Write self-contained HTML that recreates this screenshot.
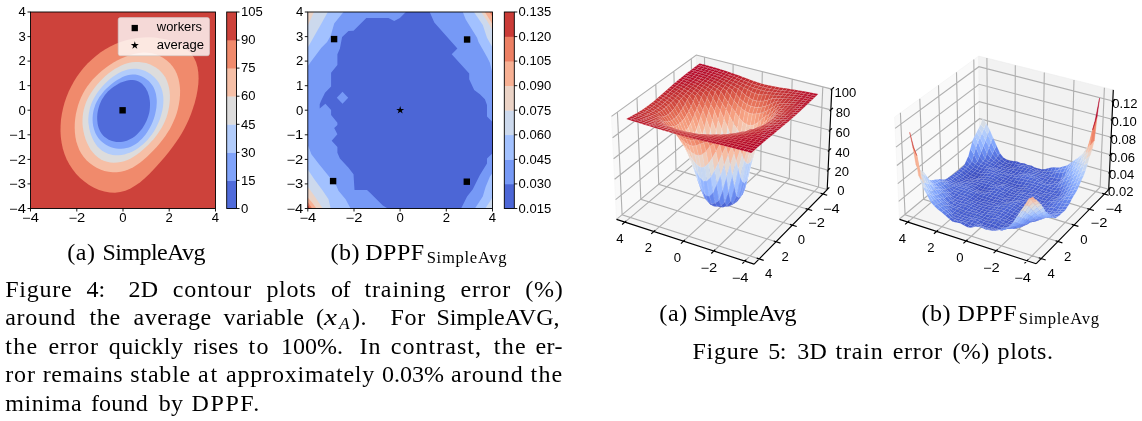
<!DOCTYPE html>
<html><head><meta charset="utf-8"><title>Figure 4 and Figure 5</title>
<style>
html,body{margin:0;padding:0;background:#fff;}
svg,.ln{will-change:transform;}
body{width:1142px;height:421px;position:relative;overflow:hidden;font-family:"Liberation Serif",serif;color:#000;}
.ln{position:absolute;left:0;white-space:nowrap;font-size:24px;line-height:1;}
.ln span{position:absolute;top:0;}
.ln i.mx{display:inline-block;transform:scaleX(1.22);transform-origin:0 50%;margin:0 4.4px 0 -0.6px;letter-spacing:0;}
.ln i.sb{font-size:17.5px;position:relative;top:4.2px;margin-right:2.2px;letter-spacing:0;}
.ln span.sub{font-size:16.6px;top:9.6px;line-height:1;}
</style></head><body>
<svg width="575" height="232" viewBox="0 0 575 232" style="position:absolute;left:0;top:0" font-family="Liberation Sans, sans-serif" font-size="12.0" fill="#000"><rect x="30.5" y="12" width="185.0" height="196.5" fill="#cd423b"/><path d="M148.9 37.3L154.9 37.6L160.8 38.4L166.7 39.6L172.3 41.4L177.6 43.6L182.6 46.2L186.9 49.4L190.7 53.1L193.7 57.3L196 62L197.5 67.2L198.3 72.6L198.6 78.4L198.3 84.3L197.5 90.3L196.4 96.3L194.9 102.2L193.1 108L191.2 113.6L189 118.9L186.7 124L184.2 128.9L181.5 133.7L178.7 138.3L175.6 142.8L172.4 147.3L169 151.7L165.4 156.2L161.7 160.6L157.7 165.1L153.6 169.6L149.3 174L144.8 178.3L140.2 182.2L135.4 185.6L130.5 188.5L125.4 190.7L120.2 192.1L115 192.7L109.7 192.5L104.4 191.6L99.1 190L94 187.8L89.1 185L84.4 181.6L80.1 177.9L76 173.7L72.4 169.1L69.3 164.3L66.6 159.2L64.5 153.9L62.8 148.4L61.6 142.8L60.8 137L60.5 131.2L60.6 125.4L61 119.6L61.9 113.8L63.1 108L64.6 102.4L66.5 96.9L68.7 91.6L71.2 86.4L73.9 81.4L77 76.5L80.3 71.9L83.9 67.5L87.8 63.3L91.9 59.4L96.2 55.7L100.7 52.3L105.4 49.2L110.3 46.5L115.4 44L120.6 41.9L126 40.2L131.5 38.9L137.2 37.9L143 37.4Z" fill="#f08a6c"/><path d="M151.8 53.2L155.9 54.3L159.8 55.9L163.4 57.9L166.8 60.4L169.9 63.2L172.7 66.4L175 69.9L176.8 73.7L178.2 77.7L179.2 81.9L179.8 86.2L180.1 90.7L180 95.2L179.6 99.7L178.9 104.2L178 108.6L176.8 112.9L175.4 117L173.7 121.1L171.9 125L169.9 128.9L167.6 132.6L165.2 136.3L162.6 139.8L159.8 143.3L156.9 146.7L153.8 150L150.6 153.3L147.3 156.5L143.9 159.6L140.3 162.4L136.6 165.1L132.8 167.4L128.9 169.3L125 170.8L120.9 171.8L116.8 172.3L112.6 172.3L108.5 171.8L104.4 170.9L100.4 169.5L96.6 167.7L93 165.6L89.6 163L86.5 160.2L83.7 157L81.3 153.4L79.2 149.7L77.6 145.6L76.3 141.4L75.4 137L74.9 132.4L74.7 127.9L74.8 123.2L75.2 118.7L75.9 114.1L76.9 109.7L78 105.4L79.5 101.3L81.1 97.3L83 93.5L85.1 89.8L87.4 86.3L89.9 82.9L92.7 79.6L95.7 76.4L98.8 73.4L102.2 70.5L105.8 67.7L109.6 65L113.5 62.5L117.6 60.2L121.8 58.2L126.1 56.4L130.4 54.9L134.8 53.7L139.1 52.9L143.4 52.6L147.7 52.7Z" fill="#f6bfa6"/><path d="M135.4 62L139 62L142.5 62.4L146.1 63.1L149.5 64.3L152.7 65.7L155.8 67.5L158.7 69.6L161.2 72L163.5 74.7L165.4 77.6L166.9 80.8L168.1 84.2L169 87.8L169.6 91.4L169.9 95.2L169.9 99L169.6 102.8L169.1 106.6L168.4 110.3L167.5 114L166.4 117.5L165 120.9L163.5 124.2L161.8 127.4L159.9 130.6L157.9 133.6L155.7 136.5L153.4 139.4L150.9 142.1L148.4 144.8L145.7 147.3L142.9 149.8L140 152.2L137 154.4L133.9 156.5L130.7 158.4L127.5 159.9L124.1 161.2L120.7 162.1L117.2 162.6L113.7 162.7L110.3 162.4L107 161.7L103.7 160.7L100.6 159.2L97.8 157.3L95.1 155L92.7 152.3L90.5 149.4L88.6 146.1L87 142.7L85.5 139.1L84.4 135.3L83.5 131.5L82.9 127.7L82.5 123.9L82.5 120.2L82.7 116.5L83.1 113L83.8 109.5L84.8 106.1L85.9 102.8L87.3 99.5L89 96.3L90.8 93.2L92.8 90.2L95 87.2L97.4 84.3L99.9 81.5L102.6 78.7L105.4 76.1L108.4 73.6L111.5 71.2L114.7 69.1L118 67.2L121.3 65.5L124.8 64.1L128.3 63.1L131.8 62.3Z" fill="#dddcdc"/><path d="M133.6 68.7L136.6 68.8L139.6 69.2L142.5 70L145.3 71.1L148 72.5L150.5 74.1L152.9 76L155.1 78L157 80.3L158.8 82.8L160.2 85.4L161.4 88.2L162.3 91.1L162.9 94L163.3 97.1L163.4 100.2L163.3 103.4L163 106.6L162.5 109.8L161.7 113L160.8 116.2L159.8 119.4L158.5 122.5L157.1 125.5L155.6 128.5L153.9 131.4L152 134.2L150 136.8L147.9 139.4L145.7 141.8L143.3 144L140.9 146.1L138.4 148L135.7 149.7L133 151.2L130.2 152.5L127.3 153.6L124.4 154.4L121.4 154.9L118.5 155.2L115.5 155.2L112.6 154.9L109.7 154.3L106.9 153.3L104.3 152.1L101.8 150.5L99.5 148.6L97.4 146.4L95.6 143.9L93.9 141.2L92.4 138.3L91.2 135.2L90.1 132.1L89.3 128.8L88.8 125.6L88.4 122.4L88.3 119.2L88.5 116.1L88.9 113L89.5 110L90.2 107L91.2 104.1L92.4 101.3L93.8 98.5L95.4 95.7L97.1 93.1L99 90.5L101 88L103.2 85.5L105.6 83.1L108 80.8L110.6 78.6L113.3 76.6L116 74.7L118.8 73L121.7 71.6L124.7 70.4L127.7 69.5L130.6 68.9Z" fill="#b2ccfb"/><path d="M132.7 74.5L135.2 74.6L137.7 75L140.1 75.7L142.5 76.7L144.7 77.9L146.8 79.4L148.8 81.1L150.5 82.9L152.1 84.9L153.4 87.1L154.5 89.4L155.3 91.8L156 94.3L156.4 96.9L156.7 99.5L156.8 102.3L156.6 105L156.4 107.8L155.9 110.6L155.3 113.5L154.6 116.3L153.7 119.1L152.7 121.8L151.5 124.5L150.2 127.1L148.8 129.6L147.3 132.1L145.6 134.4L143.9 136.6L142 138.7L140 140.6L138 142.4L135.8 143.9L133.6 145.3L131.3 146.5L128.9 147.4L126.4 148.1L123.9 148.6L121.3 148.8L118.7 148.7L116.2 148.4L113.6 147.9L111.1 147.2L108.7 146.2L106.3 145L104.1 143.6L102.1 142L100.2 140.2L98.5 138.3L97 136.1L95.7 133.8L94.7 131.3L93.9 128.7L93.2 126.1L92.8 123.3L92.6 120.6L92.6 117.8L92.8 115L93.2 112.2L93.8 109.5L94.6 106.9L95.5 104.3L96.7 101.8L98 99.4L99.4 97.1L101 94.9L102.7 92.7L104.5 90.6L106.5 88.6L108.5 86.7L110.7 84.8L112.9 83L115.2 81.3L117.6 79.8L120 78.4L122.5 77.1L125 76.1L127.5 75.3L130.1 74.8Z" fill="#80a3fa"/><path d="M132.8 79.9L134.8 80.2L136.7 80.7L138.5 81.4L140.2 82.4L141.7 83.5L143.1 84.9L144.4 86.4L145.6 88L146.6 89.9L147.6 91.8L148.3 93.9L149 96L149.4 98.2L149.8 100.5L150 102.9L150 105.2L149.9 107.6L149.7 110L149.3 112.4L148.7 114.7L148 117.1L147.2 119.3L146.2 121.6L145.1 123.7L143.9 125.8L142.6 127.9L141.2 129.8L139.7 131.6L138.1 133.3L136.4 134.9L134.6 136.4L132.8 137.7L130.9 138.8L128.9 139.8L126.9 140.7L124.8 141.3L122.8 141.8L120.6 142.1L118.5 142.1L116.3 141.9L114.1 141.6L112 141L110 140.2L108 139.3L106.2 138.1L104.4 136.8L102.9 135.3L101.5 133.6L100.4 131.8L99.4 129.8L98.6 127.8L98 125.6L97.6 123.4L97.3 121.1L97.2 118.8L97.2 116.4L97.4 114.1L97.7 111.7L98.2 109.4L98.8 107.2L99.5 105L100.3 102.9L101.3 100.8L102.4 98.8L103.6 96.9L104.9 95.1L106.4 93.3L107.9 91.6L109.6 90L111.4 88.5L113.3 87L115.3 85.7L117.3 84.4L119.5 83.3L121.7 82.3L124 81.4L126.3 80.7L128.5 80.2L130.7 80Z" fill="#506bda"/><rect x="119.4" y="107.1" width="6.4" height="6.4" fill="#000"/><rect x="118.2" y="17.6" width="91.3" height="38.1" rx="2.2" fill="#fff" fill-opacity="0.8" stroke="#ccc" stroke-opacity="0.8" stroke-width="0.8"/><rect x="131.6" y="24.9" width="6.3" height="6.3" fill="#000"/><path d="M134.8 41.2L135.7 44.1L138.8 44.1L136.3 45.9L137.3 48.8L134.8 47L132.3 48.8L133.3 45.9L130.8 44.1L133.9 44.1Z" fill="#000"/><text x="156.8" y="31.4" textLength="45.3" lengthAdjust="spacingAndGlyphs">workers</text><text x="156.8" y="48.6" textLength="47.2" lengthAdjust="spacingAndGlyphs">average</text><rect x="30.5" y="12" width="185.0" height="196.5" fill="none" stroke="#000" stroke-width="0.9"/><path d="M30.5 12h-3" stroke="#000" stroke-width="0.9"/><text x="25.9" y="16.2" text-anchor="end" textLength="7.3" lengthAdjust="spacingAndGlyphs">4</text><path d="M30.5 36.6h-3" stroke="#000" stroke-width="0.9"/><text x="25.9" y="40.8" text-anchor="end" textLength="7.3" lengthAdjust="spacingAndGlyphs">3</text><path d="M30.5 61.1h-3" stroke="#000" stroke-width="0.9"/><text x="25.9" y="65.3" text-anchor="end" textLength="7.3" lengthAdjust="spacingAndGlyphs">2</text><path d="M30.5 85.7h-3" stroke="#000" stroke-width="0.9"/><text x="25.9" y="89.9" text-anchor="end" textLength="7.3" lengthAdjust="spacingAndGlyphs">1</text><path d="M30.5 110.2h-3" stroke="#000" stroke-width="0.9"/><text x="25.9" y="114.5" text-anchor="end" textLength="7.3" lengthAdjust="spacingAndGlyphs">0</text><path d="M30.5 134.8h-3" stroke="#000" stroke-width="0.9"/><text x="25.9" y="139" text-anchor="end" textLength="16.8" lengthAdjust="spacingAndGlyphs">−1</text><path d="M30.5 159.4h-3" stroke="#000" stroke-width="0.9"/><text x="25.9" y="163.6" text-anchor="end" textLength="16.8" lengthAdjust="spacingAndGlyphs">−2</text><path d="M30.5 183.9h-3" stroke="#000" stroke-width="0.9"/><text x="25.9" y="188.1" text-anchor="end" textLength="16.8" lengthAdjust="spacingAndGlyphs">−3</text><path d="M30.5 208.5h-3" stroke="#000" stroke-width="0.9"/><text x="25.9" y="212.7" text-anchor="end" textLength="16.8" lengthAdjust="spacingAndGlyphs">−4</text><path d="M30.5 208.5v3" stroke="#000" stroke-width="0.9"/><text x="30.5" y="222.1" text-anchor="middle" textLength="16.8" lengthAdjust="spacingAndGlyphs">−4</text><path d="M76.8 208.5v3" stroke="#000" stroke-width="0.9"/><text x="76.8" y="222.1" text-anchor="middle" textLength="16.8" lengthAdjust="spacingAndGlyphs">−2</text><path d="M123 208.5v3" stroke="#000" stroke-width="0.9"/><text x="123" y="222.1" text-anchor="middle" textLength="7.3" lengthAdjust="spacingAndGlyphs">0</text><path d="M169.2 208.5v3" stroke="#000" stroke-width="0.9"/><text x="169.2" y="222.1" text-anchor="middle" textLength="7.3" lengthAdjust="spacingAndGlyphs">2</text><path d="M215.5 208.5v3" stroke="#000" stroke-width="0.9"/><text x="215.5" y="222.1" text-anchor="middle" textLength="7.3" lengthAdjust="spacingAndGlyphs">4</text><rect x="226.7" y="180.4" width="9.8" height="28.4" fill="#506bda"/><rect x="226.7" y="152.4" width="9.8" height="28.4" fill="#80a3fa"/><rect x="226.7" y="124.3" width="9.8" height="28.4" fill="#b2ccfb"/><rect x="226.7" y="96.2" width="9.8" height="28.4" fill="#dddcdc"/><rect x="226.7" y="68.1" width="9.8" height="28.4" fill="#f6bfa6"/><rect x="226.7" y="40.1" width="9.8" height="28.4" fill="#f08a6c"/><rect x="226.7" y="12" width="9.8" height="28.4" fill="#cd423b"/><rect x="226.7" y="12" width="9.8" height="196.5" fill="none" stroke="#000" stroke-width="0.9"/><path d="M236.5 208.5h3" stroke="#000" stroke-width="0.9"/><text x="241.1" y="212.7" textLength="7.3" lengthAdjust="spacingAndGlyphs">0</text><path d="M236.5 180.4h3" stroke="#000" stroke-width="0.9"/><text x="241.1" y="184.6" textLength="14.5" lengthAdjust="spacingAndGlyphs">15</text><path d="M236.5 152.4h3" stroke="#000" stroke-width="0.9"/><text x="241.1" y="156.6" textLength="14.5" lengthAdjust="spacingAndGlyphs">30</text><path d="M236.5 124.3h3" stroke="#000" stroke-width="0.9"/><text x="241.1" y="128.5" textLength="14.5" lengthAdjust="spacingAndGlyphs">45</text><path d="M236.5 96.2h3" stroke="#000" stroke-width="0.9"/><text x="241.1" y="100.4" textLength="14.5" lengthAdjust="spacingAndGlyphs">60</text><path d="M236.5 68.1h3" stroke="#000" stroke-width="0.9"/><text x="241.1" y="72.3" textLength="14.5" lengthAdjust="spacingAndGlyphs">75</text><path d="M236.5 40.1h3" stroke="#000" stroke-width="0.9"/><text x="241.1" y="44.3" textLength="14.5" lengthAdjust="spacingAndGlyphs">90</text><path d="M236.5 12h3" stroke="#000" stroke-width="0.9"/><text x="241.1" y="16.2" textLength="21.8" lengthAdjust="spacingAndGlyphs">105</text><rect x="307.8" y="12" width="184.7" height="196.5" fill="#7699f6"/><path d="M405.9 12L399.9 18.1L394.2 21L388.5 18.1L366.3 18.1L353.5 30.7L348.5 31L342.1 37.1L339.9 48.5L337.4 54.2L337.4 65L331.1 72.8L331.1 86.4L325 92.8L321.1 100.7L319.7 104.2L319.7 108.5L325.4 103.8L331.1 109.9L331.1 114.9L337.4 122.8L337.4 125L334.2 127.9L337.4 134.3L331.7 140.7L337.4 147.1L337.4 152.8L339.9 158.5L348.5 167.8L353.5 174.3L354.5 190L367 190L370 192.8L382.8 205.6L387.8 208.5L461.1 208.5L467.1 196.4L472.8 189.2L479.9 175L487 163.6L487 158.6L490.6 155L492.5 153.5L492.5 122.1L487 116.4L487 105L484.9 99.3L479.9 94.2L474.2 89.9L469.2 79.2L469.2 73.5L451.7 54.3L457.4 48.5L434.3 22.5L429.7 12Z" fill="#4c66d6"/><path d="M342.5 91.8L348.2 97.8L342.5 103.8L336.8 97.8Z" fill="#7699f6"/><path d="M343.5 12L334.2 23.5L330.7 35.7L327.1 42.1L321.4 47.8L310.7 62.1L307.8 66L307.8 12Z" fill="#a2c1ff"/><path d="M327.8 12L321.4 23.5L307.8 47.5L307.8 12Z" fill="#ccd9ed"/><path d="M314 12L307.8 25.5L307.8 12Z" fill="#ebd3c6"/><path d="M307.8 145L311.4 154.2L318.5 163.6L330.7 178.5L336.4 185.7L338.5 190.7L345.6 199.2L350.6 208.5L307.8 208.5Z" fill="#a2c1ff"/><path d="M307.8 169.5L314.3 179.3L322.8 190.7L328.5 199.2L330.7 208.5L307.8 208.5Z" fill="#ccd9ed"/><path d="M307.8 186.8L314.3 195.7L322.8 208.5L307.8 208.5Z" fill="#ebd3c6"/><path d="M307.8 197.5L312.8 203.5L316.4 208.5L307.8 208.5Z" fill="#f7b093"/><path d="M307.8 202L312.1 208.5L307.8 208.5Z" fill="#ec7f63"/><path d="M307.8 205.3L310 208.5L307.8 208.5Z" fill="#ca3b37"/><path d="M474.9 208.5L482.8 196.4L485.6 187.1L489.9 176.4L492.5 173L492.5 208.5Z" fill="#a2c1ff"/><path d="M485.3 208.5L492.5 197.5L492.5 208.5Z" fill="#ccd9ed"/><path d="M462.8 12L465.6 19.3L477.1 37.8L478.5 42.1L484.2 52.1L487 57.1L489.9 62.8L492.5 73.5L492.5 12Z" fill="#a2c1ff"/><path d="M473.9 12L482.8 25L487 37.8L492.5 47.6L492.5 12Z" fill="#ccd9ed"/><path d="M481.1 12L487 20.7L492.5 30L492.5 12Z" fill="#ebd3c6"/><path d="M484.9 12L492.5 24.3L492.5 12Z" fill="#f7b093"/><path d="M489.5 12L492.5 17L492.5 12Z" fill="#ec7f63"/><rect x="330.9" y="35.9" width="6.4" height="6.4" fill="#000"/><rect x="463.9" y="36.3" width="6.4" height="6.4" fill="#000"/><rect x="329.9" y="177.9" width="6.4" height="6.4" fill="#000"/><rect x="463.6" y="178.5" width="6.4" height="6.4" fill="#000"/><path d="M400.2 106L401.1 108.9L404.2 108.9L401.7 110.7L402.7 113.6L400.2 111.8L397.7 113.6L398.7 110.7L396.2 108.9L399.3 108.9Z" fill="#000"/><rect x="307.8" y="12" width="184.7" height="196.5" fill="none" stroke="#000" stroke-width="0.9"/><path d="M307.8 12h-3" stroke="#000" stroke-width="0.9"/><text x="303.2" y="16.2" text-anchor="end" textLength="7.3" lengthAdjust="spacingAndGlyphs">4</text><path d="M307.8 36.6h-3" stroke="#000" stroke-width="0.9"/><text x="303.2" y="40.8" text-anchor="end" textLength="7.3" lengthAdjust="spacingAndGlyphs">3</text><path d="M307.8 61.1h-3" stroke="#000" stroke-width="0.9"/><text x="303.2" y="65.3" text-anchor="end" textLength="7.3" lengthAdjust="spacingAndGlyphs">2</text><path d="M307.8 85.7h-3" stroke="#000" stroke-width="0.9"/><text x="303.2" y="89.9" text-anchor="end" textLength="7.3" lengthAdjust="spacingAndGlyphs">1</text><path d="M307.8 110.2h-3" stroke="#000" stroke-width="0.9"/><text x="303.2" y="114.5" text-anchor="end" textLength="7.3" lengthAdjust="spacingAndGlyphs">0</text><path d="M307.8 134.8h-3" stroke="#000" stroke-width="0.9"/><text x="303.2" y="139" text-anchor="end" textLength="16.8" lengthAdjust="spacingAndGlyphs">−1</text><path d="M307.8 159.4h-3" stroke="#000" stroke-width="0.9"/><text x="303.2" y="163.6" text-anchor="end" textLength="16.8" lengthAdjust="spacingAndGlyphs">−2</text><path d="M307.8 183.9h-3" stroke="#000" stroke-width="0.9"/><text x="303.2" y="188.1" text-anchor="end" textLength="16.8" lengthAdjust="spacingAndGlyphs">−3</text><path d="M307.8 208.5h-3" stroke="#000" stroke-width="0.9"/><text x="303.2" y="212.7" text-anchor="end" textLength="16.8" lengthAdjust="spacingAndGlyphs">−4</text><path d="M307.8 208.5v3" stroke="#000" stroke-width="0.9"/><text x="307.8" y="222.1" text-anchor="middle" textLength="16.8" lengthAdjust="spacingAndGlyphs">−4</text><path d="M354 208.5v3" stroke="#000" stroke-width="0.9"/><text x="354" y="222.1" text-anchor="middle" textLength="16.8" lengthAdjust="spacingAndGlyphs">−2</text><path d="M400.1 208.5v3" stroke="#000" stroke-width="0.9"/><text x="400.1" y="222.1" text-anchor="middle" textLength="7.3" lengthAdjust="spacingAndGlyphs">0</text><path d="M446.3 208.5v3" stroke="#000" stroke-width="0.9"/><text x="446.3" y="222.1" text-anchor="middle" textLength="7.3" lengthAdjust="spacingAndGlyphs">2</text><path d="M492.5 208.5v3" stroke="#000" stroke-width="0.9"/><text x="492.5" y="222.1" text-anchor="middle" textLength="7.3" lengthAdjust="spacingAndGlyphs">4</text><rect x="504.3" y="183.9" width="10" height="24.9" fill="#4c66d6"/><rect x="504.3" y="159.4" width="10" height="24.9" fill="#7699f6"/><rect x="504.3" y="134.8" width="10" height="24.9" fill="#a2c1ff"/><rect x="504.3" y="110.2" width="10" height="24.9" fill="#ccd9ed"/><rect x="504.3" y="85.7" width="10" height="24.9" fill="#ebd3c6"/><rect x="504.3" y="61.1" width="10" height="24.9" fill="#f7b093"/><rect x="504.3" y="36.6" width="10" height="24.9" fill="#ec7f63"/><rect x="504.3" y="12" width="10" height="24.9" fill="#ca3b37"/><rect x="504.3" y="12" width="10" height="196.5" fill="none" stroke="#000" stroke-width="0.9"/><path d="M514.3 208.5h3" stroke="#000" stroke-width="0.9"/><text x="518.6" y="212.7" textLength="32.6" lengthAdjust="spacingAndGlyphs">0.015</text><path d="M514.3 183.9h3" stroke="#000" stroke-width="0.9"/><text x="518.6" y="188.1" textLength="32.6" lengthAdjust="spacingAndGlyphs">0.030</text><path d="M514.3 159.4h3" stroke="#000" stroke-width="0.9"/><text x="518.6" y="163.6" textLength="32.6" lengthAdjust="spacingAndGlyphs">0.045</text><path d="M514.3 134.8h3" stroke="#000" stroke-width="0.9"/><text x="518.6" y="139" textLength="32.6" lengthAdjust="spacingAndGlyphs">0.060</text><path d="M514.3 110.2h3" stroke="#000" stroke-width="0.9"/><text x="518.6" y="114.5" textLength="32.6" lengthAdjust="spacingAndGlyphs">0.075</text><path d="M514.3 85.7h3" stroke="#000" stroke-width="0.9"/><text x="518.6" y="89.9" textLength="32.6" lengthAdjust="spacingAndGlyphs">0.090</text><path d="M514.3 61.1h3" stroke="#000" stroke-width="0.9"/><text x="518.6" y="65.3" textLength="32.6" lengthAdjust="spacingAndGlyphs">0.105</text><path d="M514.3 36.6h3" stroke="#000" stroke-width="0.9"/><text x="518.6" y="40.8" textLength="32.6" lengthAdjust="spacingAndGlyphs">0.120</text><path d="M514.3 12h3" stroke="#000" stroke-width="0.9"/><text x="518.6" y="16.2" textLength="32.6" lengthAdjust="spacingAndGlyphs">0.135</text></svg>
<svg width="572" height="320" viewBox="570 0 572 320" style="position:absolute;left:570px;top:0" font-family="Liberation Sans, sans-serif" font-size="12.0" fill="#000" shape-rendering="auto"><path d="M697.4 152.1L616.5 219.4L611.5 116.4L696.3 55Z" fill="#f9f9f9" stroke="#f4f4f4" stroke-width="0.6"/><path d="M827.2 189.6L697.4 152.1L696.3 55L831.8 89.1Z" fill="#f2f2f2" stroke="#ededed" stroke-width="0.6"/><path d="M827.2 189.6L697.4 152.1L616.5 219.4L754.1 264.1Z" fill="#f5f5f5" stroke="#f0f0f0" stroke-width="0.6"/><path d="M744.9 261.1L818.5 187.1L822.8 86.8M822.9 193.9L692.7 156L691.3 58.6M713.9 251L789.3 178.6L792.2 79.1M807.9 209.2L676 169.9L673.9 71.2M683.5 241.2L760.7 170.4L762.3 71.6M792.3 225.2L658.7 184.3L655.8 84.3M653.9 231.6L732.7 162.3L733.1 64.2M776.1 241.7L640.8 199.3L637 98M624.9 222.1L705.3 154.4L704.5 57M759.2 258.9L622.1 214.8L617.4 112.2M616.5 219.4L697.4 152.1L827.2 189.6M615.6 199.6L697.2 133.3L828.1 170.2M614.6 179.3L697 114.2L829 150.4M613.6 158.7L696.8 94.8L829.9 130.3M612.6 137.8L696.5 75L830.9 109.9M611.5 116.4L696.3 55L831.8 89.1" fill="none" stroke="#b0b0b0" stroke-width="1.12"/><g stroke="#fff" stroke-opacity="0.3" stroke-width="0.35" stroke-linejoin="round"><path d="M703.2 64.3L699.6 63.4L697.5 65L701 65.9Z" fill="#b40426"/><path d="M706.7 65.3L703.2 64.3L701 65.9L704.6 66.9Z" fill="#b40426"/><path d="M701 65.9L697.5 65L695.4 66.6L698.9 67.6Z" fill="#b40426"/><path d="M710.3 66.3L706.7 65.3L704.6 66.9L708.2 67.9Z" fill="#b40426"/><path d="M704.6 66.9L701 65.9L698.9 67.6L702.5 68.6Z" fill="#b40426"/><path d="M713.9 67.3L710.3 66.3L708.2 67.9L711.8 69Z" fill="#b40426"/><path d="M698.9 67.6L695.4 66.6L693.2 68.2L696.8 69.2Z" fill="#b40426"/><path d="M708.2 67.9L704.6 66.9L702.5 68.6L706.1 69.6Z" fill="#b40426"/><path d="M717.5 68.3L713.9 67.3L711.8 69L715.4 70Z" fill="#b40426"/><path d="M702.5 68.6L698.9 67.6L696.8 69.2L700.3 70.3Z" fill="#b40426"/><path d="M711.8 69L708.2 67.9L706.1 69.6L709.7 70.7Z" fill="#b40426"/><path d="M721.1 69.4L717.5 68.3L715.4 70L719 71.2Z" fill="#b50927"/><path d="M696.8 69.2L693.2 68.2L691 69.9L694.6 70.9Z" fill="#b40426"/><path d="M706.1 69.6L702.5 68.6L700.3 70.3L703.9 71.3Z" fill="#b40426"/><path d="M715.4 70L711.8 69L709.7 70.7L713.3 71.8Z" fill="#b50927"/><path d="M724.7 70.5L721.1 69.4L719 71.2L722.6 72.3Z" fill="#b50927"/><path d="M700.3 70.3L696.8 69.2L694.6 70.9L698.2 72Z" fill="#b40426"/><path d="M728.5 187.6L724.9 182.1L722.8 190.2L726.5 194.1Z" fill="#516ddb"/><path d="M709.7 70.7L706.1 69.6L703.9 71.3L707.5 72.4Z" fill="#b50927"/><path d="M732.2 190.6L728.5 187.6L726.5 194.1L730.1 196.2Z" fill="#4961d2"/><path d="M719 71.2L715.4 70L713.3 71.8L716.9 73Z" fill="#b50927"/><path d="M728.3 71.7L724.7 70.5L722.6 72.3L726.2 73.6Z" fill="#b70d28"/><path d="M726.5 194.1L722.8 190.2L720.8 195.3L724.4 198.1Z" fill="#445acc"/><path d="M734.3 181.4L730.6 177.1L728.5 187.6L732.2 190.6Z" fill="#5d7ce6"/><path d="M694.6 70.9L691 69.9L688.9 71.6L692.5 72.6Z" fill="#b40426"/><path d="M722.8 190.2L719.2 183.2L717.1 190.1L720.8 195.3Z" fill="#506bda"/><path d="M730.6 177.1L727 170.1L724.9 182.1L728.5 187.6Z" fill="#6b8df0"/><path d="M724.9 182.1L721.3 172.8L719.2 183.2L722.8 190.2Z" fill="#6384eb"/><path d="M703.9 71.3L700.3 70.3L698.2 72L701.8 73.1Z" fill="#b50927"/><path d="M730.1 196.2L726.5 194.1L724.4 198.1L728 199.7Z" fill="#3f53c6"/><path d="M735.8 191.7L732.2 190.6L730.1 196.2L733.7 197.2Z" fill="#465ecf"/><path d="M713.3 71.8L709.7 70.7L707.5 72.4L711.1 73.6Z" fill="#b50927"/><path d="M737.9 182.9L734.3 181.4L732.2 190.6L735.8 191.7Z" fill="#5875e1"/><path d="M722.6 72.3L719 71.2L716.9 73L720.5 74.2Z" fill="#b70d28"/><path d="M731.9 72.9L728.3 71.7L726.2 73.6L729.8 74.9Z" fill="#b8122a"/><path d="M720.8 195.3L717.1 190.1L715 194.7L718.7 198.7Z" fill="#455cce"/><path d="M698.2 72L694.6 70.9L692.5 72.6L696 73.7Z" fill="#b40426"/><path d="M724.4 198.1L720.8 195.3L718.7 198.7L722.3 200.7Z" fill="#3e51c5"/><path d="M707.5 72.4L703.9 71.3L701.8 73.1L705.4 74.2Z" fill="#b50927"/><path d="M733.7 197.2L730.1 196.2L728 199.7L731.6 200.6Z" fill="#3e51c5"/><path d="M727 170.1L723.4 160.7L721.3 172.8L724.9 182.1Z" fill="#84a7fc"/><path d="M716.9 73L713.3 71.8L711.1 73.6L714.8 74.8Z" fill="#b70d28"/><path d="M719.2 183.2L715.6 171.5L713.5 180.6L717.1 190.1Z" fill="#688aef"/><path d="M736.4 166.9L732.8 163.2L730.6 177.1L734.3 181.4Z" fill="#82a6fb"/><path d="M726.2 73.6L722.6 72.3L720.5 74.2L724.1 75.5Z" fill="#b8122a"/><path d="M717.1 190.1L713.5 180.6L711.4 187L715 194.7Z" fill="#5875e1"/><path d="M735.5 74.2L731.9 72.9L729.8 74.9L733.5 76.2Z" fill="#ba162b"/><path d="M739.4 191.2L735.8 191.7L733.7 197.2L737.4 197.1Z" fill="#4961d2"/><path d="M741.6 181.9L737.9 182.9L735.8 191.7L739.4 191.2Z" fill="#5b7ae5"/><path d="M692.5 72.6L688.9 71.6L686.7 73.3L690.3 74.3Z" fill="#b40426"/><path d="M728 199.7L724.4 198.1L722.3 200.7L725.9 202Z" fill="#3b4cc0"/><path d="M701.8 73.1L698.2 72L696 73.7L699.6 74.8Z" fill="#b50927"/><path d="M740 167.9L736.4 166.9L734.3 181.4L737.9 182.9Z" fill="#7da0f9"/><path d="M732.8 163.2L729.1 155.3L727 170.1L730.6 177.1Z" fill="#93b5fe"/><path d="M718.7 198.7L715 194.7L712.9 197.7L716.5 201.1Z" fill="#4055c8"/><path d="M721.3 172.8L717.7 161L715.6 171.5L719.2 183.2Z" fill="#84a7fc"/><path d="M711.1 73.6L707.5 72.4L705.4 74.2L709 75.4Z" fill="#b70d28"/><path d="M720.5 74.2L716.9 73L714.8 74.8L718.4 76.1Z" fill="#b8122a"/><path d="M729.8 74.9L726.2 73.6L724.1 75.5L727.7 76.9Z" fill="#ba162b"/><path d="M715 194.7L711.4 187L709.3 191L712.9 197.7Z" fill="#4f69d9"/><path d="M737.4 197.1L733.7 197.2L731.6 200.6L735.3 200.8Z" fill="#3f53c6"/><path d="M722.3 200.7L718.7 198.7L716.5 201.1L720.2 202.8Z" fill="#3c4ec2"/><path d="M739.2 75.6L735.5 74.2L733.5 76.2L737.1 77.7Z" fill="#bb1b2c"/><path d="M696 73.7L692.5 72.6L690.3 74.3L693.9 75.5Z" fill="#b50927"/><path d="M731.6 200.6L728 199.7L725.9 202L729.5 203Z" fill="#3b4cc0"/><path d="M705.4 74.2L701.8 73.1L699.6 74.8L703.3 76Z" fill="#b50927"/><path d="M714.8 74.8L711.1 73.6L709 75.4L712.6 76.7Z" fill="#b70d28"/><path d="M724.1 75.5L720.5 74.2L718.4 76.1L722 77.5Z" fill="#b8122a"/><path d="M733.5 76.2L729.8 74.9L727.7 76.9L731.4 78.4Z" fill="#bb1b2c"/><path d="M743.7 166.1L740 167.9L737.9 182.9L741.6 181.9Z" fill="#81a4fb"/><path d="M725.9 202L722.3 200.7L720.2 202.8L723.8 203.9Z" fill="#3b4cc0"/><path d="M742.8 76.9L739.2 75.6L737.1 77.7L740.8 79.2Z" fill="#bd1f2d"/><path d="M690.3 74.3L686.7 73.3L684.5 75L688.1 76.1Z" fill="#b50927"/><path d="M743.1 188.6L739.4 191.2L737.4 197.1L741 195.1Z" fill="#506bda"/><path d="M729.1 155.3L725.5 144L723.4 160.7L727 170.1Z" fill="#afcafc"/><path d="M723.4 160.7L719.7 147.1L717.7 161L721.3 172.8Z" fill="#a7c5fe"/><path d="M699.6 74.8L696 73.7L693.9 75.5L697.5 76.7Z" fill="#b50927"/><path d="M716.5 201.1L712.9 197.7L710.8 199.6L714.4 202.9Z" fill="#3f53c6"/><path d="M709 75.4L705.4 74.2L703.3 76L706.9 77.3Z" fill="#b70d28"/><path d="M745.3 176.5L741.6 181.9L739.4 191.2L743.1 188.6Z" fill="#6788ee"/><path d="M713.5 180.6L709.8 166.7L707.7 173.7L711.4 187Z" fill="#7b9ff9"/><path d="M735.3 200.8L731.6 200.6L729.5 203L733.2 203.3Z" fill="#3c4ec2"/><path d="M718.4 76.1L714.8 74.8L712.6 76.7L716.3 78.1Z" fill="#b8122a"/><path d="M712.9 197.7L709.3 191L707.1 193.3L710.8 199.6Z" fill="#4c66d6"/><path d="M727.7 76.9L724.1 75.5L722 77.5L725.7 79Z" fill="#bb1b2c"/><path d="M715.6 171.5L711.9 157.5L709.8 166.7L713.5 180.6Z" fill="#92b4fe"/><path d="M737.1 77.7L733.5 76.2L731.4 78.4L735 79.9Z" fill="#bd1f2d"/><path d="M741 195.1L737.4 197.1L735.3 200.8L739 199.2Z" fill="#465ecf"/><path d="M738.5 150.3L734.9 145.4L732.8 163.2L736.4 166.9Z" fill="#b5cdfa"/><path d="M720.2 202.8L716.5 201.1L714.4 202.9L718.1 204.6Z" fill="#3b4cc0"/><path d="M746.5 78.3L742.8 76.9L740.8 79.2L744.4 80.7Z" fill="#be242e"/><path d="M693.9 75.5L690.3 74.3L688.1 76.1L691.7 77.3Z" fill="#b50927"/><path d="M711.4 187L707.7 173.7L705.6 178.8L709.3 191Z" fill="#6e90f2"/><path d="M729.5 203L725.9 202L723.8 203.9L727.5 205Z" fill="#3b4cc0"/><path d="M703.3 76L699.6 74.8L697.5 76.7L701.1 77.9Z" fill="#b70d28"/><path d="M742.2 152.3L738.5 150.3L736.4 166.9L740 167.9Z" fill="#aec9fc"/><path d="M712.6 76.7L709 75.4L706.9 77.3L710.5 78.7Z" fill="#b8122a"/><path d="M722 77.5L718.4 76.1L716.3 78.1L719.9 79.6Z" fill="#ba162b"/><path d="M734.9 145.4L731.3 137.2L729.1 155.3L732.8 163.2Z" fill="#c5d6f2"/><path d="M731.4 78.4L727.7 76.9L725.7 79L729.3 80.6Z" fill="#bd1f2d"/><path d="M740.8 79.2L737.1 77.7L735 79.9L738.7 81.6Z" fill="#c0282f"/><path d="M717.7 161L714 146L711.9 157.5L715.6 171.5Z" fill="#afcafc"/><path d="M750.2 79.7L746.5 78.3L744.4 80.7L748.1 82.2Z" fill="#c12b30"/><path d="M723.8 203.9L720.2 202.8L718.1 204.6L721.7 205.8Z" fill="#3b4cc0"/><path d="M688.1 76.1L684.5 75L682.3 76.7L685.9 77.9Z" fill="#b50927"/><path d="M697.5 76.7L693.9 75.5L691.7 77.3L695.3 78.5Z" fill="#b70d28"/><path d="M706.9 77.3L703.3 76L701.1 77.9L704.7 79.3Z" fill="#b8122a"/><path d="M739 199.2L735.3 200.8L733.2 203.3L736.9 201.8Z" fill="#4257c9"/><path d="M733.2 203.3L729.5 203L727.5 205L731.1 205.2Z" fill="#3c4ec2"/><path d="M716.3 78.1L712.6 76.7L710.5 78.7L714.1 80.2Z" fill="#ba162b"/><path d="M709.3 191L705.6 178.8L703.4 181.9L707.1 193.3Z" fill="#6788ee"/><path d="M714.4 202.9L710.8 199.6L708.6 200.6L712.3 204.1Z" fill="#4055c8"/><path d="M725.7 79L722 77.5L719.9 79.6L723.5 81.2Z" fill="#bd1f2d"/><path d="M735 79.9L731.4 78.4L729.3 80.6L733 82.3Z" fill="#c0282f"/><path d="M747.5 162.2L743.7 166.1L741.6 181.9L745.3 176.5Z" fill="#90b2fe"/><path d="M744.4 80.7L740.8 79.2L738.7 81.6L742.4 83.2Z" fill="#c12b30"/><path d="M710.8 199.6L707.1 193.3L705 194L708.6 200.6Z" fill="#4e68d8"/><path d="M745.9 151.8L742.2 152.3L740 167.9L743.7 166.1Z" fill="#b1cbfc"/><path d="M753.8 81.1L750.2 79.7L748.1 82.2L751.8 83.7Z" fill="#c32e31"/><path d="M691.7 77.3L688.1 76.1L685.9 77.9L689.5 79.1Z" fill="#b70d28"/><path d="M718.1 204.6L714.4 202.9L712.3 204.1L715.9 206Z" fill="#3c4ec2"/><path d="M725.5 144L721.8 129.1L719.7 147.1L723.4 160.7Z" fill="#d4dbe6"/><path d="M727.5 205L723.8 203.9L721.7 205.8L725.4 206.6Z" fill="#3b4cc0"/><path d="M701.1 77.9L697.5 76.7L695.3 78.5L698.9 79.9Z" fill="#b8122a"/><path d="M746.9 180.5L743.1 188.6L741 195.1L744.8 189.7Z" fill="#6384eb"/><path d="M710.5 78.7L706.9 77.3L704.7 79.3L708.4 80.8Z" fill="#ba162b"/><path d="M719.9 79.6L716.3 78.1L714.1 80.2L717.8 81.8Z" fill="#bd1f2d"/><path d="M729.3 80.6L725.7 79L723.5 81.2L727.2 83Z" fill="#c0282f"/><path d="M738.7 81.6L735 79.9L733 82.3L736.6 84.1Z" fill="#c32e31"/><path d="M731.3 137.2L727.6 126.7L725.5 144L729.1 155.3Z" fill="#dedcdb"/><path d="M748.1 82.2L744.4 80.7L742.4 83.2L746 84.9Z" fill="#c43032"/><path d="M744.8 189.7L741 195.1L739 199.2L742.7 194.2Z" fill="#5572df"/><path d="M719.7 147.1L716.1 130.5L714 146L717.7 161Z" fill="#d4dbe6"/><path d="M757.5 82.3L753.8 81.1L751.8 83.7L755.5 85Z" fill="#c43032"/><path d="M685.9 77.9L682.3 76.7L680.1 78.5L683.7 79.7Z" fill="#b70d28"/><path d="M695.3 78.5L691.7 77.3L689.5 79.1L693.1 80.5Z" fill="#b70d28"/><path d="M721.7 205.8L718.1 204.6L715.9 206L719.6 207Z" fill="#3b4cc0"/><path d="M704.7 79.3L701.1 77.9L698.9 79.9L702.6 81.4Z" fill="#ba162b"/><path d="M709.8 166.7L706.1 151.5L704 158.8L707.7 173.7Z" fill="#abc8fd"/><path d="M714.1 80.2L710.5 78.7L708.4 80.8L712 82.4Z" fill="#bb1b2c"/><path d="M736.9 201.8L733.2 203.3L731.1 205.2L734.8 203.3Z" fill="#4257c9"/><path d="M733 82.3L729.3 80.6L727.2 83L730.9 84.9Z" fill="#c32e31"/><path d="M723.5 81.2L719.9 79.6L717.8 81.8L721.4 83.6Z" fill="#be242e"/><path d="M742.4 83.2L738.7 81.6L736.6 84.1L740.3 86Z" fill="#c53334"/><path d="M749.1 167.9L745.3 176.5L743.1 188.6L746.9 180.5Z" fill="#81a4fb"/><path d="M740.7 134.6L737.1 128.9L734.9 145.4L738.5 150.3Z" fill="#e1dad6"/><path d="M744.4 137.5L740.7 134.6L738.5 150.3L742.2 152.3Z" fill="#d9dce1"/><path d="M707.1 193.3L703.4 181.9L701.2 182.7L705 194Z" fill="#688aef"/><path d="M751.8 83.7L748.1 82.2L746 84.9L749.7 86.4Z" fill="#c73635"/><path d="M731.1 205.2L727.5 205L725.4 206.6L729 206.2Z" fill="#3d50c3"/><path d="M707.7 173.7L704 158.8L701.8 164.2L705.6 178.8Z" fill="#9dbdff"/><path d="M711.9 157.5L708.2 141.7L706.1 151.5L709.8 166.7Z" fill="#c3d5f4"/><path d="M689.5 79.1L685.9 77.9L683.7 79.7L687.3 81.1Z" fill="#b70d28"/><path d="M761.2 83.5L757.5 82.3L755.5 85L759.2 86.2Z" fill="#c53334"/><path d="M712.3 204.1L708.6 200.6L706.5 200.2L710.1 204.2Z" fill="#455cce"/><path d="M698.9 79.9L695.3 78.5L693.1 80.5L696.8 81.9Z" fill="#ba162b"/><path d="M737.1 128.9L733.4 123L731.3 137.2L734.9 145.4Z" fill="#edd1c2"/><path d="M736.6 84.1L733 82.3L730.9 84.9L734.5 86.9Z" fill="#c53334"/><path d="M708.4 80.8L704.7 79.3L702.6 81.4L706.2 83Z" fill="#bb1b2c"/><path d="M742.7 194.2L739 199.2L736.9 201.8L740.6 196.7Z" fill="#506bda"/><path d="M727.2 83L723.5 81.2L721.4 83.6L725.1 85.6Z" fill="#c32e31"/><path d="M717.8 81.8L714.1 80.2L712 82.4L715.7 84.2Z" fill="#be242e"/><path d="M746 84.9L742.4 83.2L740.3 86L744 87.8Z" fill="#c83836"/><path d="M749.6 149.1L745.9 151.8L743.7 166.1L747.5 162.2Z" fill="#bcd2f7"/><path d="M725.4 206.6L721.7 205.8L719.6 207L723.2 207.2Z" fill="#3c4ec2"/><path d="M708.6 200.6L705 194L702.8 193L706.5 200.2Z" fill="#5470de"/><path d="M755.5 85L751.8 83.7L749.7 86.4L753.4 87.9Z" fill="#c83836"/><path d="M715.9 206L712.3 204.1L710.1 204.2L713.8 206.2Z" fill="#4055c8"/><path d="M748.1 138.1L744.4 137.5L742.2 152.3L745.9 151.8Z" fill="#d9dce1"/><path d="M705.6 178.8L701.8 164.2L699.7 167.8L703.4 181.9Z" fill="#93b5fe"/><path d="M683.7 79.7L680.1 78.5L677.9 80.3L681.5 81.6Z" fill="#b70d28"/><path d="M714 146L710.3 129.8L708.2 141.7L711.9 157.5Z" fill="#dcdddd"/><path d="M740.3 86L736.6 84.1L734.5 86.9L738.2 89Z" fill="#ca3b37"/><path d="M693.1 80.5L689.5 79.1L687.3 81.1L691 82.5Z" fill="#b8122a"/><path d="M730.9 84.9L727.2 83L725.1 85.6L728.8 87.7Z" fill="#c53334"/><path d="M721.4 83.6L717.8 81.8L715.7 84.2L719.3 86.2Z" fill="#c12b30"/><path d="M702.6 81.4L698.9 79.9L696.8 81.9L700.4 83.5Z" fill="#bb1b2c"/><path d="M764.9 84.5L761.2 83.5L759.2 86.2L762.9 87.1Z" fill="#c53334"/><path d="M712 82.4L708.4 80.8L706.2 83L709.9 84.7Z" fill="#be242e"/><path d="M749.7 86.4L746 84.9L744 87.8L747.7 89.5Z" fill="#cb3e38"/><path d="M727.6 126.7L724 118.6L721.8 129.1L725.5 144Z" fill="#f2c9b4"/><path d="M751.2 155.8L747.5 162.2L745.3 176.5L749.1 167.9Z" fill="#aac7fd"/><path d="M733.4 123L729.7 116.1L727.6 126.7L731.3 137.2Z" fill="#f6bfa6"/><path d="M721.8 129.1L718.2 120.1L716.1 130.5L719.7 147.1Z" fill="#f1ccb8"/><path d="M759.2 86.2L755.5 85L753.4 87.9L757.1 89.1Z" fill="#ca3b37"/><path d="M734.8 203.3L731.1 205.2L729 206.2L732.7 203.4Z" fill="#445acc"/><path d="M719.6 207L715.9 206L713.8 206.2L717.4 206.6Z" fill="#3f53c6"/><path d="M744 87.8L740.3 86L738.2 89L741.9 92.1Z" fill="#cd423b"/><path d="M734.5 86.9L730.9 84.9L728.8 87.7L732.4 90Z" fill="#ca3b37"/><path d="M742.9 121.9L739.2 117.8L737.1 128.9L740.7 134.6Z" fill="#f6bfa6"/><path d="M725.1 85.6L721.4 83.6L719.3 86.2L723 88.4Z" fill="#c53334"/><path d="M687.3 81.1L683.7 79.7L681.5 81.6L685.1 83Z" fill="#b8122a"/><path d="M746.6 124.5L742.9 121.9L740.7 134.6L744.4 137.5Z" fill="#f3c7b1"/><path d="M715.7 84.2L712 82.4L709.9 84.7L713.5 86.7Z" fill="#c12b30"/><path d="M696.8 81.9L693.1 80.5L691 82.5L694.6 84Z" fill="#ba162b"/><path d="M706.2 83L702.6 81.4L700.4 83.5L704.1 85.3Z" fill="#be242e"/><path d="M753.4 87.9L749.7 86.4L747.7 89.5L751.4 91.7Z" fill="#cd423b"/><path d="M729 206.2L725.4 206.6L723.2 207.2L726.9 205.7Z" fill="#4055c8"/><path d="M740.6 196.7L736.9 201.8L734.8 203.3L738.5 197.4Z" fill="#506bda"/><path d="M739.2 117.8L735.5 112.2L733.4 123L737.1 128.9Z" fill="#f7b194"/><path d="M768.7 85.3L764.9 84.5L762.9 87.1L766.6 88Z" fill="#c53334"/><path d="M747.7 89.5L744 87.8L741.9 92.1L745.6 95.5Z" fill="#d24b40"/><path d="M738.2 89L734.5 86.9L732.4 90L736.1 94.4Z" fill="#cf453c"/><path d="M705 194L701.2 182.7L699 181.5L702.8 193Z" fill="#6f92f3"/><path d="M751.8 136.5L748.1 138.1L745.9 151.8L749.6 149.1Z" fill="#dedcdb"/><path d="M741.9 92.1L738.2 89L736.1 94.4L739.8 98.5Z" fill="#d75445"/><path d="M728.8 87.7L725.1 85.6L723 88.4L726.7 90.8Z" fill="#ca3b37"/><path d="M703.4 181.9L699.7 167.8L697.5 169.4L701.2 182.7Z" fill="#92b4fe"/><path d="M716.1 130.5L712.4 120.3L710.3 129.8L714 146Z" fill="#f2cab5"/><path d="M762.9 87.1L759.2 86.2L757.1 89.1L760.9 90.1Z" fill="#ca3b37"/><path d="M719.3 86.2L715.7 84.2L713.5 86.7L717.2 89Z" fill="#c53334"/><path d="M681.5 81.6L677.9 80.3L675.7 82.2L679.3 83.6Z" fill="#b8122a"/><path d="M745.6 95.5L741.9 92.1L739.8 98.5L743.4 101.9Z" fill="#de614d"/><path d="M735.5 112.2L731.9 107.4L729.7 116.1L733.4 123Z" fill="#f59f80"/><path d="M750.3 125.5L746.6 124.5L744.4 137.5L748.1 138.1Z" fill="#f2c9b4"/><path d="M729.7 116.1L726.1 109.2L724 118.6L727.6 126.7Z" fill="#f7a889"/><path d="M709.9 84.7L706.2 83L704.1 85.3L707.7 87.3Z" fill="#c12b30"/><path d="M691 82.5L687.3 81.1L685.1 83L688.8 84.5Z" fill="#ba162b"/><path d="M751.4 91.7L747.7 89.5L745.6 95.5L749.2 98.1Z" fill="#d75445"/><path d="M700.4 83.5L696.8 81.9L694.6 84L698.2 85.8Z" fill="#bd1f2d"/><path d="M757.1 89.1L753.4 87.9L751.4 91.7L755.1 93.5Z" fill="#cf453c"/><path d="M739.8 98.5L736.1 94.4L734 100.9L737.7 105Z" fill="#e36b54"/><path d="M732.4 90L728.8 87.7L726.7 90.8L730.3 96Z" fill="#d0473d"/><path d="M736.1 94.4L732.4 90L730.3 96L734 100.9Z" fill="#da5a49"/><path d="M741.3 108.4L737.7 105L735.5 112.2L739.2 117.8Z" fill="#f29274"/><path d="M743.4 101.9L739.8 98.5L737.7 105L741.3 108.4Z" fill="#e97a5f"/><path d="M723.2 207.2L719.6 207L717.4 206.6L721.1 205.6Z" fill="#4358cb"/><path d="M737.7 105L734 100.9L731.9 107.4L735.5 112.2Z" fill="#ed8366"/><path d="M745 110.9L741.3 108.4L739.2 117.8L742.9 121.9Z" fill="#f59f80"/><path d="M749.2 98.1L745.6 95.5L743.4 101.9L747.1 104.5Z" fill="#e36c55"/><path d="M710.1 204.2L706.5 200.2L704.3 197.6L708 202Z" fill="#506bda"/><path d="M724 118.6L720.3 110.4L718.2 120.1L721.8 129.1Z" fill="#f7ac8e"/><path d="M734 100.9L730.3 96L728.2 102.6L731.9 107.4Z" fill="#e67259"/><path d="M706.1 151.5L702.3 135.6L700.2 143.5L704 158.8Z" fill="#d9dce1"/><path d="M753.4 144.5L749.6 149.1L747.5 162.2L751.2 155.8Z" fill="#cdd9ec"/><path d="M731.9 107.4L728.2 102.6L726.1 109.2L729.7 116.1Z" fill="#f08b6e"/><path d="M723 88.4L719.3 86.2L717.2 89L720.9 91.5Z" fill="#ca3b37"/><path d="M772.4 86.1L768.7 85.3L766.6 88L770.4 88.7Z" fill="#c53334"/><path d="M747.1 104.5L743.4 101.9L741.3 108.4L745 110.9Z" fill="#ed8366"/><path d="M704 158.8L700.2 143.5L698 149.4L701.8 164.2Z" fill="#cbd8ee"/><path d="M730.3 96L726.7 90.8L724.5 97.1L728.2 102.6Z" fill="#dc5d4a"/><path d="M713.5 86.7L709.9 84.7L707.7 87.3L711.4 89.5Z" fill="#c43032"/><path d="M755.1 93.5L751.4 91.7L749.2 98.1L752.9 99.9Z" fill="#da5a49"/><path d="M748.7 113.1L745 110.9L742.9 121.9L746.6 124.5Z" fill="#f7a688"/><path d="M713.8 206.2L710.1 204.2L708 202L711.6 203.7Z" fill="#4a63d3"/><path d="M708.2 141.7L704.4 127.5L702.3 135.6L706.1 151.5Z" fill="#ead5c9"/><path d="M750.8 166.6L746.9 180.5L744.8 189.7L748.6 175.2Z" fill="#8db0fe"/><path d="M704.1 85.3L700.4 83.5L698.2 85.8L701.9 87.7Z" fill="#c0282f"/><path d="M685.1 83L681.5 81.6L679.3 83.6L682.9 85Z" fill="#ba162b"/><path d="M726.7 90.8L723 88.4L720.9 91.5L724.5 97.1Z" fill="#d1493f"/><path d="M694.6 84L691 82.5L688.8 84.5L692.4 86.3Z" fill="#bd1f2d"/><path d="M766.6 88L762.9 87.1L760.9 90.1L764.6 90.9Z" fill="#ca3b37"/><path d="M726.1 109.2L722.4 103.7L720.3 110.4L724 118.6Z" fill="#f18f71"/><path d="M748.6 175.2L744.8 189.7L742.7 194.2L746.5 180.6Z" fill="#7b9ff9"/><path d="M728.2 102.6L724.5 97.1L722.4 103.7L726.1 109.2Z" fill="#e8765c"/><path d="M706.5 200.2L702.8 193L700.6 188.9L704.3 197.6Z" fill="#6180e9"/><path d="M760.9 90.1L757.1 89.1L755.1 93.5L758.8 94.5Z" fill="#d0473d"/><path d="M752.9 99.9L749.2 98.1L747.1 104.5L750.8 106.2Z" fill="#e67259"/><path d="M718.2 120.1L714.5 111.1L712.4 120.3L716.1 130.5Z" fill="#f7ad90"/><path d="M750.8 106.2L747.1 104.5L745 110.9L748.7 113.1Z" fill="#ef886b"/><path d="M717.2 89L713.5 86.7L711.4 89.5L715 92Z" fill="#ca3b37"/><path d="M724.5 97.1L720.9 91.5L718.7 97.8L722.4 103.7Z" fill="#dd5f4b"/><path d="M754 124.8L750.3 125.5L748.1 138.1L751.8 136.5Z" fill="#f4c6af"/><path d="M732.7 203.4L729 206.2L726.9 205.7L730.6 201.1Z" fill="#4b64d5"/><path d="M710.3 129.8L706.5 119.1L704.4 127.5L708.2 141.7Z" fill="#f5c2aa"/><path d="M701.8 164.2L698 149.4L695.9 153.4L699.7 167.8Z" fill="#c3d5f4"/><path d="M707.7 87.3L704.1 85.3L701.9 87.7L705.6 90Z" fill="#c43032"/><path d="M752.4 114L748.7 113.1L746.6 124.5L750.3 125.5Z" fill="#f7a889"/><path d="M720.3 110.4L716.6 104.4L714.5 111.1L718.2 120.1Z" fill="#f29072"/><path d="M758.8 94.5L755.1 93.5L752.9 99.9L756.7 100.9Z" fill="#dc5d4a"/><path d="M679.3 83.6L675.7 82.2L673.4 84.1L677.1 85.5Z" fill="#b8122a"/><path d="M722.4 103.7L718.7 97.8L716.6 104.4L720.3 110.4Z" fill="#e8765c"/><path d="M720.9 91.5L717.2 89L715 92L718.7 97.8Z" fill="#d0473d"/><path d="M698.2 85.8L694.6 84L692.4 86.3L696.1 88.2Z" fill="#c0282f"/><path d="M776.2 86.8L772.4 86.1L770.4 88.7L774.1 89.3Z" fill="#c43032"/><path d="M688.8 84.5L685.1 83L682.9 85L686.6 86.7Z" fill="#bb1b2c"/><path d="M752.9 156.5L749.1 167.9L746.9 180.5L750.8 166.6Z" fill="#abc8fd"/><path d="M738.5 197.4L734.8 203.3L732.7 203.4L736.5 196Z" fill="#5673e0"/><path d="M717.4 206.6L713.8 206.2L711.6 203.7L715.3 203.1Z" fill="#4b64d5"/><path d="M756.7 100.9L752.9 99.9L750.8 106.2L754.6 107.2Z" fill="#e7745b"/><path d="M770.4 88.7L766.6 88L764.6 90.9L768.3 91.5Z" fill="#c83836"/><path d="M755.6 133.1L751.8 136.5L749.6 149.1L753.4 144.5Z" fill="#e9d5cb"/><path d="M764.6 90.9L760.9 90.1L758.8 94.5L762.5 94.9Z" fill="#d0473d"/><path d="M726.9 205.7L723.2 207.2L721.1 205.6L724.8 202.3Z" fill="#4a63d3"/><path d="M754.6 107.2L750.8 106.2L748.7 113.1L752.4 114Z" fill="#f08a6c"/><path d="M701.2 182.7L697.5 169.4L695.3 168.8L699 181.5Z" fill="#98b9ff"/><path d="M746.5 180.6L742.7 194.2L740.6 196.7L744.4 182.9Z" fill="#7597f6"/><path d="M711.4 89.5L707.7 87.3L705.6 90L709.2 92.5Z" fill="#c83836"/><path d="M712.4 120.3L708.7 111.1L706.5 119.1L710.3 129.8Z" fill="#f7a98b"/><path d="M718.7 97.8L715 92L712.9 98.1L716.6 104.4Z" fill="#dc5d4a"/><path d="M701.9 87.7L698.2 85.8L696.1 88.2L699.7 90.4Z" fill="#c32e31"/><path d="M715 92L711.4 89.5L709.2 92.5L712.9 98.1Z" fill="#d0473d"/><path d="M716.6 104.4L712.9 98.1L710.8 104.6L714.5 111.1Z" fill="#e8765c"/><path d="M692.4 86.3L688.8 84.5L686.6 86.7L690.2 88.6Z" fill="#be242e"/><path d="M682.9 85L679.3 83.6L677.1 85.5L680.7 87.1Z" fill="#bb1b2c"/><path d="M714.5 111.1L710.8 104.6L708.7 111.1L712.4 120.3Z" fill="#f18f71"/><path d="M762.5 94.9L758.8 94.5L756.7 100.9L760.4 101.2Z" fill="#da5a49"/><path d="M702.8 193L699 181.5L696.8 177.9L700.6 188.9Z" fill="#80a3fa"/><path d="M779.9 87.4L776.2 86.8L774.1 89.3L777.9 89.9Z" fill="#c32e31"/><path d="M756.2 113.8L752.4 114L750.3 125.5L754 124.8Z" fill="#f6a586"/><path d="M755.1 147.5L751.2 155.8L749.1 167.9L752.9 156.5Z" fill="#cad8ef"/><path d="M699.7 167.8L695.9 153.4L693.7 155.5L697.5 169.4Z" fill="#bfd3f6"/><path d="M705.6 90L701.9 87.7L699.7 90.4L703.4 92.9Z" fill="#c73635"/><path d="M760.4 101.2L756.7 100.9L754.6 107.2L758.3 107.5Z" fill="#e67259"/><path d="M712.9 98.1L709.2 92.5L707.1 98L710.8 104.6Z" fill="#da5a49"/><path d="M774.1 89.3L770.4 88.7L768.3 91.5L772.1 92Z" fill="#c73635"/><path d="M696.1 88.2L692.4 86.3L690.2 88.6L693.9 90.7Z" fill="#c12b30"/><path d="M768.3 91.5L764.6 90.9L762.5 94.9L766.3 94.7Z" fill="#cd423b"/><path d="M686.6 86.7L682.9 85L680.7 87.1L684.3 88.9Z" fill="#bd1f2d"/><path d="M677.1 85.5L673.4 84.1L671.2 86L674.8 87.5Z" fill="#ba162b"/><path d="M758.3 107.5L754.6 107.2L752.4 114L756.2 113.8Z" fill="#ef886b"/><path d="M709.2 92.5L705.6 90L703.4 92.9L707.1 98Z" fill="#cf453c"/><path d="M757.8 122.5L754 124.8L751.8 136.5L755.6 133.1Z" fill="#f6bda2"/><path d="M710.8 104.6L707.1 98L704.9 104.3L708.7 111.1Z" fill="#e67259"/><path d="M721.1 205.6L717.4 206.6L715.3 203.1L719 200.4Z" fill="#516ddb"/><path d="M708.7 111.1L704.9 104.3L702.8 110.4L706.5 119.1Z" fill="#ef886b"/><path d="M704.4 127.5L700.7 116.5L698.5 123.7L702.3 135.6Z" fill="#f7b497"/><path d="M702.3 135.6L698.5 123.7L696.4 129.8L700.2 143.5Z" fill="#f4c5ad"/><path d="M706.5 119.1L702.8 110.4L700.7 116.5L704.4 127.5Z" fill="#f59f80"/><path d="M699.7 90.4L696.1 88.2L693.9 90.7L697.5 93.2Z" fill="#c53334"/><path d="M783.7 88L779.9 87.4L777.9 89.9L781.7 90.4Z" fill="#c12b30"/><path d="M757.3 137.7L753.4 144.5L751.2 155.8L755.1 147.5Z" fill="#e2dad5"/><path d="M700.2 143.5L696.4 129.8L694.2 134.6L698 149.4Z" fill="#eed0c0"/><path d="M766.3 94.7L762.5 94.9L760.4 101.2L764.2 100.9Z" fill="#d75445"/><path d="M690.2 88.6L686.6 86.7L684.3 88.9L688 90.9Z" fill="#c0282f"/><path d="M707.1 98L703.4 92.9L701.2 97.4L704.9 104.3Z" fill="#d85646"/><path d="M680.7 87.1L677.1 85.5L674.8 87.5L678.5 89.2Z" fill="#bd1f2d"/><path d="M744.4 182.9L740.6 196.7L738.5 197.4L742.4 181.7Z" fill="#779af7"/><path d="M703.4 92.9L699.7 90.4L697.5 93.2L701.2 97.4Z" fill="#cc403a"/><path d="M777.9 89.9L774.1 89.3L772.1 92L775.9 92.5Z" fill="#c53334"/><path d="M764.2 100.9L760.4 101.2L758.3 107.5L762.1 107.1Z" fill="#e36c55"/><path d="M708 202L704.3 197.6L702 189.6L705.7 195.3Z" fill="#6788ee"/><path d="M759.9 113.4L756.2 113.8L754 124.8L757.8 122.5Z" fill="#f59d7e"/><path d="M772.1 92L768.3 91.5L766.3 94.7L770.1 95Z" fill="#cb3e38"/><path d="M704.9 104.3L701.2 97.4L699.1 103.3L702.8 110.4Z" fill="#e36b54"/><path d="M762.1 107.1L758.3 107.5L756.2 113.8L759.9 113.4Z" fill="#ed8366"/><path d="M711.6 203.7L708 202L705.7 195.3L709.4 196.2Z" fill="#6180e9"/><path d="M693.9 90.7L690.2 88.6L688 90.9L691.7 93.3Z" fill="#c43032"/><path d="M698 149.4L694.2 134.6L692 138.3L695.9 153.4Z" fill="#e9d5cb"/><path d="M684.3 88.9L680.7 87.1L678.5 89.2L682.1 91.2Z" fill="#c0282f"/><path d="M759.4 128.7L755.6 133.1L753.4 144.5L757.3 137.7Z" fill="#f2c9b4"/><path d="M674.8 87.5L671.2 86L668.9 88L672.6 89.6Z" fill="#bb1b2c"/><path d="M697.5 169.4L693.7 155.5L691.4 155.6L695.3 168.8Z" fill="#c3d5f4"/><path d="M702.8 110.4L699.1 103.3L696.9 108.8L700.7 116.5Z" fill="#ec7f63"/><path d="M787.5 88.6L783.7 88L781.7 90.4L785.5 90.8Z" fill="#c0282f"/><path d="M730.6 201.1L726.9 205.7L724.8 202.3L728.5 191.5Z" fill="#5f7fe8"/><path d="M699 181.5L695.3 168.8L693 165.8L696.8 177.9Z" fill="#a6c4fe"/><path d="M704.3 197.6L700.6 188.9L698.3 181L702 189.6Z" fill="#7da0f9"/><path d="M736.5 196L732.7 203.4L730.6 201.1L734.4 186.6Z" fill="#688aef"/><path d="M697.5 93.2L693.9 90.7L691.7 93.3L695.4 96.1Z" fill="#ca3b37"/><path d="M701.2 97.4L697.5 93.2L695.4 96.1L699.1 103.3Z" fill="#d44e41"/><path d="M770.1 95L766.3 94.7L764.2 100.9L768 100Z" fill="#d44e41"/><path d="M781.7 90.4L777.9 89.9L775.9 92.5L779.7 92.9Z" fill="#c43032"/><path d="M700.7 116.5L696.9 108.8L694.8 113.9L698.5 123.7Z" fill="#f29274"/><path d="M688 90.9L684.3 88.9L682.1 91.2L685.8 93.4Z" fill="#c32e31"/><path d="M775.9 92.5L772.1 92L770.1 95L773.8 95.3Z" fill="#ca3b37"/><path d="M678.5 89.2L674.8 87.5L672.6 89.6L676.2 91.4Z" fill="#be242e"/><path d="M761.6 118.9L757.8 122.5L755.6 133.1L759.4 128.7Z" fill="#f7af91"/><path d="M768 100L764.2 100.9L762.1 107.1L765.8 106.1Z" fill="#e0654f"/><path d="M698.5 123.7L694.8 113.9L692.6 118.8L696.4 129.8Z" fill="#f6a283"/><path d="M699.1 103.3L695.4 96.1L693.2 101.6L696.9 108.8Z" fill="#de614d"/><path d="M691.7 93.3L688 90.9L685.8 93.4L689.5 96Z" fill="#c83836"/><path d="M791.3 89.2L787.5 88.6L785.5 90.8L789.3 91.3Z" fill="#be242e"/><path d="M695.9 153.4L692 138.3L689.8 141L693.7 155.5Z" fill="#e5d8d1"/><path d="M715.3 203.1L711.6 203.7L709.4 196.2L713.1 192.4Z" fill="#6687ed"/><path d="M765.8 106.1L762.1 107.1L759.9 113.4L763.7 112.3Z" fill="#e97a5f"/><path d="M763.7 112.3L759.9 113.4L757.8 122.5L761.6 118.9Z" fill="#f29274"/><path d="M724.8 202.3L721.1 205.6L719 200.4L722.7 189.8Z" fill="#6485ec"/><path d="M695.4 96.1L691.7 93.3L689.5 96L693.2 101.6Z" fill="#d0473d"/><path d="M682.1 91.2L678.5 89.2L676.2 91.4L679.9 93.5Z" fill="#c12b30"/><path d="M672.6 89.6L668.9 88L666.7 89.9L670.3 91.7Z" fill="#bd1f2d"/><path d="M785.5 90.8L781.7 90.4L779.7 92.9L783.5 93.2Z" fill="#c32e31"/><path d="M696.4 129.8L692.6 118.8L690.4 123.8L694.2 134.6Z" fill="#f7af91"/><path d="M696.9 108.8L693.2 101.6L691 106.6L694.8 113.9Z" fill="#e67259"/><path d="M773.8 95.3L770.1 95L768 100L771.8 98.5Z" fill="#d0473d"/><path d="M779.7 92.9L775.9 92.5L773.8 95.3L777.6 95.5Z" fill="#c73635"/><path d="M700.6 188.9L696.8 177.9L694.5 171.1L698.3 181Z" fill="#9bbcff"/><path d="M754.7 152.6L750.8 166.6L748.6 175.2L752.6 158.1Z" fill="#c5d6f2"/><path d="M742.4 181.7L738.5 197.4L736.5 196L740.3 176.8Z" fill="#85a8fc"/><path d="M756.8 145.8L752.9 156.5L750.8 166.6L754.7 152.6Z" fill="#d7dce3"/><path d="M685.8 93.4L682.1 91.2L679.9 93.5L683.6 95.9Z" fill="#c53334"/><path d="M795.1 89.8L791.3 89.2L789.3 91.3L793.1 91.9Z" fill="#bd1f2d"/><path d="M676.2 91.4L672.6 89.6L670.3 91.7L674 93.6Z" fill="#c0282f"/><path d="M759 138.5L755.1 147.5L752.9 156.5L756.8 145.8Z" fill="#e8d6cc"/><path d="M694.8 113.9L691 106.6L688.8 111.2L692.6 118.8Z" fill="#ec8165"/><path d="M693.2 101.6L689.5 96L687.3 99.4L691 106.6Z" fill="#d75445"/><path d="M752.6 158.1L748.6 175.2L746.5 180.6L750.5 162Z" fill="#b9d0f9"/><path d="M771.8 98.5L768 100L765.8 106.1L769.7 104.5Z" fill="#d95847"/><path d="M694.2 134.6L690.4 123.8L688.2 127.7L692 138.3Z" fill="#f7b89c"/><path d="M689.5 96L685.8 93.4L683.6 95.9L687.3 99.4Z" fill="#cb3e38"/><path d="M761.1 131.6L757.3 137.7L755.1 147.5L759 138.5Z" fill="#f2c9b4"/><path d="M789.3 91.3L785.5 90.8L783.5 93.2L787.3 93.6Z" fill="#c0282f"/><path d="M695.3 168.8L691.4 155.6L689.2 153.9L693 165.8Z" fill="#ccd9ed"/><path d="M769.7 104.5L765.8 106.1L763.7 112.3L767.5 110.5Z" fill="#e46e56"/><path d="M763.3 123.5L759.4 128.7L757.3 137.7L761.1 131.6Z" fill="#f7b497"/><path d="M679.9 93.5L676.2 91.4L674 93.6L677.7 95.8Z" fill="#c32e31"/><path d="M693.7 155.5L689.8 141L687.6 142.1L691.4 155.6Z" fill="#e6d7cf"/><path d="M783.5 93.2L779.7 92.9L777.6 95.5L781.4 95.7Z" fill="#c53334"/><path d="M670.3 91.7L666.7 89.9L664.4 92L668.1 93.8Z" fill="#be242e"/><path d="M777.6 95.5L773.8 95.3L771.8 98.5L775.6 98.4Z" fill="#cb3e38"/><path d="M692.6 118.8L688.8 111.2L686.6 115.1L690.4 123.8Z" fill="#f18d6f"/><path d="M767.5 110.5L763.7 112.3L761.6 118.9L765.4 116.5Z" fill="#ee8468"/><path d="M765.4 116.5L761.6 118.9L759.4 128.7L763.3 123.5Z" fill="#f59c7d"/><path d="M691 106.6L687.3 99.4L685.1 104L688.8 111.2Z" fill="#df634e"/><path d="M798.9 90.4L795.1 89.8L793.1 91.9L796.9 92.4Z" fill="#bb1b2c"/><path d="M683.6 95.9L679.9 93.5L677.7 95.8L681.3 98.5Z" fill="#c83836"/><path d="M750.5 162L746.5 180.6L744.4 182.9L748.4 163.8Z" fill="#b3cdfb"/><path d="M719 200.4L715.3 203.1L713.1 192.4L716.8 184.1Z" fill="#779af7"/><path d="M692 138.3L688.2 127.7L686 130.6L689.8 141Z" fill="#f6bda2"/><path d="M687.3 99.4L683.6 95.9L681.3 98.5L685.1 104Z" fill="#d0473d"/><path d="M793.1 91.9L789.3 91.3L787.3 93.6L791.1 94Z" fill="#be242e"/><path d="M674 93.6L670.3 91.7L668.1 93.8L671.7 95.8Z" fill="#c12b30"/><path d="M696.8 177.9L693 165.8L690.7 160.7L694.5 171.1Z" fill="#bed2f6"/><path d="M775.6 98.4L771.8 98.5L769.7 104.5L773.5 102.4Z" fill="#d24b40"/><path d="M787.3 93.6L783.5 93.2L781.4 95.7L785.3 96Z" fill="#c32e31"/><path d="M690.4 123.8L686.6 115.1L684.4 118.4L688.2 127.7Z" fill="#f39778"/><path d="M688.8 111.2L685.1 104L682.9 108L686.6 115.1Z" fill="#e46e56"/><path d="M781.4 95.7L777.6 95.5L775.6 98.4L779.4 98.4Z" fill="#c83836"/><path d="M802.7 91.1L798.9 90.4L796.9 92.4L800.8 93Z" fill="#ba162b"/><path d="M677.7 95.8L674 93.6L671.7 95.8L675.4 98.2Z" fill="#c53334"/><path d="M668.1 93.8L664.4 92L662.1 94L665.8 95.9Z" fill="#be242e"/><path d="M773.5 102.4L769.7 104.5L767.5 110.5L771.4 108.2Z" fill="#de614d"/><path d="M705.7 195.3L702 189.6L699.7 177.2L703.4 180.9Z" fill="#94b6ff"/><path d="M685.1 104L681.3 98.5L679.1 101L682.9 108Z" fill="#d65244"/><path d="M796.9 92.4L793.1 91.9L791.1 94L794.9 94.5Z" fill="#bd1f2d"/><path d="M681.3 98.5L677.7 95.8L675.4 98.2L679.1 101Z" fill="#cb3e38"/><path d="M734.4 186.6L730.6 201.1L728.5 191.5L732.3 175.1Z" fill="#8db0fe"/><path d="M771.4 108.2L767.5 110.5L765.4 116.5L769.3 113.9Z" fill="#e7745b"/><path d="M691.4 155.6L687.6 142.1L685.3 142.2L689.2 153.9Z" fill="#ead4c8"/><path d="M686.6 115.1L682.9 108L680.7 111.6L684.4 118.4Z" fill="#e9785d"/><path d="M689.8 141L686 130.6L683.8 132.4L687.6 142.1Z" fill="#f6bda2"/><path d="M791.1 94L787.3 93.6L785.3 96L789.1 96.3Z" fill="#c0282f"/><path d="M671.7 95.8L668.1 93.8L665.8 95.9L669.5 98Z" fill="#c32e31"/><path d="M709.4 196.2L705.7 195.3L703.4 180.9L707.1 180.8Z" fill="#8fb1fe"/><path d="M688.2 127.7L684.4 118.4L682.2 121.1L686 130.6Z" fill="#f59d7e"/><path d="M702 189.6L698.3 181L695.9 170.6L699.7 177.2Z" fill="#a6c4fe"/><path d="M806.6 91.8L802.7 91.1L800.8 93L804.6 93.7Z" fill="#b8122a"/><path d="M728.5 191.5L724.8 202.3L722.7 189.8L726.4 176.8Z" fill="#8badfd"/><path d="M769.3 113.9L765.4 116.5L763.3 123.5L767.2 119.4Z" fill="#ef886b"/><path d="M785.3 96L781.4 95.7L779.4 98.4L783.2 98.5Z" fill="#c53334"/><path d="M779.4 98.4L775.6 98.4L773.5 102.4L777.4 101.2Z" fill="#cd423b"/><path d="M748.4 163.8L744.4 182.9L742.4 181.7L746.3 163.2Z" fill="#b9d0f9"/><path d="M767.2 119.4L763.3 123.5L761.1 131.6L765 125.3Z" fill="#f59d7e"/><path d="M693 165.8L689.2 153.9L686.8 150.8L690.7 160.7Z" fill="#dbdcde"/><path d="M675.4 98.2L671.7 95.8L669.5 98L673.1 100.5Z" fill="#c73635"/><path d="M765 125.3L761.1 131.6L759 138.5L762.9 131.6Z" fill="#f7b093"/><path d="M800.8 93L796.9 92.4L794.9 94.5L798.8 95.1Z" fill="#bb1b2c"/><path d="M682.9 108L679.1 101L676.9 104.7L680.7 111.6Z" fill="#da5a49"/><path d="M740.3 176.8L736.5 196L734.4 186.6L738.3 168.8Z" fill="#a2c1ff"/><path d="M762.9 131.6L759 138.5L756.8 145.8L760.8 137Z" fill="#f6bfa6"/><path d="M665.8 95.9L662.1 94L659.8 96L663.5 97.9Z" fill="#c0282f"/><path d="M679.1 101L675.4 98.2L673.1 100.5L676.9 104.7Z" fill="#cd423b"/><path d="M794.9 94.5L791.1 94L789.1 96.3L792.9 96.7Z" fill="#be242e"/><path d="M684.4 118.4L680.7 111.6L678.4 114.6L682.2 121.1Z" fill="#ec7f63"/><path d="M810.4 92.5L806.6 91.8L804.6 93.7L808.5 94.4Z" fill="#b70d28"/><path d="M777.4 101.2L773.5 102.4L771.4 108.2L775.3 105.4Z" fill="#d55042"/><path d="M698.3 181L694.5 171.1L692.1 162.9L695.9 170.6Z" fill="#bfd3f6"/><path d="M760.8 137L756.8 145.8L754.7 152.6L758.7 141.6Z" fill="#f2cab5"/><path d="M789.1 96.3L785.3 96L783.2 98.5L787.1 98.6Z" fill="#c32e31"/><path d="M686 130.6L682.2 121.1L679.9 123.2L683.8 132.4Z" fill="#f59f80"/><path d="M669.5 98L665.8 95.9L663.5 97.9L667.2 100.2Z" fill="#c43032"/><path d="M783.2 98.5L779.4 98.4L777.4 101.2L781.2 101.1Z" fill="#c83836"/><path d="M804.6 93.7L800.8 93L798.8 95.1L802.6 95.7Z" fill="#ba162b"/><path d="M687.6 142.1L683.8 132.4L681.5 133.3L685.3 142.2Z" fill="#f7ba9f"/><path d="M713.1 192.4L709.4 196.2L707.1 180.8L710.8 177Z" fill="#98b9ff"/><path d="M775.3 105.4L771.4 108.2L769.3 113.9L773.2 110.8Z" fill="#df634e"/><path d="M680.7 111.6L676.9 104.7L674.6 108L678.4 114.6Z" fill="#df634e"/><path d="M758.7 141.6L754.7 152.6L752.6 158.1L756.6 145.3Z" fill="#edd2c3"/><path d="M722.7 189.8L719 200.4L716.8 184.1L720.5 175.1Z" fill="#97b8ff"/><path d="M673.1 100.5L669.5 98L667.2 100.2L670.9 102.7Z" fill="#c83836"/><path d="M814.3 93.3L810.4 92.5L808.5 94.4L812.3 95.2Z" fill="#b70d28"/><path d="M798.8 95.1L794.9 94.5L792.9 96.7L796.8 97.1Z" fill="#bd1f2d"/><path d="M676.9 104.7L673.1 100.5L670.9 102.7L674.6 108Z" fill="#d1493f"/><path d="M773.2 110.8L769.3 113.9L767.2 119.4L771.1 115.9Z" fill="#e7745b"/><path d="M663.5 97.9L659.8 96L657.5 98L661.2 100Z" fill="#c12b30"/><path d="M689.2 153.9L685.3 142.2L683 141.5L686.8 150.8Z" fill="#f0cdbb"/><path d="M682.2 121.1L678.4 114.6L676.2 117.1L679.9 123.2Z" fill="#ed8366"/><path d="M792.9 96.7L789.1 96.3L787.1 98.6L790.9 98.9Z" fill="#c0282f"/><path d="M694.5 171.1L690.7 160.7L688.3 155.2L692.1 162.9Z" fill="#d6dce4"/><path d="M808.5 94.4L804.6 93.7L802.6 95.7L806.5 96.3Z" fill="#b8122a"/><path d="M787.1 98.6L783.2 98.5L781.2 101.1L785.1 101.1Z" fill="#c53334"/><path d="M781.2 101.1L777.4 101.2L775.3 105.4L779.2 103.8Z" fill="#cd423b"/><path d="M756.6 145.3L752.6 158.1L750.5 162L754.4 148.2Z" fill="#e8d6cc"/><path d="M771.1 115.9L767.2 119.4L765 125.3L768.9 120.7Z" fill="#ee8468"/><path d="M667.2 100.2L663.5 97.9L661.2 100L664.9 102.3Z" fill="#c53334"/><path d="M678.4 114.6L674.6 108L672.4 110.7L676.2 117.1Z" fill="#e26952"/><path d="M818.2 94.1L814.3 93.3L812.3 95.2L816.2 96Z" fill="#b50927"/><path d="M683.8 132.4L679.9 123.2L677.7 124.8L681.5 133.3Z" fill="#f59f80"/><path d="M746.3 163.2L742.4 181.7L740.3 176.8L744.2 160.2Z" fill="#c6d6f1"/><path d="M802.6 95.7L798.8 95.1L796.8 97.1L800.7 97.6Z" fill="#ba162b"/><path d="M670.9 102.7L667.2 100.2L664.9 102.3L668.6 104.9Z" fill="#cb3e38"/><path d="M768.9 120.7L765 125.3L762.9 131.6L766.8 125Z" fill="#f39475"/><path d="M674.6 108L670.9 102.7L668.6 104.9L672.4 110.7Z" fill="#d44e41"/><path d="M796.8 97.1L792.9 96.7L790.9 98.9L794.8 99.2Z" fill="#be242e"/><path d="M812.3 95.2L808.5 94.4L806.5 96.3L810.4 97Z" fill="#b70d28"/><path d="M779.2 103.8L775.3 105.4L773.2 110.8L777.1 107.2Z" fill="#d44e41"/><path d="M685.3 142.2L681.5 133.3L679.2 133.2L683 141.5Z" fill="#f7b599"/><path d="M661.2 100L657.5 98L655.2 100L658.9 102Z" fill="#c32e31"/><path d="M690.7 160.7L686.8 150.8L684.5 146.9L688.3 155.2Z" fill="#ead4c8"/><path d="M790.9 98.9L787.1 98.6L785.1 101.1L788.9 101.1Z" fill="#c32e31"/><path d="M679.9 123.2L676.2 117.1L673.9 119L677.7 124.8Z" fill="#ed8366"/><path d="M785.1 101.1L781.2 101.1L779.2 103.8L783 103.5Z" fill="#c83836"/><path d="M806.5 96.3L802.6 95.7L800.7 97.6L804.5 98.3Z" fill="#b8122a"/><path d="M766.8 125L762.9 131.6L760.8 137L764.7 128.9Z" fill="#f5a081"/><path d="M754.4 148.2L750.5 162L748.4 163.8L752.4 149.6Z" fill="#e7d7ce"/><path d="M664.9 102.3L661.2 100L658.9 102L662.6 104.3Z" fill="#c73635"/><path d="M676.2 117.1L672.4 110.7L670.1 113L673.9 119Z" fill="#e36c55"/><path d="M777.1 107.2L773.2 110.8L771.1 115.9L775 112Z" fill="#dd5f4b"/><path d="M716.8 184.1L713.1 192.4L710.8 177L714.5 170.7Z" fill="#b1cbfc"/><path d="M816.2 96L812.3 95.2L810.4 97L814.3 97.8Z" fill="#b70d28"/><path d="M800.7 97.6L796.8 97.1L794.8 99.2L798.7 99.7Z" fill="#bb1b2c"/><path d="M681.5 133.3L677.7 124.8L675.4 125.9L679.2 133.2Z" fill="#f49a7b"/><path d="M668.6 104.9L664.9 102.3L662.6 104.3L666.3 106.9Z" fill="#cb3e38"/><path d="M672.4 110.7L668.6 104.9L666.3 106.9L670.1 113Z" fill="#d65244"/><path d="M794.8 99.2L790.9 98.9L788.9 101.1L792.8 101.4Z" fill="#c0282f"/><path d="M764.7 128.9L760.8 137L758.7 141.6L762.6 132.8Z" fill="#f7aa8c"/><path d="M686.8 150.8L683 141.5L680.7 139.8L684.5 146.9Z" fill="#f5c2aa"/><path d="M810.4 97L806.5 96.3L804.5 98.3L808.4 98.9Z" fill="#b8122a"/><path d="M732.3 175.1L728.5 191.5L726.4 176.8L730.2 164.5Z" fill="#bcd2f7"/><path d="M775 112L771.1 115.9L768.9 120.7L772.9 116.4Z" fill="#e36c55"/><path d="M788.9 101.1L785.1 101.1L783 103.5L786.9 103.5Z" fill="#c43032"/><path d="M658.9 102L655.2 100L652.9 101.9L656.6 103.9Z" fill="#c32e31"/><path d="M783 103.5L779.2 103.8L777.1 107.2L781 106.1Z" fill="#cc403a"/><path d="M699.7 177.2L695.9 170.6L693.5 160.8L697.3 165.1Z" fill="#d1dae9"/><path d="M703.4 180.9L699.7 177.2L697.3 165.1L701 167.4Z" fill="#c7d7f0"/><path d="M738.3 168.8L734.4 186.6L732.3 175.1L736.2 161.2Z" fill="#c7d7f0"/><path d="M677.7 124.8L673.9 119L671.6 120.4L675.4 125.9Z" fill="#ed8366"/><path d="M804.5 98.3L800.7 97.6L798.7 99.7L802.6 100.2Z" fill="#ba162b"/><path d="M695.9 170.6L692.1 162.9L689.7 155.2L693.5 160.8Z" fill="#dedcdb"/><path d="M662.6 104.3L658.9 102L656.6 103.9L660.3 106.2Z" fill="#c73635"/><path d="M673.9 119L670.1 113L667.8 114.8L671.6 120.4Z" fill="#e36c55"/><path d="M762.6 132.8L758.7 141.6L756.6 145.3L760.5 135.6Z" fill="#f7b194"/><path d="M772.9 116.4L768.9 120.7L766.8 125L770.8 120.3Z" fill="#e97a5f"/><path d="M798.7 99.7L794.8 99.2L792.8 101.4L796.7 101.7Z" fill="#bd1f2d"/><path d="M814.3 97.8L810.4 97L808.4 98.9L812.3 99.7Z" fill="#b70d28"/><path d="M683 141.5L679.2 133.2L676.8 132.2L680.7 139.8Z" fill="#f7ac8e"/><path d="M726.4 176.8L722.7 189.8L720.5 175.1L724.2 165Z" fill="#c0d4f5"/><path d="M752.4 149.6L748.4 163.8L746.3 163.2L750.3 149.3Z" fill="#ead5c9"/><path d="M707.1 180.8L703.4 180.9L701 167.4L704.7 166.8Z" fill="#c7d7f0"/><path d="M792.8 101.4L788.9 101.1L786.9 103.5L790.8 103.5Z" fill="#c12b30"/><path d="M670.1 113L666.3 106.9L664 109L667.8 114.8Z" fill="#d65244"/><path d="M666.3 106.9L662.6 104.3L660.3 106.2L664 109Z" fill="#cc403a"/><path d="M781 106.1L777.1 107.2L775 112L778.9 108.7Z" fill="#d1493f"/><path d="M692.1 162.9L688.3 155.2L685.9 149.2L689.7 155.2Z" fill="#ecd3c5"/><path d="M786.9 103.5L783 103.5L781 106.1L784.9 105.8Z" fill="#c73635"/><path d="M808.4 98.9L804.5 98.3L802.6 100.2L806.5 100.8Z" fill="#b8122a"/><path d="M744.2 160.2L740.3 176.8L738.3 168.8L742.2 155Z" fill="#dadce0"/><path d="M656.6 103.9L652.9 101.9L650.5 103.8L654.2 105.8Z" fill="#c43032"/><path d="M679.2 133.2L675.4 125.9L673 126.5L676.8 132.2Z" fill="#f39475"/><path d="M770.8 120.3L766.8 125L764.7 128.9L768.7 123.7Z" fill="#ed8366"/><path d="M802.6 100.2L798.7 99.7L796.7 101.7L800.6 102.2Z" fill="#bb1b2c"/><path d="M688.3 155.2L684.5 146.9L682.1 143.5L685.9 149.2Z" fill="#f4c5ad"/><path d="M760.5 135.6L756.6 145.3L754.4 148.2L758.4 137.5Z" fill="#f7b599"/><path d="M675.4 125.9L671.6 120.4L669.3 121.4L673 126.5Z" fill="#ec7f63"/><path d="M660.3 106.2L656.6 103.9L654.2 105.8L657.9 108Z" fill="#c83836"/><path d="M778.9 108.7L775 112L772.9 116.4L776.8 111.8Z" fill="#d75445"/><path d="M796.7 101.7L792.8 101.4L790.8 103.5L794.7 103.8Z" fill="#be242e"/><path d="M812.3 99.7L808.4 98.9L806.5 100.8L810.4 101.5Z" fill="#b70d28"/><path d="M671.6 120.4L667.8 114.8L665.5 116.1L669.3 121.4Z" fill="#e36b54"/><path d="M790.8 103.5L786.9 103.5L784.9 105.8L788.7 105.7Z" fill="#c32e31"/><path d="M664 109L660.3 106.2L657.9 108L661.6 110.6Z" fill="#cc403a"/><path d="M684.5 146.9L680.7 139.8L678.3 137.1L682.1 143.5Z" fill="#f7b497"/><path d="M667.8 114.8L664 109L661.6 110.6L665.5 116.1Z" fill="#d65244"/><path d="M710.8 177L707.1 180.8L704.7 166.8L708.5 163.5Z" fill="#cfdaea"/><path d="M784.9 105.8L781 106.1L778.9 108.7L782.8 108.2Z" fill="#ca3b37"/><path d="M720.5 175.1L716.8 184.1L714.5 170.7L718.3 162.7Z" fill="#cdd9ec"/><path d="M806.5 100.8L802.6 100.2L800.6 102.2L804.5 102.8Z" fill="#ba162b"/><path d="M768.7 123.7L764.7 128.9L762.6 132.8L766.6 126.4Z" fill="#f08a6c"/><path d="M654.2 105.8L650.5 103.8L648.2 105.6L651.9 107.5Z" fill="#c43032"/><path d="M776.8 111.8L772.9 116.4L770.8 120.3L774.7 115.5Z" fill="#dd5f4b"/><path d="M800.6 102.2L796.7 101.7L794.7 103.8L798.6 104.2Z" fill="#bb1b2c"/><path d="M680.7 139.8L676.8 132.2L674.5 131L678.3 137.1Z" fill="#f59f80"/><path d="M750.3 149.3L746.3 163.2L744.2 160.2L748.2 147.2Z" fill="#f0cdbb"/><path d="M758.4 137.5L754.4 148.2L752.4 149.6L756.3 138.1Z" fill="#f7b497"/><path d="M794.7 103.8L790.8 103.5L788.7 105.7L792.7 105.9Z" fill="#c0282f"/><path d="M657.9 108L654.2 105.8L651.9 107.5L655.6 109.7Z" fill="#c83836"/><path d="M676.8 132.2L673 126.5L670.7 126.5L674.5 131Z" fill="#f08a6c"/><path d="M810.4 101.5L806.5 100.8L804.5 102.8L808.4 103.4Z" fill="#b8122a"/><path d="M788.7 105.7L784.9 105.8L782.8 108.2L786.7 107.9Z" fill="#c53334"/><path d="M673 126.5L669.3 121.4L666.9 121.8L670.7 126.5Z" fill="#e9785d"/><path d="M782.8 108.2L778.9 108.7L776.8 111.8L780.8 110.5Z" fill="#cc403a"/><path d="M766.6 126.4L762.6 132.8L760.5 135.6L764.5 128.6Z" fill="#f18f71"/><path d="M669.3 121.4L665.5 116.1L663.1 116.8L666.9 121.8Z" fill="#e0654f"/><path d="M661.6 110.6L657.9 108L655.6 109.7L659.3 112Z" fill="#cc403a"/><path d="M774.7 115.5L770.8 120.3L768.7 123.7L772.7 118.6Z" fill="#e16751"/><path d="M804.5 102.8L800.6 102.2L798.6 104.2L802.5 104.7Z" fill="#ba162b"/><path d="M665.5 116.1L661.6 110.6L659.3 112L663.1 116.8Z" fill="#d55042"/><path d="M651.9 107.5L648.2 105.6L645.8 107.3L649.5 109.2Z" fill="#c43032"/><path d="M798.6 104.2L794.7 103.8L792.7 105.9L796.6 106.2Z" fill="#bd1f2d"/><path d="M736.2 161.2L732.3 175.1L730.2 164.5L734.1 153.3Z" fill="#e6d7cf"/><path d="M693.5 160.8L689.7 155.2L687.3 148.6L691.1 152Z" fill="#f2c9b4"/><path d="M697.3 165.1L693.5 160.8L691.1 152L694.9 154.4Z" fill="#efcfbf"/><path d="M689.7 155.2L685.9 149.2L683.5 144.4L687.3 148.6Z" fill="#f6bfa6"/><path d="M792.7 105.9L788.7 105.7L786.7 107.9L790.6 107.9Z" fill="#c12b30"/><path d="M730.2 164.5L726.4 176.8L724.2 165L728.1 154.8Z" fill="#e3d9d3"/><path d="M714.5 170.7L710.8 177L708.5 163.5L712.2 157.8Z" fill="#e0dbd8"/><path d="M742.2 155L738.3 168.8L736.2 161.2L740.1 149.7Z" fill="#eed0c0"/><path d="M655.6 109.7L651.9 107.5L649.5 109.2L653.2 111.2Z" fill="#c73635"/><path d="M685.9 149.2L682.1 143.5L679.7 139.4L683.5 144.4Z" fill="#f7b194"/><path d="M780.8 110.5L776.8 111.8L774.7 115.5L778.7 112.7Z" fill="#d0473d"/><path d="M808.4 103.4L804.5 102.8L802.5 104.7L806.4 105.3Z" fill="#b8122a"/><path d="M786.7 107.9L782.8 108.2L780.8 110.5L784.7 110.1Z" fill="#c73635"/><path d="M772.7 118.6L768.7 123.7L766.6 126.4L770.6 121.2Z" fill="#e36c55"/><path d="M701 167.4L697.3 165.1L694.9 154.4L698.6 155.4Z" fill="#ecd3c5"/><path d="M764.5 128.6L760.5 135.6L758.4 137.5L762.4 130.3Z" fill="#f29072"/><path d="M756.3 138.1L752.4 149.6L750.3 149.3L754.3 137.3Z" fill="#f7af91"/><path d="M682.1 143.5L678.3 137.1L675.9 134.2L679.7 139.4Z" fill="#f5a081"/><path d="M802.5 104.7L798.6 104.2L796.6 106.2L800.5 106.6Z" fill="#bb1b2c"/><path d="M659.3 112L655.6 109.7L653.2 111.2L656.9 113.4Z" fill="#cb3e38"/><path d="M678.3 137.1L674.5 131L672.1 130.1L675.9 134.2Z" fill="#f18f71"/><path d="M674.5 131L670.7 126.5L668.3 126L672.1 130.1Z" fill="#ec7f63"/><path d="M670.7 126.5L666.9 121.8L664.5 121.6L668.3 126Z" fill="#e57058"/><path d="M666.9 121.8L663.1 116.8L660.7 117L664.5 121.6Z" fill="#dd5f4b"/><path d="M663.1 116.8L659.3 112L656.9 113.4L660.7 117Z" fill="#d24b40"/><path d="M649.5 109.2L645.8 107.3L643.4 108.9L647.1 110.7Z" fill="#c43032"/><path d="M796.6 106.2L792.7 105.9L790.6 107.9L794.5 108.2Z" fill="#be242e"/><path d="M748.2 147.2L744.2 160.2L742.2 155L746.1 143.6Z" fill="#f5c0a7"/><path d="M724.2 165L720.5 175.1L718.3 162.7L722 154.1Z" fill="#e8d6cc"/><path d="M778.7 112.7L774.7 115.5L772.7 118.6L776.6 114.8Z" fill="#d24b40"/><path d="M790.6 107.9L786.7 107.9L784.7 110.1L788.6 110Z" fill="#c32e31"/><path d="M704.7 166.8L701 167.4L698.6 155.4L702.4 154.4Z" fill="#edd1c2"/><path d="M784.7 110.1L780.8 110.5L778.7 112.7L782.6 112.2Z" fill="#c83836"/><path d="M806.4 105.3L802.5 104.7L800.5 106.6L804.4 107.2Z" fill="#b8122a"/><path d="M653.2 111.2L649.5 109.2L647.1 110.7L650.8 112.6Z" fill="#c73635"/><path d="M770.6 121.2L766.6 126.4L764.5 128.6L768.5 123.3Z" fill="#e57058"/><path d="M762.4 130.3L758.4 137.5L756.3 138.1L760.3 131.3Z" fill="#f18f71"/><path d="M800.5 106.6L796.6 106.2L794.5 108.2L798.5 108.5Z" fill="#bb1b2c"/><path d="M656.9 113.4L653.2 111.2L650.8 112.6L654.6 114.6Z" fill="#ca3b37"/><path d="M794.5 108.2L790.6 107.9L788.6 110L792.5 110.1Z" fill="#be242e"/><path d="M647.1 110.7L643.4 108.9L641 110.5L644.7 112.2Z" fill="#c32e31"/><path d="M754.3 137.3L750.3 149.3L748.2 147.2L752.2 137.2Z" fill="#f6a586"/><path d="M776.6 114.8L772.7 118.6L770.6 121.2L774.6 116.8Z" fill="#d55042"/><path d="M660.7 117L656.9 113.4L654.6 114.6L658.3 116.7Z" fill="#cf453c"/><path d="M788.6 110L784.7 110.1L782.6 112.2L786.5 112Z" fill="#c43032"/><path d="M664.5 121.6L660.7 117L658.3 116.7L662.1 120.8Z" fill="#d65244"/><path d="M718.3 162.7L714.5 170.7L712.2 157.8L716 151.2Z" fill="#f0cdbb"/><path d="M668.3 126L664.5 121.6L662.1 120.8L665.9 124.8Z" fill="#df634e"/><path d="M782.6 112.2L778.7 112.7L776.6 114.8L780.6 114.2Z" fill="#ca3b37"/><path d="M672.1 130.1L668.3 126L665.9 124.8L669.7 128.6Z" fill="#e67259"/><path d="M804.4 107.2L800.5 106.6L798.5 108.5L802.4 109.1Z" fill="#ba162b"/><path d="M708.5 163.5L704.7 166.8L702.4 154.4L706.1 151.2Z" fill="#f2cab5"/><path d="M768.5 123.3L764.5 128.6L762.4 130.3L766.4 124.9Z" fill="#e57058"/><path d="M675.9 134.2L672.1 130.1L669.7 128.6L673.5 132.3Z" fill="#ec7f63"/><path d="M679.7 139.4L675.9 134.2L673.5 132.3L677.3 135.7Z" fill="#f18d6f"/><path d="M650.8 112.6L647.1 110.7L644.7 112.2L648.4 113.9Z" fill="#c53334"/><path d="M683.5 144.4L679.7 139.4L677.3 135.7L681.1 138.9Z" fill="#f49a7b"/><path d="M687.3 148.6L683.5 144.4L681.1 138.9L684.9 142.4Z" fill="#f6a586"/><path d="M798.5 108.5L794.5 108.2L792.5 110.1L796.4 110.5Z" fill="#bd1f2d"/><path d="M691.1 152L687.3 148.6L684.9 142.4L688.7 144.8Z" fill="#f7ad90"/><path d="M740.1 149.7L736.2 161.2L734.1 153.3L738 143.5Z" fill="#f7b99e"/><path d="M654.6 114.6L650.8 112.6L648.4 113.9L652.2 115.8Z" fill="#c83836"/><path d="M760.3 131.3L756.3 138.1L754.3 137.3L758.2 131.9Z" fill="#ef886b"/><path d="M792.5 110.1L788.6 110L786.5 112L790.5 112.1Z" fill="#c0282f"/><path d="M734.1 153.3L730.2 164.5L728.1 154.8L731.9 145.8Z" fill="#f6bfa6"/><path d="M774.6 116.8L770.6 121.2L768.5 123.3L772.5 118.7Z" fill="#d65244"/><path d="M644.7 112.2L641 110.5L638.6 111.9L642.3 113.5Z" fill="#c12b30"/><path d="M694.9 154.4L691.1 152L688.7 144.8L692.4 146Z" fill="#f7b194"/><path d="M786.5 112L782.6 112.2L780.6 114.2L784.5 113.9Z" fill="#c43032"/><path d="M746.1 143.6L742.2 155L740.1 149.7L744 140.4Z" fill="#f7ac8e"/><path d="M780.6 114.2L776.6 114.8L774.6 116.8L778.5 116.1Z" fill="#ca3b37"/><path d="M658.3 116.7L654.6 114.6L652.2 115.8L655.9 117.6Z" fill="#cb3e38"/><path d="M802.4 109.1L798.5 108.5L796.4 110.5L800.4 111Z" fill="#ba162b"/><path d="M728.1 154.8L724.2 165L722 154.1L725.9 145.9Z" fill="#f6bda2"/><path d="M766.4 124.9L762.4 130.3L760.3 131.3L764.3 125.9Z" fill="#e36c55"/><path d="M648.4 113.9L644.7 112.2L642.3 113.5L646 115.2Z" fill="#c43032"/><path d="M796.4 110.5L792.5 110.1L790.5 112.1L794.4 112.4Z" fill="#bd1f2d"/><path d="M662.1 120.8L658.3 116.7L655.9 117.6L659.7 119.6Z" fill="#d0473d"/><path d="M752.2 137.2L748.2 147.2L746.1 143.6L750.1 136.6Z" fill="#f4987a"/><path d="M698.6 155.4L694.9 154.4L692.4 146L696.2 145.6Z" fill="#f7b194"/><path d="M665.9 124.8L662.1 120.8L659.7 119.6L663.5 123.1Z" fill="#d75445"/><path d="M790.5 112.1L786.5 112L784.5 113.9L788.4 114Z" fill="#c0282f"/><path d="M712.2 157.8L708.5 163.5L706.1 151.2L709.9 146.2Z" fill="#f7ba9f"/><path d="M669.7 128.6L665.9 124.8L663.5 123.1L667.3 126.5Z" fill="#de614d"/><path d="M652.2 115.8L648.4 113.9L646 115.2L649.8 116.8Z" fill="#c73635"/><path d="M772.5 118.7L768.5 123.3L766.4 124.9L770.4 120.4Z" fill="#d65244"/><path d="M673.5 132.3L669.7 128.6L667.3 126.5L671.1 129.7Z" fill="#e46e56"/><path d="M784.5 113.9L780.6 114.2L778.5 116.1L782.4 115.8Z" fill="#c43032"/><path d="M642.3 113.5L638.6 111.9L636.1 113.4L639.9 114.9Z" fill="#c0282f"/><path d="M778.5 116.1L774.6 116.8L772.5 118.7L776.4 118Z" fill="#cb3e38"/><path d="M758.2 131.9L754.3 137.3L752.2 137.2L756.1 131.9Z" fill="#ec7f63"/><path d="M677.3 135.7L673.5 132.3L671.1 129.7L674.9 132.7Z" fill="#e9785d"/><path d="M800.4 111L796.4 110.5L794.4 112.4L798.4 112.8Z" fill="#ba162b"/><path d="M722 154.1L718.3 162.7L716 151.2L719.8 144.5Z" fill="#f7b599"/><path d="M655.9 117.6L652.2 115.8L649.8 116.8L653.5 118.5Z" fill="#c83836"/><path d="M681.1 138.9L677.3 135.7L674.9 132.7L678.7 135.4Z" fill="#ec8165"/><path d="M702.4 154.4L698.6 155.4L696.2 145.6L700 143.9Z" fill="#f7ac8e"/><path d="M794.4 112.4L790.5 112.1L788.4 114L792.4 114.2Z" fill="#bd1f2d"/><path d="M646 115.2L642.3 113.5L639.9 114.9L643.6 116.4Z" fill="#c32e31"/><path d="M764.3 125.9L760.3 131.3L758.2 131.9L762.2 126.5Z" fill="#e26952"/><path d="M684.9 142.4L681.1 138.9L678.7 135.4L682.5 137.6Z" fill="#f08a6c"/><path d="M788.4 114L784.5 113.9L782.4 115.8L786.4 115.8Z" fill="#c12b30"/><path d="M659.7 119.6L655.9 117.6L653.5 118.5L657.3 120.2Z" fill="#cb3e38"/><path d="M782.4 115.8L778.5 116.1L776.4 118L780.4 117.6Z" fill="#c53334"/><path d="M770.4 120.4L766.4 124.9L764.3 125.9L768.3 122Z" fill="#d55042"/><path d="M688.7 144.8L684.9 142.4L682.5 137.6L686.2 139.1Z" fill="#f18f71"/><path d="M649.8 116.8L646 115.2L643.6 116.4L647.3 117.9Z" fill="#c43032"/><path d="M744 140.4L740.1 149.7L738 143.5L741.9 138.7Z" fill="#f39577"/><path d="M639.9 114.9L636.1 113.4L633.7 114.8L637.4 116.2Z" fill="#be242e"/><path d="M776.4 118L772.5 118.7L770.4 120.4L774.3 119.7Z" fill="#ca3b37"/><path d="M663.5 123.1L659.7 119.6L657.3 120.2L661 121.9Z" fill="#cf453c"/><path d="M738 143.5L734.1 153.3L731.9 145.8L735.8 140.7Z" fill="#f59d7e"/><path d="M798.4 112.8L794.4 112.4L792.4 114.2L796.3 114.7Z" fill="#ba162b"/><path d="M750.1 136.6L746.1 143.6L744 140.4L747.9 135.6Z" fill="#ef886b"/><path d="M716 151.2L712.2 157.8L709.9 146.2L713.7 143.4Z" fill="#f7a688"/><path d="M667.3 126.5L663.5 123.1L661 121.9L664.8 123.8Z" fill="#d44e41"/><path d="M706.1 151.2L702.4 154.4L700 143.9L703.8 142.9Z" fill="#f6a283"/><path d="M653.5 118.5L649.8 116.8L647.3 117.9L651.1 119.4Z" fill="#c53334"/><path d="M792.4 114.2L788.4 114L786.4 115.8L790.3 116.1Z" fill="#bd1f2d"/><path d="M756.1 131.9L752.2 137.2L750.1 136.6L754 131.5Z" fill="#e8765c"/><path d="M692.4 146L688.7 144.8L686.2 139.1L690 139.9Z" fill="#f29072"/><path d="M731.9 145.8L728.1 154.8L725.9 145.9L729.7 141.7Z" fill="#f59f80"/><path d="M643.6 116.4L639.9 114.9L637.4 116.2L641.1 117.6Z" fill="#c0282f"/><path d="M671.1 129.7L667.3 126.5L664.8 123.8L668.6 126.6Z" fill="#d85646"/><path d="M786.4 115.8L782.4 115.8L780.4 117.6L784.3 117.6Z" fill="#c12b30"/><path d="M762.2 126.5L758.2 131.9L756.1 131.9L760.1 126.6Z" fill="#de614d"/><path d="M657.3 120.2L653.5 118.5L651.1 119.4L654.8 120.9Z" fill="#c83836"/><path d="M780.4 117.6L776.4 118L774.3 119.7L778.3 119.4Z" fill="#c53334"/><path d="M674.9 132.7L671.1 129.7L668.6 126.6L672.4 129.2Z" fill="#de614d"/><path d="M768.3 122L764.3 125.9L762.2 126.5L766.2 123.5Z" fill="#d24b40"/><path d="M647.3 117.9L643.6 116.4L641.1 117.6L644.9 119Z" fill="#c12b30"/><path d="M774.3 119.7L770.4 120.4L768.3 122L772.2 121.3Z" fill="#ca3b37"/><path d="M725.9 145.9L722 154.1L719.8 144.5L723.6 141.9Z" fill="#f49a7b"/><path d="M637.4 116.2L633.7 114.8L631.2 116.2L635 117.5Z" fill="#bd1f2d"/><path d="M796.3 114.7L792.4 114.2L790.3 116.1L794.3 116.5Z" fill="#bb1b2c"/><path d="M696.2 145.6L692.4 146L690 139.9L693.8 140Z" fill="#f18f71"/><path d="M678.7 135.4L674.9 132.7L672.4 129.2L676.2 131.5Z" fill="#e26952"/><path d="M661 121.9L657.3 120.2L654.8 120.9L658.6 122.4Z" fill="#ca3b37"/><path d="M790.3 116.1L786.4 115.8L784.3 117.6L788.3 117.9Z" fill="#bd1f2d"/><path d="M651.1 119.4L647.3 117.9L644.9 119L648.6 120.4Z" fill="#c32e31"/><path d="M682.5 137.6L678.7 135.4L676.2 131.5L680 133.3Z" fill="#e46e56"/><path d="M641.1 117.6L637.4 116.2L635 117.5L638.7 118.8Z" fill="#be242e"/><path d="M709.9 146.2L706.1 151.2L703.8 142.9L707.6 141.5Z" fill="#f39475"/><path d="M784.3 117.6L780.4 117.6L778.3 119.4L782.2 119.4Z" fill="#c12b30"/><path d="M747.9 135.6L744 140.4L741.9 138.7L745.8 134.1Z" fill="#e8765c"/><path d="M664.8 123.8L661 121.9L658.6 122.4L662.4 123.9Z" fill="#cb3e38"/><path d="M754 131.5L750.1 136.6L747.9 135.6L751.9 130.5Z" fill="#e26952"/><path d="M741.9 138.7L738 143.5L735.8 140.7L739.7 136.7Z" fill="#ec7f63"/><path d="M719.8 144.5L716 151.2L713.7 143.4L717.6 141.2Z" fill="#f29072"/><path d="M778.3 119.4L774.3 119.7L772.2 121.3L776.2 121.1Z" fill="#c43032"/><path d="M700 143.9L696.2 145.6L693.8 140L697.6 139.6Z" fill="#ee8669"/><path d="M654.8 120.9L651.1 119.4L648.6 120.4L652.4 121.7Z" fill="#c43032"/><path d="M760.1 126.6L756.1 131.9L754 131.5L758 126.9Z" fill="#d85646"/><path d="M686.2 139.1L682.5 137.6L680 133.3L683.8 134.6Z" fill="#e57058"/><path d="M794.3 116.5L790.3 116.1L788.3 117.9L792.2 118.3Z" fill="#bb1b2c"/><path d="M772.2 121.3L768.3 122L766.2 123.5L770.1 122.9Z" fill="#c83836"/><path d="M735.8 140.7L731.9 145.8L729.7 141.7L733.6 138.3Z" fill="#ed8366"/><path d="M644.9 119L641.1 117.6L638.7 118.8L642.4 120.1Z" fill="#c0282f"/><path d="M766.2 123.5L762.2 126.5L760.1 126.6L764.1 124.8Z" fill="#d0473d"/><path d="M635 117.5L631.2 116.2L628.8 117.6L632.5 118.9Z" fill="#bb1b2c"/><path d="M668.6 126.6L664.8 123.8L662.4 123.9L666.2 125.4Z" fill="#cf453c"/><path d="M788.3 117.9L784.3 117.6L782.2 119.4L786.2 119.6Z" fill="#bd1f2d"/><path d="M658.6 122.4L654.8 120.9L652.4 121.7L656.2 123.1Z" fill="#c53334"/><path d="M729.7 141.7L725.9 145.9L723.6 141.9L727.5 138.9Z" fill="#ed8366"/><path d="M690 139.9L686.2 139.1L683.8 134.6L687.6 135.3Z" fill="#e57058"/><path d="M672.4 129.2L668.6 126.6L666.2 125.4L669.9 126.8Z" fill="#d1493f"/><path d="M648.6 120.4L644.9 119L642.4 120.1L646.2 121.4Z" fill="#c0282f"/><path d="M782.2 119.4L778.3 119.4L776.2 121.1L780.2 121.1Z" fill="#c0282f"/><path d="M638.7 118.8L635 117.5L632.5 118.9L636.2 120.1Z" fill="#bd1f2d"/><path d="M713.7 143.4L709.9 146.2L707.6 141.5L711.4 139.8Z" fill="#ed8366"/><path d="M703.8 142.9L700 143.9L697.6 139.6L701.4 138.9Z" fill="#eb7d62"/><path d="M776.2 121.1L772.2 121.3L770.1 122.9L774.1 122.7Z" fill="#c43032"/><path d="M662.4 123.9L658.6 122.4L656.2 123.1L659.9 124.5Z" fill="#c73635"/><path d="M792.2 118.3L788.3 117.9L786.2 119.6L790.2 120.1Z" fill="#bb1b2c"/><path d="M676.2 131.5L672.4 129.2L669.9 126.8L673.7 128.2Z" fill="#d44e41"/><path d="M770.1 122.9L766.2 123.5L764.1 124.8L768 124.4Z" fill="#c73635"/><path d="M652.4 121.7L648.6 120.4L646.2 121.4L650 122.7Z" fill="#c12b30"/><path d="M632.5 118.9L628.8 117.6L626.3 119.1L630 120.3Z" fill="#ba162b"/><path d="M642.4 120.1L638.7 118.8L636.2 120.1L640 121.3Z" fill="#bd1f2d"/><path d="M723.6 141.9L719.8 144.5L717.6 141.2L721.4 138.8Z" fill="#ea7b60"/><path d="M693.8 140L690 139.9L687.6 135.3L691.4 135.6Z" fill="#e46e56"/><path d="M764.1 124.8L760.1 126.6L758 126.9L761.9 126.1Z" fill="#cc403a"/><path d="M751.9 130.5L747.9 135.6L745.8 134.1L749.8 129.6Z" fill="#da5a49"/><path d="M758 126.9L754 131.5L751.9 130.5L755.9 127.9Z" fill="#d44e41"/><path d="M745.8 134.1L741.9 138.7L739.7 136.7L743.6 132.3Z" fill="#e0654f"/><path d="M786.2 119.6L782.2 119.4L780.2 121.1L784.1 121.4Z" fill="#bd1f2d"/><path d="M680 133.3L676.2 131.5L673.7 128.2L677.6 129.4Z" fill="#d65244"/><path d="M666.2 125.4L662.4 123.9L659.9 124.5L663.7 125.8Z" fill="#c83836"/><path d="M739.7 136.7L735.8 140.7L733.6 138.3L737.5 134.4Z" fill="#e36c55"/><path d="M780.2 121.1L776.2 121.1L774.1 122.7L778.1 122.8Z" fill="#c0282f"/><path d="M656.2 123.1L652.4 121.7L650 122.7L653.7 123.9Z" fill="#c32e31"/><path d="M636.2 120.1L632.5 118.9L630 120.3L633.7 121.5Z" fill="#ba162b"/><path d="M646.2 121.4L642.4 120.1L640 121.3L643.7 122.5Z" fill="#be242e"/><path d="M707.6 141.5L703.8 142.9L701.4 138.9L705.3 137.7Z" fill="#e7745b"/><path d="M733.6 138.3L729.7 141.7L727.5 138.9L731.4 135.6Z" fill="#e36c55"/><path d="M774.1 122.7L770.1 122.9L768 124.4L772 124.3Z" fill="#c32e31"/><path d="M717.6 141.2L713.7 143.4L711.4 139.8L715.3 137.9Z" fill="#e7745b"/><path d="M697.6 139.6L693.8 140L691.4 135.6L695.3 135.4Z" fill="#e26952"/><path d="M683.8 134.6L680 133.3L677.6 129.4L681.4 130.5Z" fill="#d65244"/><path d="M790.2 120.1L786.2 119.6L784.1 121.4L788.1 121.9Z" fill="#ba162b"/><path d="M669.9 126.8L666.2 125.4L663.7 125.8L667.5 127Z" fill="#ca3b37"/><path d="M768 124.4L764.1 124.8L761.9 126.1L765.9 125.8Z" fill="#c53334"/><path d="M659.9 124.5L656.2 123.1L653.7 123.9L657.5 125.2Z" fill="#c32e31"/><path d="M650 122.7L646.2 121.4L643.7 122.5L647.5 123.8Z" fill="#be242e"/><path d="M640 121.3L636.2 120.1L633.7 121.5L637.5 122.6Z" fill="#bb1b2c"/><path d="M784.1 121.4L780.2 121.1L778.1 122.8L782 123.1Z" fill="#bd1f2d"/><path d="M761.9 126.1L758 126.9L755.9 127.9L759.8 127.4Z" fill="#ca3b37"/><path d="M727.5 138.9L723.6 141.9L721.4 138.8L725.3 136Z" fill="#e36b54"/><path d="M673.7 128.2L669.9 126.8L667.5 127L671.3 128.3Z" fill="#ca3b37"/><path d="M755.9 127.9L751.9 130.5L749.8 129.6L753.7 129Z" fill="#cd423b"/><path d="M687.6 135.3L683.8 134.6L681.4 130.5L685.2 131.5Z" fill="#d65244"/><path d="M778.1 122.8L774.1 122.7L772 124.3L776 124.4Z" fill="#be242e"/><path d="M663.7 125.8L659.9 124.5L657.5 125.2L661.3 126.4Z" fill="#c43032"/><path d="M749.8 129.6L745.8 134.1L743.6 132.3L747.6 130.5Z" fill="#d24b40"/><path d="M711.4 139.8L707.6 141.5L705.3 137.7L709.1 136.2Z" fill="#e26952"/><path d="M653.7 123.9L650 122.7L647.5 123.8L651.3 125Z" fill="#be242e"/><path d="M643.7 122.5L640 121.3L637.5 122.6L641.3 123.8Z" fill="#bb1b2c"/><path d="M701.4 138.9L697.6 139.6L695.3 135.4L699.1 134.8Z" fill="#de614d"/><path d="M743.6 132.3L739.7 136.7L737.5 134.4L741.5 131.8Z" fill="#d75445"/><path d="M772 124.3L768 124.4L765.9 125.8L769.9 125.8Z" fill="#c12b30"/><path d="M788.1 121.9L784.1 121.4L782 123.1L786 123.6Z" fill="#ba162b"/><path d="M721.4 138.8L717.6 141.2L715.3 137.9L719.1 135.6Z" fill="#e0654f"/><path d="M677.6 129.4L673.7 128.2L671.3 128.3L675.2 129.5Z" fill="#cb3e38"/><path d="M737.5 134.4L733.6 138.3L731.4 135.6L735.3 132.9Z" fill="#d85646"/><path d="M765.9 125.8L761.9 126.1L759.8 127.4L763.8 127.2Z" fill="#c43032"/><path d="M691.4 135.6L687.6 135.3L685.2 131.5L689 132.3Z" fill="#d55042"/><path d="M667.5 127L663.7 125.8L661.3 126.4L665.1 127.6Z" fill="#c43032"/><path d="M657.5 125.2L653.7 123.9L651.3 125L655.1 126.1Z" fill="#c0282f"/><path d="M647.5 123.8L643.7 122.5L641.3 123.8L645 125Z" fill="#bb1b2c"/><path d="M782 123.1L778.1 122.8L776 124.4L780 124.8Z" fill="#bb1b2c"/><path d="M759.8 127.4L755.9 127.9L753.7 129L757.7 128.7Z" fill="#c73635"/><path d="M731.4 135.6L727.5 138.9L725.3 136L729.2 133.7Z" fill="#d85646"/><path d="M681.4 130.5L677.6 129.4L675.2 129.5L679 130.6Z" fill="#cb3e38"/><path d="M776 124.4L772 124.3L769.9 125.8L773.9 126.1Z" fill="#be242e"/><path d="M705.3 137.7L701.4 138.9L699.1 134.8L702.9 134.1Z" fill="#d95847"/><path d="M753.7 129L749.8 129.6L747.6 130.5L751.5 130.1Z" fill="#ca3b37"/><path d="M671.3 128.3L667.5 127L665.1 127.6L668.9 128.8Z" fill="#c53334"/><path d="M715.3 137.9L711.4 139.8L709.1 136.2L713 134.5Z" fill="#da5a49"/><path d="M661.3 126.4L657.5 125.2L655.1 126.1L658.9 127.3Z" fill="#c0282f"/><path d="M651.3 125L647.5 123.8L645 125L648.8 126.1Z" fill="#bd1f2d"/><path d="M695.3 135.4L691.4 135.6L689 132.3L692.9 133.1Z" fill="#d44e41"/><path d="M769.9 125.8L765.9 125.8L763.8 127.2L767.7 127.4Z" fill="#c0282f"/><path d="M786 123.6L782 123.1L780 124.8L783.9 125.4Z" fill="#ba162b"/><path d="M747.6 130.5L743.6 132.3L741.5 131.8L745.4 131.4Z" fill="#cc403a"/><path d="M725.3 136L721.4 138.8L719.1 135.6L723 134.3Z" fill="#d75445"/><path d="M685.2 131.5L681.4 130.5L679 130.6L682.8 131.6Z" fill="#cb3e38"/><path d="M763.8 127.2L759.8 127.4L757.7 128.7L761.6 128.7Z" fill="#c32e31"/><path d="M675.2 129.5L671.3 128.3L668.9 128.8L672.7 129.9Z" fill="#c53334"/><path d="M780 124.8L776 124.4L773.9 126.1L777.8 126.5Z" fill="#bb1b2c"/><path d="M741.5 131.8L737.5 134.4L735.3 132.9L739.3 132.5Z" fill="#cf453c"/><path d="M665.1 127.6L661.3 126.4L658.9 127.3L662.7 128.5Z" fill="#c0282f"/><path d="M655.1 126.1L651.3 125L648.8 126.1L652.6 127.3Z" fill="#bd1f2d"/><path d="M757.7 128.7L753.7 129L751.5 130.1L755.5 130Z" fill="#c53334"/><path d="M709.1 136.2L705.3 137.7L702.9 134.1L706.8 134.5Z" fill="#d44e41"/><path d="M699.1 134.8L695.3 135.4L692.9 133.1L696.7 133.7Z" fill="#d0473d"/><path d="M773.9 126.1L769.9 125.8L767.7 127.4L771.7 127.7Z" fill="#bd1f2d"/><path d="M735.3 132.9L731.4 135.6L729.2 133.7L733.1 133.5Z" fill="#cf453c"/><path d="M719.1 135.6L715.3 137.9L713 134.5L716.9 134.6Z" fill="#d24b40"/><path d="M689 132.3L685.2 131.5L682.8 131.6L686.7 132.5Z" fill="#ca3b37"/><path d="M679 130.6L675.2 129.5L672.7 129.9L676.6 131Z" fill="#c53334"/><path d="M751.5 130.1L747.6 130.5L745.4 131.4L749.4 131.2Z" fill="#c73635"/><path d="M668.9 128.8L665.1 127.6L662.7 128.5L666.5 129.6Z" fill="#c12b30"/><path d="M658.9 127.3L655.1 126.1L652.6 127.3L656.4 128.4Z" fill="#bd1f2d"/><path d="M767.7 127.4L763.8 127.2L761.6 128.7L765.6 128.9Z" fill="#be242e"/><path d="M783.9 125.4L780 124.8L777.8 126.5L781.8 127.1Z" fill="#ba162b"/><path d="M729.2 133.7L725.3 136L723 134.3L727 134.2Z" fill="#cf453c"/><path d="M745.4 131.4L741.5 131.8L739.3 132.5L743.2 132.4Z" fill="#c83836"/><path d="M761.6 128.7L757.7 128.7L755.5 130L759.5 130.1Z" fill="#c12b30"/><path d="M777.8 126.5L773.9 126.1L771.7 127.7L775.7 128.2Z" fill="#ba162b"/><path d="M702.9 134.1L699.1 134.8L696.7 133.7L700.6 134.3Z" fill="#cd423b"/><path d="M692.9 133.1L689 132.3L686.7 132.5L690.5 133.4Z" fill="#ca3b37"/><path d="M713 134.5L709.1 136.2L706.8 134.5L710.7 134.8Z" fill="#cf453c"/><path d="M682.8 131.6L679 130.6L676.6 131L680.4 132.1Z" fill="#c53334"/><path d="M672.7 129.9L668.9 128.8L666.5 129.6L670.3 130.8Z" fill="#c12b30"/><path d="M662.7 128.5L658.9 127.3L656.4 128.4L660.2 129.6Z" fill="#bd1f2d"/><path d="M739.3 132.5L735.3 132.9L733.1 133.5L737.1 133.4Z" fill="#ca3b37"/><path d="M755.5 130L751.5 130.1L749.4 131.2L753.3 131.3Z" fill="#c32e31"/><path d="M723 134.3L719.1 135.6L716.9 134.6L720.8 134.7Z" fill="#cd423b"/><path d="M771.7 127.7L767.7 127.4L765.6 128.9L769.6 129.4Z" fill="#bb1b2c"/><path d="M749.4 131.2L745.4 131.4L743.2 132.4L747.2 132.4Z" fill="#c43032"/><path d="M781.8 127.1L777.8 126.5L775.7 128.2L779.7 128.9Z" fill="#b8122a"/><path d="M696.7 133.7L692.9 133.1L690.5 133.4L694.4 134.1Z" fill="#c83836"/><path d="M733.1 133.5L729.2 133.7L727 134.2L730.9 134.2Z" fill="#ca3b37"/><path d="M686.7 132.5L682.8 131.6L680.4 132.1L684.3 133.1Z" fill="#c53334"/><path d="M765.6 128.9L761.6 128.7L759.5 130.1L763.5 130.5Z" fill="#be242e"/><path d="M676.6 131L672.7 129.9L670.3 130.8L674.2 131.9Z" fill="#c12b30"/><path d="M706.8 134.5L702.9 134.1L700.6 134.3L704.5 134.9Z" fill="#ca3b37"/><path d="M666.5 129.6L662.7 128.5L660.2 129.6L664.1 130.7Z" fill="#bd1f2d"/><path d="M716.9 134.6L713 134.5L710.7 134.8L714.6 135.1Z" fill="#cb3e38"/><path d="M775.7 128.2L771.7 127.7L769.6 129.4L773.6 129.9Z" fill="#ba162b"/><path d="M743.2 132.4L739.3 132.5L737.1 133.4L741 133.5Z" fill="#c53334"/><path d="M759.5 130.1L755.5 130L753.3 131.3L757.3 131.6Z" fill="#c0282f"/><path d="M727 134.2L723 134.3L720.8 134.7L724.7 134.9Z" fill="#c83836"/><path d="M690.5 133.4L686.7 132.5L684.3 133.1L688.1 134Z" fill="#c43032"/><path d="M680.4 132.1L676.6 131L674.2 131.9L678 132.9Z" fill="#c12b30"/><path d="M670.3 130.8L666.5 129.6L664.1 130.7L667.9 131.8Z" fill="#be242e"/><path d="M700.6 134.3L696.7 133.7L694.4 134.1L698.3 134.9Z" fill="#c73635"/><path d="M769.6 129.4L765.6 128.9L763.5 130.5L767.5 131Z" fill="#bb1b2c"/><path d="M753.3 131.3L749.4 131.2L747.2 132.4L751.1 132.7Z" fill="#c0282f"/><path d="M710.7 134.8L706.8 134.5L704.5 134.9L708.4 135.4Z" fill="#c83836"/><path d="M737.1 133.4L733.1 133.5L730.9 134.2L734.8 134.4Z" fill="#c53334"/><path d="M720.8 134.7L716.9 134.6L714.6 135.1L718.5 135.5Z" fill="#c73635"/><path d="M779.7 128.9L775.7 128.2L773.6 129.9L777.6 130.6Z" fill="#b8122a"/><path d="M763.5 130.5L759.5 130.1L757.3 131.6L761.3 132.1Z" fill="#bd1f2d"/><path d="M747.2 132.4L743.2 132.4L741 133.5L745 133.8Z" fill="#c12b30"/><path d="M730.9 134.2L727 134.2L724.7 134.9L728.6 135.2Z" fill="#c53334"/><path d="M674.2 131.9L670.3 130.8L667.9 131.8L671.8 132.9Z" fill="#be242e"/><path d="M684.3 133.1L680.4 132.1L678 132.9L681.9 133.9Z" fill="#c12b30"/><path d="M694.4 134.1L690.5 133.4L688.1 134L692 134.9Z" fill="#c43032"/><path d="M704.5 134.9L700.6 134.3L698.3 134.9L702.2 135.6Z" fill="#c53334"/><path d="M773.6 129.9L769.6 129.4L767.5 131L771.5 131.6Z" fill="#b8122a"/><path d="M714.6 135.1L710.7 134.8L708.4 135.4L712.3 135.9Z" fill="#c53334"/><path d="M757.3 131.6L753.3 131.3L751.1 132.7L755.1 133.1Z" fill="#bd1f2d"/><path d="M741 133.5L737.1 133.4L734.8 134.4L738.8 134.7Z" fill="#c32e31"/><path d="M724.7 134.9L720.8 134.7L718.5 135.5L722.4 135.9Z" fill="#c43032"/><path d="M767.5 131L763.5 130.5L761.3 132.1L765.3 132.7Z" fill="#ba162b"/><path d="M678 132.9L674.2 131.9L671.8 132.9L675.6 134Z" fill="#be242e"/><path d="M688.1 134L684.3 133.1L681.9 133.9L685.8 134.9Z" fill="#c0282f"/><path d="M751.1 132.7L747.2 132.4L745 133.8L748.9 134.2Z" fill="#be242e"/><path d="M698.3 134.9L694.4 134.1L692 134.9L695.9 135.7Z" fill="#c32e31"/><path d="M734.8 134.4L730.9 134.2L728.6 135.2L732.6 135.6Z" fill="#c32e31"/><path d="M708.4 135.4L704.5 134.9L702.2 135.6L706.1 136.2Z" fill="#c43032"/><path d="M777.6 130.6L773.6 129.9L771.5 131.6L775.5 132.4Z" fill="#b70d28"/><path d="M718.5 135.5L714.6 135.1L712.3 135.9L716.2 136.4Z" fill="#c43032"/><path d="M761.3 132.1L757.3 131.6L755.1 133.1L759.1 133.7Z" fill="#bb1b2c"/><path d="M745 133.8L741 133.5L738.8 134.7L742.8 135.1Z" fill="#c0282f"/><path d="M728.6 135.2L724.7 134.9L722.4 135.9L726.4 136.3Z" fill="#c32e31"/><path d="M681.9 133.9L678 132.9L675.6 134L679.5 135.1Z" fill="#be242e"/><path d="M692 134.9L688.1 134L685.8 134.9L689.6 135.9Z" fill="#c0282f"/><path d="M771.5 131.6L767.5 131L765.3 132.7L769.3 133.4Z" fill="#b8122a"/><path d="M702.2 135.6L698.3 134.9L695.9 135.7L699.8 136.5Z" fill="#c12b30"/><path d="M755.1 133.1L751.1 132.7L748.9 134.2L752.9 134.7Z" fill="#bb1b2c"/><path d="M712.3 135.9L708.4 135.4L706.1 136.2L710 136.9Z" fill="#c32e31"/><path d="M738.8 134.7L734.8 134.4L732.6 135.6L736.5 136Z" fill="#c0282f"/><path d="M722.4 135.9L718.5 135.5L716.2 136.4L720.1 137Z" fill="#c12b30"/><path d="M765.3 132.7L761.3 132.1L759.1 133.7L763.1 134.4Z" fill="#ba162b"/><path d="M748.9 134.2L745 133.8L742.8 135.1L746.7 135.7Z" fill="#bd1f2d"/><path d="M685.8 134.9L681.9 133.9L679.5 135.1L683.4 136.1Z" fill="#bd1f2d"/><path d="M695.9 135.7L692 134.9L689.6 135.9L693.5 136.8Z" fill="#c0282f"/><path d="M732.6 135.6L728.6 135.2L726.4 136.3L730.3 136.9Z" fill="#c0282f"/><path d="M775.5 132.4L771.5 131.6L769.3 133.4L773.3 134.2Z" fill="#b70d28"/><path d="M706.1 136.2L702.2 135.6L699.8 136.5L703.7 137.3Z" fill="#c0282f"/><path d="M759.1 133.7L755.1 133.1L752.9 134.7L756.9 135.3Z" fill="#ba162b"/><path d="M716.2 136.4L712.3 135.9L710 136.9L713.9 137.6Z" fill="#c0282f"/><path d="M742.8 135.1L738.8 134.7L736.5 136L740.5 136.6Z" fill="#bd1f2d"/><path d="M769.3 133.4L765.3 132.7L763.1 134.4L767.1 135.1Z" fill="#b8122a"/><path d="M726.4 136.3L722.4 135.9L720.1 137L724.1 137.6Z" fill="#c0282f"/><path d="M689.6 135.9L685.8 134.9L683.4 136.1L687.3 137.1Z" fill="#bd1f2d"/><path d="M752.9 134.7L748.9 134.2L746.7 135.7L750.7 136.3Z" fill="#ba162b"/><path d="M699.8 136.5L695.9 135.7L693.5 136.8L697.5 137.7Z" fill="#be242e"/><path d="M736.5 136L732.6 135.6L730.3 136.9L734.3 137.4Z" fill="#bd1f2d"/><path d="M710 136.9L706.1 136.2L703.7 137.3L707.6 138.1Z" fill="#be242e"/><path d="M763.1 134.4L759.1 133.7L756.9 135.3L760.9 136.1Z" fill="#b8122a"/><path d="M720.1 137L716.2 136.4L713.9 137.6L717.8 138.3Z" fill="#be242e"/><path d="M746.7 135.7L742.8 135.1L740.5 136.6L744.5 137.2Z" fill="#bb1b2c"/><path d="M773.3 134.2L769.3 133.4L767.1 135.1L771.2 136Z" fill="#b70d28"/><path d="M693.5 136.8L689.6 135.9L687.3 137.1L691.2 138.1Z" fill="#bd1f2d"/><path d="M730.3 136.9L726.4 136.3L724.1 137.6L728.1 138.2Z" fill="#bd1f2d"/><path d="M756.9 135.3L752.9 134.7L750.7 136.3L754.7 137Z" fill="#b8122a"/><path d="M703.7 137.3L699.8 136.5L697.5 137.7L701.4 138.6Z" fill="#bd1f2d"/><path d="M740.5 136.6L736.5 136L734.3 137.4L738.3 138.1Z" fill="#bb1b2c"/><path d="M713.9 137.6L710 136.9L707.6 138.1L711.6 138.9Z" fill="#bd1f2d"/><path d="M767.1 135.1L763.1 134.4L760.9 136.1L765 136.9Z" fill="#b70d28"/><path d="M724.1 137.6L720.1 137L717.8 138.3L721.8 139Z" fill="#bd1f2d"/><path d="M750.7 136.3L746.7 135.7L744.5 137.2L748.5 137.9Z" fill="#ba162b"/><path d="M697.5 137.7L693.5 136.8L691.2 138.1L695.1 139Z" fill="#bb1b2c"/><path d="M734.3 137.4L730.3 136.9L728.1 138.2L732 138.9Z" fill="#bb1b2c"/><path d="M760.9 136.1L756.9 135.3L754.7 137L758.8 137.8Z" fill="#b70d28"/><path d="M707.6 138.1L703.7 137.3L701.4 138.6L705.3 139.4Z" fill="#bd1f2d"/><path d="M717.8 138.3L713.9 137.6L711.6 138.9L715.5 139.6Z" fill="#bd1f2d"/><path d="M744.5 137.2L740.5 136.6L738.3 138.1L742.3 138.8Z" fill="#ba162b"/><path d="M771.2 136L767.1 135.1L765 136.9L769 137.8Z" fill="#b50927"/><path d="M728.1 138.2L724.1 137.6L721.8 139L725.8 139.7Z" fill="#bb1b2c"/><path d="M754.7 137L750.7 136.3L748.5 137.9L752.5 138.7Z" fill="#b8122a"/><path d="M701.4 138.6L697.5 137.7L695.1 139L699 139.9Z" fill="#bb1b2c"/><path d="M738.3 138.1L734.3 137.4L732 138.9L736 139.7Z" fill="#ba162b"/><path d="M711.6 138.9L707.6 138.1L705.3 139.4L709.3 140.3Z" fill="#bb1b2c"/><path d="M765 136.9L760.9 136.1L758.8 137.8L762.8 138.7Z" fill="#b70d28"/><path d="M721.8 139L717.8 138.3L715.5 139.6L719.5 140.5Z" fill="#bb1b2c"/><path d="M748.5 137.9L744.5 137.2L742.3 138.8L746.3 139.6Z" fill="#b8122a"/><path d="M732 138.9L728.1 138.2L725.8 139.7L729.8 140.5Z" fill="#ba162b"/><path d="M758.8 137.8L754.7 137L752.5 138.7L756.6 139.6Z" fill="#b70d28"/><path d="M705.3 139.4L701.4 138.6L699 139.9L703 140.9Z" fill="#ba162b"/><path d="M742.3 138.8L738.3 138.1L736 139.7L740 140.5Z" fill="#b8122a"/><path d="M769 137.8L765 136.9L762.8 138.7L766.8 139.6Z" fill="#b50927"/><path d="M715.5 139.6L711.6 138.9L709.3 140.3L713.2 141.1Z" fill="#ba162b"/><path d="M725.8 139.7L721.8 139L719.5 140.5L723.5 141.3Z" fill="#ba162b"/><path d="M752.5 138.7L748.5 137.9L746.3 139.6L750.3 140.5Z" fill="#b70d28"/><path d="M736 139.7L732 138.9L729.8 140.5L733.8 141.3Z" fill="#b8122a"/><path d="M762.8 138.7L758.8 137.8L756.6 139.6L760.6 140.5Z" fill="#b50927"/><path d="M709.3 140.3L705.3 139.4L703 140.9L706.9 141.8Z" fill="#ba162b"/><path d="M746.3 139.6L742.3 138.8L740 140.5L744 141.4Z" fill="#b70d28"/><path d="M719.5 140.5L715.5 139.6L713.2 141.1L717.2 142Z" fill="#ba162b"/><path d="M756.6 139.6L752.5 138.7L750.3 140.5L754.3 141.4Z" fill="#b50927"/><path d="M729.8 140.5L725.8 139.7L723.5 141.3L727.5 142.2Z" fill="#b8122a"/><path d="M766.8 139.6L762.8 138.7L760.6 140.5L764.6 141.5Z" fill="#b50927"/><path d="M740 140.5L736 139.7L733.8 141.3L737.8 142.2Z" fill="#b70d28"/><path d="M713.2 141.1L709.3 140.3L706.9 141.8L710.9 142.7Z" fill="#b8122a"/><path d="M750.3 140.5L746.3 139.6L744 141.4L748.1 142.3Z" fill="#b70d28"/><path d="M723.5 141.3L719.5 140.5L717.2 142L721.2 142.9Z" fill="#b8122a"/><path d="M760.6 140.5L756.6 139.6L754.3 141.4L758.4 142.3Z" fill="#b50927"/><path d="M733.8 141.3L729.8 140.5L727.5 142.2L731.5 143.1Z" fill="#b70d28"/><path d="M744 141.4L740 140.5L737.8 142.2L741.8 143.1Z" fill="#b70d28"/><path d="M717.2 142L713.2 141.1L710.9 142.7L714.9 143.7Z" fill="#b8122a"/><path d="M754.3 141.4L750.3 140.5L748.1 142.3L752.1 143.2Z" fill="#b50927"/><path d="M727.5 142.2L723.5 141.3L721.2 142.9L725.2 143.9Z" fill="#b70d28"/><path d="M764.6 141.5L760.6 140.5L758.4 142.3L762.4 143.3Z" fill="#b50927"/><path d="M737.8 142.2L733.8 141.3L731.5 143.1L735.5 144Z" fill="#b70d28"/><path d="M748.1 142.3L744 141.4L741.8 143.1L745.8 144.1Z" fill="#b50927"/><path d="M721.2 142.9L717.2 142L714.9 143.7L718.9 144.6Z" fill="#b70d28"/><path d="M758.4 142.3L754.3 141.4L752.1 143.2L756.2 144.2Z" fill="#b50927"/><path d="M731.5 143.1L727.5 142.2L725.2 143.9L729.2 144.8Z" fill="#b70d28"/><path d="M741.8 143.1L737.8 142.2L735.5 144L739.5 144.9Z" fill="#b50927"/><path d="M752.1 143.2L748.1 142.3L745.8 144.1L749.9 145.1Z" fill="#b50927"/><path d="M725.2 143.9L721.2 142.9L718.9 144.6L722.9 145.6Z" fill="#b70d28"/><path d="M762.4 143.3L758.4 142.3L756.2 144.2L760.2 145.2Z" fill="#b40426"/><path d="M735.5 144L731.5 143.1L729.2 144.8L733.2 145.8Z" fill="#b50927"/><path d="M745.8 144.1L741.8 143.1L739.5 144.9L743.6 145.9Z" fill="#b50927"/><path d="M756.2 144.2L752.1 143.2L749.9 145.1L753.9 146.1Z" fill="#b40426"/><path d="M729.2 144.8L725.2 143.9L722.9 145.6L726.9 146.6Z" fill="#b50927"/><path d="M739.5 144.9L735.5 144L733.2 145.8L737.2 146.8Z" fill="#b50927"/><path d="M749.9 145.1L745.8 144.1L743.6 145.9L747.6 146.9Z" fill="#b50927"/><path d="M760.2 145.2L756.2 144.2L753.9 146.1L758 147.1Z" fill="#b40426"/><path d="M733.2 145.8L729.2 144.8L726.9 146.6L730.9 147.6Z" fill="#b50927"/><path d="M743.6 145.9L739.5 144.9L737.2 146.8L741.3 147.8Z" fill="#b50927"/><path d="M753.9 146.1L749.9 145.1L747.6 146.9L751.7 148Z" fill="#b40426"/><path d="M737.2 146.8L733.2 145.8L730.9 147.6L734.9 148.6Z" fill="#b50927"/><path d="M747.6 146.9L743.6 145.9L741.3 147.8L745.3 148.8Z" fill="#b40426"/><path d="M758 147.1L753.9 146.1L751.7 148L755.8 149Z" fill="#b40426"/><path d="M741.3 147.8L737.2 146.8L734.9 148.6L739 149.7Z" fill="#b40426"/><path d="M751.7 148L747.6 146.9L745.3 148.8L749.4 149.9Z" fill="#b40426"/><path d="M745.3 148.8L741.3 147.8L739 149.7L743.1 150.8Z" fill="#b40426"/><path d="M755.8 149L751.7 148L749.4 149.9L753.5 151Z" fill="#b40426"/><path d="M749.4 149.9L745.3 148.8L743.1 150.8L747.2 151.8Z" fill="#b40426"/><path d="M753.5 151L749.4 149.9L747.2 151.8L751.2 153Z" fill="#b40426"/></g><path d="M616.5 219.4L754.1 264.1M754.1 264.1L827.2 189.6M827.2 189.6L831.8 89.1M746.3 259.7L742.4 263.6M820.6 193.3L827.2 195.2M715.2 249.7L711.3 253.5M805.6 208.6L812.2 210.5M684.9 239.9L680.9 243.6M789.9 224.4L796.7 226.5M655.3 230.3L651.2 233.9M773.7 241L780.5 243.1M626.3 220.9L622.1 224.5M756.7 258.1L763.7 260.4M826.1 190.7L829.3 187.4M827 171.3L830.2 168.1M827.9 151.5L831.1 148.4M828.8 131.4L832 128.3M829.7 111L833 107.9M830.7 90.1L834 87.2" fill="none" stroke="#000" stroke-width="1.15"/><text x="620" y="242.6" text-anchor="middle" textLength="7.3" lengthAdjust="spacingAndGlyphs">4</text><text x="648.5" y="251.8" text-anchor="middle" textLength="7.3" lengthAdjust="spacingAndGlyphs">2</text><text x="677.5" y="261.6" text-anchor="middle" textLength="7.3" lengthAdjust="spacingAndGlyphs">0</text><text x="708.9" y="272.2" text-anchor="middle" textLength="16.8" lengthAdjust="spacingAndGlyphs">−2</text><text x="740.1" y="282.4" text-anchor="middle" textLength="16.8" lengthAdjust="spacingAndGlyphs">−4</text><text x="768.6" y="277.9" text-anchor="middle" textLength="7.3" lengthAdjust="spacingAndGlyphs">4</text><text x="785.2" y="260.5" text-anchor="middle" textLength="7.3" lengthAdjust="spacingAndGlyphs">2</text><text x="801.5" y="244.1" text-anchor="middle" textLength="7.3" lengthAdjust="spacingAndGlyphs">0</text><text x="816.5" y="226.8" text-anchor="middle" textLength="16.8" lengthAdjust="spacingAndGlyphs">−2</text><text x="831.3" y="212.6" text-anchor="middle" textLength="16.8" lengthAdjust="spacingAndGlyphs">−4</text><text x="840.8" y="194.5" text-anchor="middle" textLength="7.3" lengthAdjust="spacingAndGlyphs">0</text><text x="841.8" y="175.6" text-anchor="middle" textLength="14.5" lengthAdjust="spacingAndGlyphs">20</text><text x="842.4" y="156.6" text-anchor="middle" textLength="14.5" lengthAdjust="spacingAndGlyphs">40</text><text x="842.8" y="137.3" text-anchor="middle" textLength="14.5" lengthAdjust="spacingAndGlyphs">60</text><text x="843.1" y="117.4" text-anchor="middle" textLength="14.5" lengthAdjust="spacingAndGlyphs">80</text><text x="845.4" y="97.4" text-anchor="middle" textLength="21.8" lengthAdjust="spacingAndGlyphs">100</text><path d="M979.9 152.5L899.5 219.4L894.6 117.1L978.7 56.1Z" fill="#f9f9f9" stroke="#f4f4f4" stroke-width="0.6"/><path d="M1108.7 189.7L979.9 152.5L978.7 56.1L1113.3 89.9Z" fill="#f2f2f2" stroke="#ededed" stroke-width="0.6"/><path d="M1108.7 189.7L979.9 152.5L899.5 219.4L1036.2 263.7Z" fill="#f5f5f5" stroke="#f0f0f0" stroke-width="0.6"/><path d="M1027 260.8L1100.1 187.2L1104.4 87.7M1104.5 194.1L975.1 156.4L973.8 59.6M996.2 250.8L1071.1 178.9L1074 80M1089.6 209.3L958.6 170.2L956.5 72.2M966.1 241L1042.7 170.7L1044.3 72.6M1074.1 225.1L941.4 184.5L938.5 85.2M936.6 231.4L1014.9 162.6L1015.3 65.3M1058 241.5L923.6 199.4L919.8 98.8M907.8 222.1L987.7 154.8L986.9 58.1M1041.2 258.6L905.1 214.8L900.4 112.8M899.5 219L979.9 152.1L1108.7 189.3M898.7 201.4L979.7 135.5L1109.5 172.2M897.8 183.6L979.5 118.7L1110.3 154.8M896.9 165.5L979.3 101.6L1111.2 137.2M896 147.1L979.1 84.3L1112 119.2M895.1 128.4L978.9 66.7L1112.8 101" fill="none" stroke="#b0b0b0" stroke-width="1.12"/><g stroke="#fff" stroke-opacity="0.22" stroke-width="0.3" stroke-linejoin="round"><path d="M1003.4 157.4L1000 153.2L998 155.6L1001.4 159.1Z" fill="#4c66d6"/><path d="M1006.9 159.8L1003.4 157.4L1001.4 159.1L1004.9 161.7Z" fill="#4358cb"/><path d="M1000 153.2L996.5 145.6L994.5 149.4L998 155.6Z" fill="#6282ea"/><path d="M1010.3 160.8L1006.9 159.8L1004.9 161.7L1008.4 163.5Z" fill="#3e51c5"/><path d="M1001.4 159.1L998 155.6L996 158.4L999.4 161.1Z" fill="#4a63d3"/><path d="M996.5 145.6L993 137.6L991 141.8L994.5 149.4Z" fill="#82a6fb"/><path d="M998 155.6L994.5 149.4L992.5 153.7L996 158.4Z" fill="#5977e3"/><path d="M1004.9 161.7L1001.4 159.1L999.4 161.1L1002.9 163.4Z" fill="#4257c9"/><path d="M1013.8 160.9L1010.3 160.8L1008.4 163.5L1011.8 163.9Z" fill="#3f53c6"/><path d="M994.5 149.4L991 141.8L989 147.2L992.5 153.7Z" fill="#7396f5"/><path d="M1008.4 163.5L1004.9 161.7L1002.9 163.4L1006.4 164.7Z" fill="#3d50c3"/><path d="M996 158.4L992.5 153.7L990.5 158.1L993.9 160.7Z" fill="#516ddb"/><path d="M993 137.6L989.6 129.4L987.5 134.5L991 141.8Z" fill="#a5c3fe"/><path d="M992.5 153.7L989 147.2L987 153.5L990.5 158.1Z" fill="#6384eb"/><path d="M999.4 161.1L996 158.4L993.9 160.7L997.4 162.8Z" fill="#485fd1"/><path d="M1017.3 161.6L1013.8 160.9L1011.8 163.9L1015.3 164.1Z" fill="#4257c9"/><path d="M991 141.8L987.5 134.5L985.5 140.4L989 147.2Z" fill="#93b5fe"/><path d="M1011.8 163.9L1008.4 163.5L1006.4 164.7L1009.8 166.4Z" fill="#3c4ec2"/><path d="M1002.9 163.4L999.4 161.1L997.4 162.8L1000.9 165.3Z" fill="#4257c9"/><path d="M990.5 158.1L987 153.5L985 158.7L988.5 161.3Z" fill="#5470de"/><path d="M989 147.2L985.5 140.4L983.5 145.7L987 153.5Z" fill="#7ea1fa"/><path d="M989.6 129.4L986.1 123.1L984.1 128.2L987.5 134.5Z" fill="#c3d5f4"/><path d="M993.9 160.7L990.5 158.1L988.5 161.3L991.9 162.4Z" fill="#4b64d5"/><path d="M987 153.5L983.5 145.7L981.5 151.3L985 158.7Z" fill="#6b8df0"/><path d="M1020.8 162.9L1017.3 161.6L1015.3 164.1L1018.8 164.7Z" fill="#4358cb"/><path d="M986.1 123.1L982.6 117.9L980.6 124.7L984.1 128.2Z" fill="#d6dce4"/><path d="M1006.4 164.7L1002.9 163.4L1000.9 165.3L1004.3 166.4Z" fill="#3e51c5"/><path d="M987.5 134.5L984.1 128.2L982 133L985.5 140.4Z" fill="#b2ccfb"/><path d="M1015.3 164.1L1011.8 163.9L1009.8 166.4L1013.3 167.2Z" fill="#3d50c3"/><path d="M997.4 162.8L993.9 160.7L991.9 162.4L995.4 164.6Z" fill="#485fd1"/><path d="M984.1 128.2L980.6 124.7L978.5 128.4L982 133Z" fill="#c7d7f0"/><path d="M988.5 161.3L985 158.7L983 161.3L986.4 163.1Z" fill="#4e68d8"/><path d="M985.5 140.4L982 133L980 137.6L983.5 145.7Z" fill="#a1c0ff"/><path d="M985 158.7L981.5 151.3L979.5 156.6L983 161.3Z" fill="#5b7ae5"/><path d="M1009.8 166.4L1006.4 164.7L1004.3 166.4L1007.8 167.6Z" fill="#3d50c3"/><path d="M1024.3 163.3L1020.8 162.9L1018.8 164.7L1022.3 165.4Z" fill="#445acc"/><path d="M1000.9 165.3L997.4 162.8L995.4 164.6L998.9 166Z" fill="#4358cb"/><path d="M983.5 145.7L980 137.6L977.9 141.8L981.5 151.3Z" fill="#90b2fe"/><path d="M991.9 162.4L988.5 161.3L986.4 163.1L989.9 164.8Z" fill="#4961d2"/><path d="M982 133L978.5 128.4L976.5 132.5L980 137.6Z" fill="#bbd1f8"/><path d="M1018.8 164.7L1015.3 164.1L1013.3 167.2L1016.8 167Z" fill="#4055c8"/><path d="M983 161.3L979.5 156.6L977.4 161.6L980.9 164Z" fill="#516ddb"/><path d="M1004.3 166.4L1000.9 165.3L998.9 166L1002.3 167.9Z" fill="#3f53c6"/><path d="M981.5 151.3L977.9 141.8L975.9 147.6L979.5 156.6Z" fill="#7da0f9"/><path d="M1013.3 167.2L1009.8 166.4L1007.8 167.6L1011.3 168.3Z" fill="#3c4ec2"/><path d="M995.4 164.6L991.9 162.4L989.9 164.8L993.3 166.6Z" fill="#465ecf"/><path d="M1027.8 164.9L1024.3 163.3L1022.3 165.4L1025.8 165.8Z" fill="#455cce"/><path d="M986.4 163.1L983 161.3L980.9 164L984.4 165.5Z" fill="#4a63d3"/><path d="M979.5 156.6L975.9 147.6L973.9 154.2L977.4 161.6Z" fill="#688aef"/><path d="M980 137.6L976.5 132.5L974.4 136.2L977.9 141.8Z" fill="#afcafc"/><path d="M1022.3 165.4L1018.8 164.7L1016.8 167L1020.3 166.6Z" fill="#445acc"/><path d="M1007.8 167.6L1004.3 166.4L1002.3 167.9L1005.8 169.1Z" fill="#3e51c5"/><path d="M977.4 161.6L973.9 154.2L971.9 161.5L975.4 164.2Z" fill="#5875e1"/><path d="M998.9 166L995.4 164.6L993.3 166.6L996.8 168.3Z" fill="#4358cb"/><path d="M980.9 164L977.4 161.6L975.4 164.2L978.8 166.4Z" fill="#4b64d5"/><path d="M989.9 164.8L986.4 163.1L984.4 165.5L987.8 166.8Z" fill="#485fd1"/><path d="M1016.8 167L1013.3 167.2L1011.3 168.3L1014.8 168.6Z" fill="#3f53c6"/><path d="M1031.3 165.6L1027.8 164.9L1025.8 165.8L1029.3 167.1Z" fill="#455cce"/><path d="M977.9 141.8L974.4 136.2L972.4 140.7L975.9 147.6Z" fill="#a1c0ff"/><path d="M973.9 154.2L970.4 148.6L968.4 155.9L971.9 161.5Z" fill="#6c8ff1"/><path d="M975.9 147.6L972.4 140.7L970.4 148.6L973.9 154.2Z" fill="#89acfd"/><path d="M984.4 165.5L980.9 164L978.8 166.4L982.3 168Z" fill="#465ecf"/><path d="M1002.3 167.9L998.9 166L996.8 168.3L1000.3 169.6Z" fill="#4055c8"/><path d="M971.9 161.5L968.4 155.9L966.3 160.5L969.8 164.2Z" fill="#5a78e4"/><path d="M993.3 166.6L989.9 164.8L987.8 166.8L991.3 168Z" fill="#455cce"/><path d="M975.4 164.2L971.9 161.5L969.8 164.2L973.3 167.6Z" fill="#4c66d6"/><path d="M1011.3 168.3L1007.8 167.6L1005.8 169.1L1009.3 169.5Z" fill="#3e51c5"/><path d="M1025.8 165.8L1022.3 165.4L1020.3 166.6L1023.8 167.3Z" fill="#465ecf"/><path d="M1034.8 167.4L1031.3 165.6L1029.3 167.1L1032.9 168.4Z" fill="#445acc"/><path d="M978.8 166.4L975.4 164.2L973.3 167.6L976.8 169.3Z" fill="#465ecf"/><path d="M1020.3 166.6L1016.8 167L1014.8 168.6L1018.3 169.2Z" fill="#4358cb"/><path d="M987.8 166.8L984.4 165.5L982.3 168L985.8 168.3Z" fill="#465ecf"/><path d="M1005.8 169.1L1002.3 167.9L1000.3 169.6L1003.8 170.6Z" fill="#3f53c6"/><path d="M996.8 168.3L993.3 166.6L991.3 168L994.8 168.9Z" fill="#445acc"/><path d="M969.8 164.2L966.3 160.5L964.3 165.1L967.7 167Z" fill="#516ddb"/><path d="M1038.3 168.6L1034.8 167.4L1032.9 168.4L1036.4 170.2Z" fill="#4257c9"/><path d="M1014.8 168.6L1011.3 168.3L1009.3 169.5L1012.8 170.2Z" fill="#4055c8"/><path d="M1029.3 167.1L1025.8 165.8L1023.8 167.3L1027.4 168.5Z" fill="#485fd1"/><path d="M982.3 168L978.8 166.4L976.8 169.3L980.2 170.7Z" fill="#4358cb"/><path d="M973.3 167.6L969.8 164.2L967.7 167L971.2 169.7Z" fill="#4961d2"/><path d="M1000.3 169.6L996.8 168.3L994.8 168.9L998.3 170.2Z" fill="#4358cb"/><path d="M1009.3 169.5L1005.8 169.1L1003.8 170.6L1007.3 171.3Z" fill="#3f53c6"/><path d="M991.3 168L987.8 166.8L985.8 168.3L989.2 168.7Z" fill="#465ecf"/><path d="M1023.8 167.3L1020.3 166.6L1018.3 169.2L1021.9 169.6Z" fill="#465ecf"/><path d="M976.8 169.3L973.3 167.6L971.2 169.7L974.7 171.5Z" fill="#4257c9"/><path d="M1041.9 169.2L1038.3 168.6L1036.4 170.2L1039.9 171.1Z" fill="#4257c9"/><path d="M1032.9 168.4L1029.3 167.1L1027.4 168.5L1030.9 169.6Z" fill="#465ecf"/><path d="M1018.3 169.2L1014.8 168.6L1012.8 170.2L1016.3 171.5Z" fill="#4257c9"/><path d="M985.8 168.3L982.3 168L980.2 170.7L983.7 171.3Z" fill="#4358cb"/><path d="M967.7 167L964.3 165.1L962.2 167.1L965.6 169Z" fill="#4c66d6"/><path d="M1003.8 170.6L1000.3 169.6L998.3 170.2L1001.8 171.3Z" fill="#4257c9"/><path d="M980.2 170.7L976.8 169.3L974.7 171.5L978.2 173.1Z" fill="#3f53c6"/><path d="M994.8 168.9L991.3 168L989.2 168.7L992.7 170.1Z" fill="#485fd1"/><path d="M1027.4 168.5L1023.8 167.3L1021.9 169.6L1025.4 170.6Z" fill="#485fd1"/><path d="M1012.8 170.2L1009.3 169.5L1007.3 171.3L1010.8 172.3Z" fill="#4055c8"/><path d="M1036.4 170.2L1032.9 168.4L1030.9 169.6L1034.4 171.3Z" fill="#445acc"/><path d="M971.2 169.7L967.7 167L965.6 169L969.1 171.4Z" fill="#465ecf"/><path d="M1045.4 169.1L1041.9 169.2L1039.9 171.1L1043.5 171.6Z" fill="#445acc"/><path d="M1021.9 169.6L1018.3 169.2L1016.3 171.5L1019.9 172.3Z" fill="#4358cb"/><path d="M989.2 168.7L985.8 168.3L983.7 171.3L987.2 171Z" fill="#465ecf"/><path d="M974.7 171.5L971.2 169.7L969.1 171.4L972.6 173.8Z" fill="#4055c8"/><path d="M1007.3 171.3L1003.8 170.6L1001.8 171.3L1005.3 173Z" fill="#4257c9"/><path d="M983.7 171.3L980.2 170.7L978.2 173.1L981.6 173.7Z" fill="#3f53c6"/><path d="M998.3 170.2L994.8 168.9L992.7 170.1L996.2 171.3Z" fill="#465ecf"/><path d="M1016.3 171.5L1012.8 170.2L1010.8 172.3L1014.3 174.1Z" fill="#4055c8"/><path d="M1039.9 171.1L1036.4 170.2L1034.4 171.3L1038 172.2Z" fill="#4358cb"/><path d="M1030.9 169.6L1027.4 168.5L1025.4 170.6L1028.9 171.5Z" fill="#465ecf"/><path d="M965.6 169L962.2 167.1L960 168.7L963.5 170.9Z" fill="#4b64d5"/><path d="M978.2 173.1L974.7 171.5L972.6 173.8L976.1 175.4Z" fill="#3d50c3"/><path d="M1025.4 170.6L1021.9 169.6L1019.9 172.3L1023.4 173.2Z" fill="#445acc"/><path d="M1049 168L1045.4 169.1L1043.5 171.6L1047.1 171.7Z" fill="#4961d2"/><path d="M1010.8 172.3L1007.3 171.3L1005.3 173L1008.8 174.2Z" fill="#4055c8"/><path d="M992.7 170.1L989.2 168.7L987.2 171L990.7 172Z" fill="#4961d2"/><path d="M969.1 171.4L965.6 169L963.5 170.9L967 173.8Z" fill="#455cce"/><path d="M1001.8 171.3L998.3 170.2L996.2 171.3L999.7 173.2Z" fill="#455cce"/><path d="M1034.4 171.3L1030.9 169.6L1028.9 171.5L1032.5 172.3Z" fill="#465ecf"/><path d="M1019.9 172.3L1016.3 171.5L1014.3 174.1L1017.9 174.1Z" fill="#4055c8"/><path d="M1043.5 171.6L1039.9 171.1L1038 172.2L1041.6 173.5Z" fill="#445acc"/><path d="M987.2 171L983.7 171.3L981.6 173.7L985.1 173.8Z" fill="#4358cb"/><path d="M972.6 173.8L969.1 171.4L967 173.8L970.5 176Z" fill="#3f53c6"/><path d="M981.6 173.7L978.2 173.1L976.1 175.4L979.5 176.4Z" fill="#3c4ec2"/><path d="M1028.9 171.5L1025.4 170.6L1023.4 173.2L1027 173.1Z" fill="#455cce"/><path d="M1005.3 173L1001.8 171.3L999.7 173.2L1003.2 173.8Z" fill="#445acc"/><path d="M1014.3 174.1L1010.8 172.3L1008.8 174.2L1012.3 174.8Z" fill="#4055c8"/><path d="M996.2 171.3L992.7 170.1L990.7 172L994.2 172.9Z" fill="#485fd1"/><path d="M963.5 170.9L960 168.7L957.9 170.7L961.4 172.9Z" fill="#4b64d5"/><path d="M1038 172.2L1034.4 171.3L1032.5 172.3L1036 173.4Z" fill="#465ecf"/><path d="M976.1 175.4L972.6 173.8L970.5 176L974 177.2Z" fill="#3c4ec2"/><path d="M1023.4 173.2L1019.9 172.3L1017.9 174.1L1021.4 174.8Z" fill="#4358cb"/><path d="M1047.1 171.7L1043.5 171.6L1041.6 173.5L1045.1 174Z" fill="#455cce"/><path d="M1052.7 167.2L1049 168L1047.1 171.7L1050.7 171.3Z" fill="#506bda"/><path d="M990.7 172L987.2 171L985.1 173.8L988.6 173.6Z" fill="#465ecf"/><path d="M967 173.8L963.5 170.9L961.4 172.9L964.9 175.6Z" fill="#445acc"/><path d="M985.1 173.8L981.6 173.7L979.5 176.4L983 176.3Z" fill="#3f53c6"/><path d="M1008.8 174.2L1005.3 173L1003.2 173.8L1006.8 175.1Z" fill="#4358cb"/><path d="M999.7 173.2L996.2 171.3L994.2 172.9L997.7 174.2Z" fill="#465ecf"/><path d="M1017.9 174.1L1014.3 174.1L1012.3 174.8L1015.9 175.8Z" fill="#4055c8"/><path d="M1032.5 172.3L1028.9 171.5L1027 173.1L1030.5 174.1Z" fill="#485fd1"/><path d="M979.5 176.4L976.1 175.4L974 177.2L977.5 178.8Z" fill="#3b4cc0"/><path d="M1041.6 173.5L1038 172.2L1036 173.4L1039.6 174.4Z" fill="#465ecf"/><path d="M970.5 176L967 173.8L964.9 175.6L968.4 177.6Z" fill="#3e51c5"/><path d="M1027 173.1L1023.4 173.2L1021.4 174.8L1025 174.6Z" fill="#455cce"/><path d="M1050.7 171.3L1047.1 171.7L1045.1 174L1048.7 175.2Z" fill="#4961d2"/><path d="M1003.2 173.8L999.7 173.2L997.7 174.2L1001.2 176.2Z" fill="#455cce"/><path d="M994.2 172.9L990.7 172L988.6 173.6L992.1 174.4Z" fill="#4961d2"/><path d="M1012.3 174.8L1008.8 174.2L1006.8 175.1L1010.3 176.4Z" fill="#4358cb"/><path d="M961.4 172.9L957.9 170.7L955.7 172.2L959.2 174.4Z" fill="#4b64d5"/><path d="M1056.3 167.5L1052.7 167.2L1050.7 171.3L1054.3 171Z" fill="#5673e0"/><path d="M974 177.2L970.5 176L968.4 177.6L971.8 178.9Z" fill="#3c4ec2"/><path d="M1036 173.4L1032.5 172.3L1030.5 174.1L1034.1 174.4Z" fill="#4961d2"/><path d="M988.6 173.6L985.1 173.8L983 176.3L986.5 176.2Z" fill="#445acc"/><path d="M1021.4 174.8L1017.9 174.1L1015.9 175.8L1019.4 175.9Z" fill="#445acc"/><path d="M1045.1 174L1041.6 173.5L1039.6 174.4L1043.2 175.5Z" fill="#465ecf"/><path d="M983 176.3L979.5 176.4L977.5 178.8L980.9 178.2Z" fill="#3d50c3"/><path d="M964.9 175.6L961.4 172.9L959.2 174.4L962.7 177Z" fill="#455cce"/><path d="M1006.8 175.1L1003.2 173.8L1001.2 176.2L1004.7 177Z" fill="#445acc"/><path d="M997.7 174.2L994.2 172.9L992.1 174.4L995.6 175.7Z" fill="#4961d2"/><path d="M1030.5 174.1L1027 173.1L1025 174.6L1028.5 175Z" fill="#4961d2"/><path d="M1015.9 175.8L1012.3 174.8L1010.3 176.4L1013.8 177.2Z" fill="#4358cb"/><path d="M977.5 178.8L974 177.2L971.8 178.9L975.3 179.6Z" fill="#3b4cc0"/><path d="M968.4 177.6L964.9 175.6L962.7 177L966.2 179.3Z" fill="#3f53c6"/><path d="M1054.3 171L1050.7 171.3L1048.7 175.2L1052.3 174.2Z" fill="#4e68d8"/><path d="M1039.6 174.4L1036 173.4L1034.1 174.4L1037.7 175.4Z" fill="#4961d2"/><path d="M1048.7 175.2L1045.1 174L1043.2 175.5L1046.8 176.8Z" fill="#465ecf"/><path d="M1059.9 167.5L1056.3 167.5L1054.3 171L1057.9 170.3Z" fill="#5d7ce6"/><path d="M992.1 174.4L988.6 173.6L986.5 176.2L990 176.8Z" fill="#485fd1"/><path d="M1025 174.6L1021.4 174.8L1019.4 175.9L1023 176.2Z" fill="#485fd1"/><path d="M1001.2 176.2L997.7 174.2L995.6 175.7L999.1 177.3Z" fill="#465ecf"/><path d="M1010.3 176.4L1006.8 175.1L1004.7 177L1008.3 178.5Z" fill="#4358cb"/><path d="M959.2 174.4L955.7 172.2L953.6 173.9L957.1 176.1Z" fill="#4c66d6"/><path d="M986.5 176.2L983 176.3L980.9 178.2L984.4 178.4Z" fill="#4257c9"/><path d="M971.8 178.9L968.4 177.6L966.2 179.3L969.7 180Z" fill="#3d50c3"/><path d="M1034.1 174.4L1030.5 174.1L1028.5 175L1032.1 175.7Z" fill="#4b64d5"/><path d="M1019.4 175.9L1015.9 175.8L1013.8 177.2L1017.4 177.8Z" fill="#455cce"/><path d="M1043.2 175.5L1039.6 174.4L1037.7 175.4L1041.2 177.2Z" fill="#4961d2"/><path d="M980.9 178.2L977.5 178.8L975.3 179.6L978.8 179.7Z" fill="#3d50c3"/><path d="M962.7 177L959.2 174.4L957.1 176.1L960.6 178.7Z" fill="#465ecf"/><path d="M1052.3 174.2L1048.7 175.2L1046.8 176.8L1050.4 177.4Z" fill="#4961d2"/><path d="M1004.7 177L1001.2 176.2L999.1 177.3L1002.7 179.2Z" fill="#445acc"/><path d="M995.6 175.7L992.1 174.4L990 176.8L993.5 177.8Z" fill="#485fd1"/><path d="M1013.8 177.2L1010.3 176.4L1008.3 178.5L1011.8 180.1Z" fill="#4257c9"/><path d="M1057.9 170.3L1054.3 171L1052.3 174.2L1056 172.5Z" fill="#5875e1"/><path d="M1028.5 175L1025 174.6L1023 176.2L1026.5 175.9Z" fill="#4b64d5"/><path d="M966.2 179.3L962.7 177L960.6 178.7L964.1 180.5Z" fill="#4055c8"/><path d="M975.3 179.6L971.8 178.9L969.7 180L973.2 180.8Z" fill="#3d50c3"/><path d="M1063.6 166.3L1059.9 167.5L1057.9 170.3L1061.6 168.9Z" fill="#6687ed"/><path d="M990 176.8L986.5 176.2L984.4 178.4L987.9 178.9Z" fill="#455cce"/><path d="M1046.8 176.8L1043.2 175.5L1041.2 177.2L1044.8 178.1Z" fill="#485fd1"/><path d="M1037.7 175.4L1034.1 174.4L1032.1 175.7L1035.7 177Z" fill="#4c66d6"/><path d="M1023 176.2L1019.4 175.9L1017.4 177.8L1021 177.9Z" fill="#485fd1"/><path d="M1008.3 178.5L1004.7 177L1002.7 179.2L1006.2 180.5Z" fill="#4257c9"/><path d="M999.1 177.3L995.6 175.7L993.5 177.8L997.1 180Z" fill="#465ecf"/><path d="M984.4 178.4L980.9 178.2L978.8 179.7L982.3 180.5Z" fill="#4257c9"/><path d="M957.1 176.1L953.6 173.9L951.4 175.5L954.9 177.3Z" fill="#4e68d8"/><path d="M1017.4 177.8L1013.8 177.2L1011.8 180.1L1015.4 180Z" fill="#445acc"/><path d="M969.7 180L966.2 179.3L964.1 180.5L967.6 181.6Z" fill="#3e51c5"/><path d="M1056 172.5L1052.3 174.2L1050.4 177.4L1054 177.7Z" fill="#4f69d9"/><path d="M1032.1 175.7L1028.5 175L1026.5 175.9L1030.1 177.2Z" fill="#4e68d8"/><path d="M1041.2 177.2L1037.7 175.4L1035.7 177L1039.3 178.4Z" fill="#4b64d5"/><path d="M1050.4 177.4L1046.8 176.8L1044.8 178.1L1048.4 179.8Z" fill="#485fd1"/><path d="M978.8 179.7L975.3 179.6L973.2 180.8L976.7 181.2Z" fill="#3f53c6"/><path d="M1002.7 179.2L999.1 177.3L997.1 180L1000.6 181.4Z" fill="#4358cb"/><path d="M993.5 177.8L990 176.8L987.9 178.9L991.5 179.9Z" fill="#465ecf"/><path d="M960.6 178.7L957.1 176.1L954.9 177.3L958.4 179.9Z" fill="#485fd1"/><path d="M1011.8 180.1L1008.3 178.5L1006.2 180.5L1009.8 181.7Z" fill="#4055c8"/><path d="M1061.6 168.9L1057.9 170.3L1056 172.5L1059.6 172.9Z" fill="#6180e9"/><path d="M1026.5 175.9L1023 176.2L1021 177.9L1024.5 179Z" fill="#4b64d5"/><path d="M1067.2 165.6L1063.6 166.3L1061.6 168.9L1065.3 168.7Z" fill="#6f92f3"/><path d="M987.9 178.9L984.4 178.4L982.3 180.5L985.8 180.8Z" fill="#445acc"/><path d="M964.1 180.5L960.6 178.7L958.4 179.9L961.9 182Z" fill="#4257c9"/><path d="M973.2 180.8L969.7 180L967.6 181.6L971.1 182.2Z" fill="#3f53c6"/><path d="M1044.8 178.1L1041.2 177.2L1039.3 178.4L1042.9 180.9Z" fill="#485fd1"/><path d="M1021 177.9L1017.4 177.8L1015.4 180L1018.9 181.1Z" fill="#465ecf"/><path d="M1006.2 180.5L1002.7 179.2L1000.6 181.4L1004.2 182.3Z" fill="#4257c9"/><path d="M997.1 180L993.5 177.8L991.5 179.9L995 181.3Z" fill="#455cce"/><path d="M1035.7 177L1032.1 175.7L1030.1 177.2L1033.7 178Z" fill="#4e68d8"/><path d="M1054 177.7L1050.4 177.4L1048.4 179.8L1052 180.5Z" fill="#485fd1"/><path d="M1015.4 180L1011.8 180.1L1009.8 181.7L1013.3 183.2Z" fill="#4055c8"/><path d="M982.3 180.5L978.8 179.7L976.7 181.2L980.2 182.2Z" fill="#4257c9"/><path d="M1059.6 172.9L1056 172.5L1054 177.7L1057.6 178.7Z" fill="#5470de"/><path d="M954.9 177.3L951.4 175.5L949.2 177L952.7 179.5Z" fill="#4e68d8"/><path d="M967.6 181.6L964.1 180.5L961.9 182L965.4 182.3Z" fill="#4055c8"/><path d="M1030.1 177.2L1026.5 175.9L1024.5 179L1028.1 179.8Z" fill="#4e68d8"/><path d="M1048.4 179.8L1044.8 178.1L1042.9 180.9L1046.5 181.2Z" fill="#465ecf"/><path d="M991.5 179.9L987.9 178.9L985.8 180.8L989.4 181.7Z" fill="#455cce"/><path d="M1000.6 181.4L997.1 180L995 181.3L998.5 182.9Z" fill="#4358cb"/><path d="M1065.3 168.7L1061.6 168.9L1059.6 172.9L1063.3 172.4Z" fill="#6788ee"/><path d="M958.4 179.9L954.9 177.3L952.7 179.5L956.2 181.8Z" fill="#4961d2"/><path d="M1009.8 181.7L1006.2 180.5L1004.2 182.3L1007.7 183.8Z" fill="#4055c8"/><path d="M1039.3 178.4L1035.7 177L1033.7 178L1037.3 179.7Z" fill="#4e68d8"/><path d="M976.7 181.2L973.2 180.8L971.1 182.2L974.6 182.7Z" fill="#4257c9"/><path d="M1024.5 179L1021 177.9L1018.9 181.1L1022.5 181.5Z" fill="#485fd1"/><path d="M1057.6 178.7L1054 177.7L1052 180.5L1055.7 181.7Z" fill="#4961d2"/><path d="M1018.9 181.1L1015.4 180L1013.3 183.2L1016.9 184.3Z" fill="#4257c9"/><path d="M985.8 180.8L982.3 180.5L980.2 182.2L983.7 183Z" fill="#4358cb"/><path d="M1063.3 172.4L1059.6 172.9L1057.6 178.7L1061.3 179.1Z" fill="#5875e1"/><path d="M1071 162.5L1067.2 165.6L1065.3 168.7L1069 165.9Z" fill="#7da0f9"/><path d="M961.9 182L958.4 179.9L956.2 181.8L959.7 182.9Z" fill="#445acc"/><path d="M1042.9 180.9L1039.3 178.4L1037.3 179.7L1040.9 181.9Z" fill="#4961d2"/><path d="M1004.2 182.3L1000.6 181.4L998.5 182.9L1002.1 184.4Z" fill="#4055c8"/><path d="M1033.7 178L1030.1 177.2L1028.1 179.8L1031.7 180.8Z" fill="#4e68d8"/><path d="M1052 180.5L1048.4 179.8L1046.5 181.2L1050.1 182.7Z" fill="#465ecf"/><path d="M995 181.3L991.5 179.9L989.4 181.7L992.9 183.2Z" fill="#455cce"/><path d="M971.1 182.2L967.6 181.6L965.4 182.3L968.9 183Z" fill="#4358cb"/><path d="M1013.3 183.2L1009.8 181.7L1007.7 183.8L1011.3 185.3Z" fill="#3f53c6"/><path d="M980.2 182.2L976.7 181.2L974.6 182.7L978.1 183.9Z" fill="#4358cb"/><path d="M1028.1 179.8L1024.5 179L1022.5 181.5L1026.1 182.4Z" fill="#4961d2"/><path d="M952.7 179.5L949.2 177L947 178.5L950.5 180.7Z" fill="#4f69d9"/><path d="M1061.3 179.1L1057.6 178.7L1055.7 181.7L1059.3 182.1Z" fill="#4b64d5"/><path d="M1022.5 181.5L1018.9 181.1L1016.9 184.3L1020.5 184.8Z" fill="#4358cb"/><path d="M1046.5 181.2L1042.9 180.9L1040.9 181.9L1044.5 183.5Z" fill="#465ecf"/><path d="M989.4 181.7L985.8 180.8L983.7 183L987.3 183.7Z" fill="#455cce"/><path d="M998.5 182.9L995 181.3L992.9 183.2L996.5 185.1Z" fill="#4358cb"/><path d="M965.4 182.3L961.9 182L959.7 182.9L963.2 183.5Z" fill="#445acc"/><path d="M1069 165.9L1065.3 168.7L1063.3 172.4L1067 170.3Z" fill="#7396f5"/><path d="M1037.3 179.7L1033.7 178L1031.7 180.8L1035.3 181.7Z" fill="#4e68d8"/><path d="M1007.7 183.8L1004.2 182.3L1002.1 184.4L1005.7 184.4Z" fill="#4257c9"/><path d="M956.2 181.8L952.7 179.5L950.5 180.7L954.1 182.9Z" fill="#4a63d3"/><path d="M1016.9 184.3L1013.3 183.2L1011.3 185.3L1014.9 186.2Z" fill="#3e51c5"/><path d="M1055.7 181.7L1052 180.5L1050.1 182.7L1053.7 183.2Z" fill="#465ecf"/><path d="M974.6 182.7L971.1 182.2L968.9 183L972.4 184.9Z" fill="#4358cb"/><path d="M983.7 183L980.2 182.2L978.1 183.9L981.6 185.2Z" fill="#4358cb"/><path d="M1031.7 180.8L1028.1 179.8L1026.1 182.4L1029.7 182.9Z" fill="#4a63d3"/><path d="M1067 170.3L1063.3 172.4L1061.3 179.1L1065 175.7Z" fill="#6384eb"/><path d="M1050.1 182.7L1046.5 181.2L1044.5 183.5L1048.1 184.6Z" fill="#465ecf"/><path d="M992.9 183.2L989.4 181.7L987.3 183.7L990.8 184.9Z" fill="#455cce"/><path d="M1002.1 184.4L998.5 182.9L996.5 185.1L1000 185.4Z" fill="#4257c9"/><path d="M959.7 182.9L956.2 181.8L954.1 182.9L957.6 184.1Z" fill="#465ecf"/><path d="M1026.1 182.4L1022.5 181.5L1020.5 184.8L1024.1 185.3Z" fill="#455cce"/><path d="M1040.9 181.9L1037.3 179.7L1035.3 181.7L1038.9 182.8Z" fill="#4b64d5"/><path d="M1011.3 185.3L1007.7 183.8L1005.7 184.4L1009.2 186.7Z" fill="#4055c8"/><path d="M968.9 183L965.4 182.3L963.2 183.5L966.8 184.9Z" fill="#455cce"/><path d="M1020.5 184.8L1016.9 184.3L1014.9 186.2L1018.4 187.5Z" fill="#3e51c5"/><path d="M978.1 183.9L974.6 182.7L972.4 184.9L976 185.8Z" fill="#4358cb"/><path d="M1074.7 159.9L1071 162.5L1069 165.9L1072.8 162Z" fill="#92b4fe"/><path d="M1059.3 182.1L1055.7 181.7L1053.7 183.2L1057.4 183.5Z" fill="#4961d2"/><path d="M987.3 183.7L983.7 183L981.6 185.2L985.2 186.6Z" fill="#4358cb"/><path d="M950.5 180.7L947 178.5L944.8 179.4L948.3 181.5Z" fill="#536edd"/><path d="M1065 175.7L1061.3 179.1L1059.3 182.1L1063.1 179Z" fill="#5673e0"/><path d="M1035.3 181.7L1031.7 180.8L1029.7 182.9L1033.3 184Z" fill="#4b64d5"/><path d="M996.5 185.1L992.9 183.2L990.8 184.9L994.4 185.9Z" fill="#445acc"/><path d="M1044.5 183.5L1040.9 181.9L1038.9 182.8L1042.5 184.2Z" fill="#4961d2"/><path d="M1053.7 183.2L1050.1 182.7L1048.1 184.6L1051.8 184.4Z" fill="#485fd1"/><path d="M1014.9 186.2L1011.3 185.3L1009.2 186.7L1012.8 187.5Z" fill="#3f53c6"/><path d="M963.2 183.5L959.7 182.9L957.6 184.1L961.1 184.9Z" fill="#485fd1"/><path d="M1005.7 184.4L1002.1 184.4L1000 185.4L1003.6 185.7Z" fill="#445acc"/><path d="M1029.7 182.9L1026.1 182.4L1024.1 185.3L1027.7 185.7Z" fill="#465ecf"/><path d="M972.4 184.9L968.9 183L966.8 184.9L970.3 185.3Z" fill="#455cce"/><path d="M981.6 185.2L978.1 183.9L976 185.8L979.5 187.7Z" fill="#4257c9"/><path d="M954.1 182.9L950.5 180.7L948.3 181.5L951.8 183.6Z" fill="#4e68d8"/><path d="M1024.1 185.3L1020.5 184.8L1018.4 187.5L1022 187.8Z" fill="#4055c8"/><path d="M1072.8 162L1069 165.9L1067 170.3L1070.8 166.5Z" fill="#89acfd"/><path d="M990.8 184.9L987.3 183.7L985.2 186.6L988.7 187.6Z" fill="#4358cb"/><path d="M1038.9 182.8L1035.3 181.7L1033.3 184L1036.9 185.2Z" fill="#4b64d5"/><path d="M1048.1 184.6L1044.5 183.5L1042.5 184.2L1046.2 185.1Z" fill="#4961d2"/><path d="M1000 185.4L996.5 185.1L994.4 185.9L997.9 187Z" fill="#4358cb"/><path d="M985.2 186.6L981.6 185.2L979.5 187.7L983.1 189.6Z" fill="#3f53c6"/><path d="M1018.4 187.5L1014.9 186.2L1012.8 187.5L1016.4 188.9Z" fill="#3e51c5"/><path d="M957.6 184.1L954.1 182.9L951.8 183.6L955.4 185Z" fill="#4a63d3"/><path d="M966.8 184.9L963.2 183.5L961.1 184.9L964.6 186.2Z" fill="#485fd1"/><path d="M976 185.8L972.4 184.9L970.3 185.3L973.8 187.7Z" fill="#445acc"/><path d="M1009.2 186.7L1005.7 184.4L1003.6 185.7L1007.2 187.7Z" fill="#445acc"/><path d="M1063.1 179L1059.3 182.1L1057.4 183.5L1061.1 181.5Z" fill="#536edd"/><path d="M1057.4 183.5L1053.7 183.2L1051.8 184.4L1055.4 185.6Z" fill="#4a63d3"/><path d="M1070.8 166.5L1067 170.3L1065 175.7L1068.8 171.5Z" fill="#7a9df8"/><path d="M1033.3 184L1029.7 182.9L1027.7 185.7L1031.3 186.2Z" fill="#4961d2"/><path d="M994.4 185.9L990.8 184.9L988.7 187.6L992.3 187.8Z" fill="#445acc"/><path d="M1078.5 157.6L1074.7 159.9L1072.8 162L1076.6 159.4Z" fill="#a6c4fe"/><path d="M1027.7 185.7L1024.1 185.3L1022 187.8L1025.7 187.2Z" fill="#445acc"/><path d="M1042.5 184.2L1038.9 182.8L1036.9 185.2L1040.6 186.2Z" fill="#4b64d5"/><path d="M948.3 181.5L944.8 179.4L942.5 179.6L946.1 181.4Z" fill="#5977e3"/><path d="M979.5 187.7L976 185.8L973.8 187.7L977.4 189.9Z" fill="#4055c8"/><path d="M1051.8 184.4L1048.1 184.6L1046.2 185.1L1049.8 186.4Z" fill="#4a63d3"/><path d="M1012.8 187.5L1009.2 186.7L1007.2 187.7L1010.8 188.6Z" fill="#4257c9"/><path d="M988.7 187.6L985.2 186.6L983.1 189.6L986.6 190Z" fill="#3f53c6"/><path d="M961.1 184.9L957.6 184.1L955.4 185L958.9 186.2Z" fill="#4a63d3"/><path d="M1003.6 185.7L1000 185.4L997.9 187L1001.5 187.1Z" fill="#465ecf"/><path d="M1022 187.8L1018.4 187.5L1016.4 188.9L1020 189.7Z" fill="#3f53c6"/><path d="M970.3 185.3L966.8 184.9L964.6 186.2L968.1 187.1Z" fill="#485fd1"/><path d="M1068.8 171.5L1065 175.7L1063.1 179L1066.9 175.2Z" fill="#6c8ff1"/><path d="M1036.9 185.2L1033.3 184L1031.3 186.2L1034.9 187.3Z" fill="#4961d2"/><path d="M951.8 183.6L948.3 181.5L946.1 181.4L949.6 184.3Z" fill="#5470de"/><path d="M983.1 189.6L979.5 187.7L977.4 189.9L980.9 191.4Z" fill="#3d50c3"/><path d="M1046.2 185.1L1042.5 184.2L1040.6 186.2L1044.2 187.4Z" fill="#4a63d3"/><path d="M1061.1 181.5L1057.4 183.5L1055.4 185.6L1059.1 184.5Z" fill="#516ddb"/><path d="M997.9 187L994.4 185.9L992.3 187.8L995.8 187.9Z" fill="#455cce"/><path d="M1031.3 186.2L1027.7 185.7L1025.7 187.2L1029.3 188.6Z" fill="#485fd1"/><path d="M1016.4 188.9L1012.8 187.5L1010.8 188.6L1014.4 189.9Z" fill="#4257c9"/><path d="M1076.6 159.4L1072.8 162L1070.8 166.5L1074.6 163Z" fill="#9fbfff"/><path d="M1055.4 185.6L1051.8 184.4L1049.8 186.4L1053.5 187.4Z" fill="#4b64d5"/><path d="M964.6 186.2L961.1 184.9L958.9 186.2L962.4 187.2Z" fill="#4a63d3"/><path d="M973.8 187.7L970.3 185.3L968.1 187.1L971.7 188.7Z" fill="#465ecf"/><path d="M1007.2 187.7L1003.6 185.7L1001.5 187.1L1005.1 188.5Z" fill="#465ecf"/><path d="M955.4 185L951.8 183.6L949.6 184.3L953.1 186Z" fill="#4f69d9"/><path d="M992.3 187.8L988.7 187.6L986.6 190L990.2 190.6Z" fill="#4257c9"/><path d="M1040.6 186.2L1036.9 185.2L1034.9 187.3L1038.6 188.5Z" fill="#4961d2"/><path d="M1025.7 187.2L1022 187.8L1020 189.7L1023.6 189.6Z" fill="#4358cb"/><path d="M1066.9 175.2L1063.1 179L1061.1 181.5L1064.9 177.7Z" fill="#6788ee"/><path d="M986.6 190L983.1 189.6L980.9 191.4L984.5 192Z" fill="#3d50c3"/><path d="M977.4 189.9L973.8 187.7L971.7 188.7L975.2 190.8Z" fill="#4257c9"/><path d="M1049.8 186.4L1046.2 185.1L1044.2 187.4L1047.8 188.5Z" fill="#4a63d3"/><path d="M1074.6 163L1070.8 166.5L1068.8 171.5L1072.6 168Z" fill="#92b4fe"/><path d="M1082.3 154.3L1078.5 157.6L1076.6 159.4L1080.4 156.9Z" fill="#b7cff9"/><path d="M1020 189.7L1016.4 188.9L1014.4 189.9L1018 191.7Z" fill="#4055c8"/><path d="M1001.5 187.1L997.9 187L995.8 187.9L999.4 188.9Z" fill="#485fd1"/><path d="M1010.8 188.6L1007.2 187.7L1005.1 188.5L1008.7 190.4Z" fill="#455cce"/><path d="M1034.9 187.3L1031.3 186.2L1029.3 188.6L1032.9 189.5Z" fill="#485fd1"/><path d="M958.9 186.2L955.4 185L953.1 186L956.7 187.4Z" fill="#4e68d8"/><path d="M968.1 187.1L964.6 186.2L962.4 187.2L965.9 188.2Z" fill="#4a63d3"/><path d="M946.1 181.4L942.5 179.6L940.2 179L943.8 181.6Z" fill="#6282ea"/><path d="M1059.1 184.5L1055.4 185.6L1053.5 187.4L1057.1 188.3Z" fill="#4e68d8"/><path d="M1044.2 187.4L1040.6 186.2L1038.6 188.5L1042.2 189.9Z" fill="#4961d2"/><path d="M995.8 187.9L992.3 187.8L990.2 190.6L993.7 190.3Z" fill="#455cce"/><path d="M980.9 191.4L977.4 189.9L975.2 190.8L978.8 192Z" fill="#3f53c6"/><path d="M1029.3 188.6L1025.7 187.2L1023.6 189.6L1027.3 190Z" fill="#465ecf"/><path d="M1053.5 187.4L1049.8 186.4L1047.8 188.5L1051.5 189.9Z" fill="#4a63d3"/><path d="M1072.6 168L1068.8 171.5L1066.9 175.2L1070.6 172.3Z" fill="#85a8fc"/><path d="M990.2 190.6L986.6 190L984.5 192L988.1 192.6Z" fill="#3f53c6"/><path d="M949.6 184.3L946.1 181.4L943.8 181.6L947.3 183.8Z" fill="#5b7ae5"/><path d="M1014.4 189.9L1010.8 188.6L1008.7 190.4L1012.3 191.8Z" fill="#4358cb"/><path d="M1064.9 177.7L1061.1 181.5L1059.1 184.5L1062.9 181.8Z" fill="#6282ea"/><path d="M1005.1 188.5L1001.5 187.1L999.4 188.9L1003 191.3Z" fill="#485fd1"/><path d="M962.4 187.2L958.9 186.2L956.7 187.4L960.2 189.3Z" fill="#4c66d6"/><path d="M971.7 188.7L968.1 187.1L965.9 188.2L969.5 189.8Z" fill="#4961d2"/><path d="M1038.6 188.5L1034.9 187.3L1032.9 189.5L1036.6 190.7Z" fill="#485fd1"/><path d="M1023.6 189.6L1020 189.7L1018 191.7L1021.6 192Z" fill="#4257c9"/><path d="M953.1 186L949.6 184.3L947.3 183.8L950.9 187.5Z" fill="#5572df"/><path d="M1047.8 188.5L1044.2 187.4L1042.2 189.9L1045.8 191.2Z" fill="#485fd1"/><path d="M1080.4 156.9L1076.6 159.4L1074.6 163L1078.5 159.8Z" fill="#b3cdfb"/><path d="M984.5 192L980.9 191.4L978.8 192L982.4 193.2Z" fill="#3f53c6"/><path d="M999.4 188.9L995.8 187.9L993.7 190.3L997.3 191.8Z" fill="#485fd1"/><path d="M1032.9 189.5L1029.3 188.6L1027.3 190L1030.9 191.4Z" fill="#485fd1"/><path d="M1057.1 188.3L1053.5 187.4L1051.5 189.9L1055.2 190.6Z" fill="#4a63d3"/><path d="M1008.7 190.4L1005.1 188.5L1003 191.3L1006.6 192.2Z" fill="#455cce"/><path d="M1018 191.7L1014.4 189.9L1012.3 191.8L1015.9 193.2Z" fill="#4257c9"/><path d="M975.2 190.8L971.7 188.7L969.5 189.8L973.1 191.6Z" fill="#465ecf"/><path d="M956.7 187.4L953.1 186L950.9 187.5L954.5 189.9Z" fill="#4f69d9"/><path d="M1070.6 172.3L1066.9 175.2L1064.9 177.7L1068.7 176.2Z" fill="#7b9ff9"/><path d="M965.9 188.2L962.4 187.2L960.2 189.3L963.8 190Z" fill="#4c66d6"/><path d="M1042.2 189.9L1038.6 188.5L1036.6 190.7L1040.2 192.1Z" fill="#465ecf"/><path d="M1062.9 181.8L1059.1 184.5L1057.1 188.3L1060.9 186.7Z" fill="#5875e1"/><path d="M993.7 190.3L990.2 190.6L988.1 192.6L991.6 192.7Z" fill="#4358cb"/><path d="M1051.5 189.9L1047.8 188.5L1045.8 191.2L1049.5 192.6Z" fill="#465ecf"/><path d="M1027.3 190L1023.6 189.6L1021.6 192L1025.2 192.7Z" fill="#455cce"/><path d="M1078.5 159.8L1074.6 163L1072.6 168L1076.5 164.5Z" fill="#a9c6fd"/><path d="M1086.2 149.7L1082.3 154.3L1080.4 156.9L1084.3 152.1Z" fill="#cdd9ec"/><path d="M943.8 181.6L940.2 179L938 179.6L941.5 181.5Z" fill="#6b8df0"/><path d="M1003 191.3L999.4 188.9L997.3 191.8L1000.9 192.5Z" fill="#465ecf"/><path d="M1012.3 191.8L1008.7 190.4L1006.6 192.2L1010.2 194Z" fill="#4358cb"/><path d="M978.8 192L975.2 190.8L973.1 191.6L976.6 192.8Z" fill="#445acc"/><path d="M988.1 192.6L984.5 192L982.4 193.2L985.9 193.8Z" fill="#4055c8"/><path d="M960.2 189.3L956.7 187.4L954.5 189.9L958 191Z" fill="#4c66d6"/><path d="M1036.6 190.7L1032.9 189.5L1030.9 191.4L1034.5 192.6Z" fill="#465ecf"/><path d="M1021.6 192L1018 191.7L1015.9 193.2L1019.5 193.2Z" fill="#4358cb"/><path d="M1045.8 191.2L1042.2 189.9L1040.2 192.1L1043.8 193.6Z" fill="#455cce"/><path d="M969.5 189.8L965.9 188.2L963.8 190L967.3 191.4Z" fill="#4b64d5"/><path d="M1068.7 176.2L1064.9 177.7L1062.9 181.8L1066.7 180.4Z" fill="#7295f4"/><path d="M1060.9 186.7L1057.1 188.3L1055.2 190.6L1058.9 191.3Z" fill="#4e68d8"/><path d="M947.3 183.8L943.8 181.6L941.5 181.5L945.1 184.1Z" fill="#6485ec"/><path d="M1076.5 164.5L1072.6 168L1070.6 172.3L1074.5 168.9Z" fill="#9bbcff"/><path d="M997.3 191.8L993.7 190.3L991.6 192.7L995.2 193.4Z" fill="#455cce"/><path d="M1055.2 190.6L1051.5 189.9L1049.5 192.6L1053.2 193Z" fill="#485fd1"/><path d="M1030.9 191.4L1027.3 190L1025.2 192.7L1028.9 193.3Z" fill="#465ecf"/><path d="M1006.6 192.2L1003 191.3L1000.9 192.5L1004.5 194.2Z" fill="#445acc"/><path d="M950.9 187.5L947.3 183.8L945.1 184.1L948.7 188Z" fill="#5b7ae5"/><path d="M1015.9 193.2L1012.3 191.8L1010.2 194L1013.9 194.9Z" fill="#4257c9"/><path d="M982.4 193.2L978.8 192L976.6 192.8L980.2 194.5Z" fill="#4358cb"/><path d="M963.8 190L960.2 189.3L958 191L961.6 192.7Z" fill="#4b64d5"/><path d="M1040.2 192.1L1036.6 190.7L1034.5 192.6L1038.2 194Z" fill="#455cce"/><path d="M954.5 189.9L950.9 187.5L948.7 188L952.3 191.8Z" fill="#506bda"/><path d="M973.1 191.6L969.5 189.8L967.3 191.4L970.9 192.7Z" fill="#4a63d3"/><path d="M1084.3 152.1L1080.4 156.9L1078.5 159.8L1082.3 156.1Z" fill="#c9d7f0"/><path d="M991.6 192.7L988.1 192.6L985.9 193.8L989.5 194.2Z" fill="#4358cb"/><path d="M1049.5 192.6L1045.8 191.2L1043.8 193.6L1047.5 193.8Z" fill="#455cce"/><path d="M1066.7 180.4L1062.9 181.8L1060.9 186.7L1064.6 185Z" fill="#6687ed"/><path d="M1074.5 168.9L1070.6 172.3L1068.7 176.2L1072.4 174.4Z" fill="#8db0fe"/><path d="M1025.2 192.7L1021.6 192L1019.5 193.2L1023.2 193.6Z" fill="#455cce"/><path d="M1010.2 194L1006.6 192.2L1004.5 194.2L1008.2 196.4Z" fill="#4257c9"/><path d="M1000.9 192.5L997.3 191.8L995.2 193.4L998.8 194.5Z" fill="#465ecf"/><path d="M958 191L954.5 189.9L952.3 191.8L955.8 192.8Z" fill="#4b64d5"/><path d="M1058.9 191.3L1055.2 190.6L1053.2 193L1056.9 194Z" fill="#4961d2"/><path d="M1034.5 192.6L1030.9 191.4L1028.9 193.3L1032.5 193.8Z" fill="#485fd1"/><path d="M985.9 193.8L982.4 193.2L980.2 194.5L983.8 195.5Z" fill="#4358cb"/><path d="M1043.8 193.6L1040.2 192.1L1038.2 194L1041.9 194.9Z" fill="#455cce"/><path d="M967.3 191.4L963.8 190L961.6 192.7L965.1 193.4Z" fill="#4b64d5"/><path d="M976.6 192.8L973.1 191.6L970.9 192.7L974.5 194.6Z" fill="#485fd1"/><path d="M1019.5 193.2L1015.9 193.2L1013.9 194.9L1017.5 195.6Z" fill="#4358cb"/><path d="M1082.3 156.1L1078.5 159.8L1076.5 164.5L1080.3 161.9Z" fill="#bed2f6"/><path d="M1064.6 185L1060.9 186.7L1058.9 191.3L1062.6 189.5Z" fill="#5875e1"/><path d="M941.5 181.5L938 179.6L935.6 179.4L939.2 181.7Z" fill="#7396f5"/><path d="M1072.4 174.4L1068.7 176.2L1066.7 180.4L1070.4 179.1Z" fill="#80a3fa"/><path d="M1053.2 193L1049.5 192.6L1047.5 193.8L1051.2 194.8Z" fill="#465ecf"/><path d="M995.2 193.4L991.6 192.7L989.5 194.2L993.1 195.9Z" fill="#455cce"/><path d="M1028.9 193.3L1025.2 192.7L1023.2 193.6L1026.8 195.2Z" fill="#465ecf"/><path d="M1013.9 194.9L1010.2 194L1008.2 196.4L1011.8 196.8Z" fill="#4055c8"/><path d="M1004.5 194.2L1000.9 192.5L998.8 194.5L1002.4 196.2Z" fill="#455cce"/><path d="M961.6 192.7L958 191L955.8 192.8L959.4 195.1Z" fill="#4a63d3"/><path d="M945.1 184.1L941.5 181.5L939.2 181.7L942.8 185.7Z" fill="#6b8df0"/><path d="M980.2 194.5L976.6 192.8L974.5 194.6L978.1 196.7Z" fill="#445acc"/><path d="M1080.3 161.9L1076.5 164.5L1074.5 168.9L1078.3 166.4Z" fill="#afcafc"/><path d="M948.7 188L945.1 184.1L942.8 185.7L946.4 189.3Z" fill="#5f7fe8"/><path d="M1038.2 194L1034.5 192.6L1032.5 193.8L1036.2 194.4Z" fill="#485fd1"/><path d="M970.9 192.7L967.3 191.4L965.1 193.4L968.7 194.8Z" fill="#4a63d3"/><path d="M989.5 194.2L985.9 193.8L983.8 195.5L987.4 196.8Z" fill="#445acc"/><path d="M1047.5 193.8L1043.8 193.6L1041.9 194.9L1045.5 195.8Z" fill="#465ecf"/><path d="M952.3 191.8L948.7 188L946.4 189.3L950 192.9Z" fill="#536edd"/><path d="M1090.3 141.2L1086.2 149.7L1084.3 152.1L1088.3 146.5Z" fill="#e7d7ce" stroke="#e7d7ce" stroke-width="0.45" stroke-opacity="1"/><path d="M1062.6 189.5L1058.9 191.3L1056.9 194L1060.6 194.1Z" fill="#4e68d8"/><path d="M1070.4 179.1L1066.7 180.4L1064.6 185L1068.4 183Z" fill="#7295f4"/><path d="M1023.2 193.6L1019.5 193.2L1017.5 195.6L1021.1 196Z" fill="#465ecf"/><path d="M1008.2 196.4L1004.5 194.2L1002.4 196.2L1006.1 198.2Z" fill="#4257c9"/><path d="M998.8 194.5L995.2 193.4L993.1 195.9L996.7 196.8Z" fill="#455cce"/><path d="M1056.9 194L1053.2 193L1051.2 194.8L1054.9 196Z" fill="#485fd1"/><path d="M955.8 192.8L952.3 191.8L950 192.9L953.6 195.5Z" fill="#4b64d5"/><path d="M965.1 193.4L961.6 192.7L959.4 195.1L963 196Z" fill="#4961d2"/><path d="M983.8 195.5L980.2 194.5L978.1 196.7L981.7 198.2Z" fill="#4358cb"/><path d="M1032.5 193.8L1028.9 193.3L1026.8 195.2L1030.5 196.1Z" fill="#485fd1"/><path d="M1078.3 166.4L1074.5 168.9L1072.4 174.4L1076.3 171.3Z" fill="#9fbfff"/><path d="M1017.5 195.6L1013.9 194.9L1011.8 196.8L1015.4 197.8Z" fill="#4358cb"/><path d="M974.5 194.6L970.9 192.7L968.7 194.8L972.3 196.6Z" fill="#485fd1"/><path d="M1041.9 194.9L1038.2 194L1036.2 194.4L1039.9 196.2Z" fill="#485fd1"/><path d="M993.1 195.9L989.5 194.2L987.4 196.8L991 197.9Z" fill="#445acc"/><path d="M1088.3 146.5L1084.3 152.1L1082.3 156.1L1086.3 151.8Z" fill="#dedcdb" stroke="#dedcdb" stroke-width="0.45" stroke-opacity="1"/><path d="M1068.4 183L1064.6 185L1062.6 189.5L1066.4 187.3Z" fill="#6687ed"/><path d="M1051.2 194.8L1047.5 193.8L1045.5 195.8L1049.2 196.5Z" fill="#485fd1"/><path d="M959.4 195.1L955.8 192.8L953.6 195.5L957.2 196.6Z" fill="#4961d2"/><path d="M1011.8 196.8L1008.2 196.4L1006.1 198.2L1009.7 198.7Z" fill="#4055c8"/><path d="M1002.4 196.2L998.8 194.5L996.7 196.8L1000.3 198Z" fill="#445acc"/><path d="M1026.8 195.2L1023.2 193.6L1021.1 196L1024.8 197.1Z" fill="#485fd1"/><path d="M1076.3 171.3L1072.4 174.4L1070.4 179.1L1074.3 176.1Z" fill="#90b2fe"/><path d="M939.2 181.7L935.6 179.4L933.3 179.9L936.9 183Z" fill="#7b9ff9"/><path d="M978.1 196.7L974.5 194.6L972.3 196.6L975.9 198.8Z" fill="#445acc"/><path d="M1060.6 194.1L1056.9 194L1054.9 196L1058.6 196.9Z" fill="#4961d2"/><path d="M968.7 194.8L965.1 193.4L963 196L966.5 197.1Z" fill="#4961d2"/><path d="M987.4 196.8L983.8 195.5L981.7 198.2L985.3 199.3Z" fill="#4257c9"/><path d="M1086.3 151.8L1082.3 156.1L1080.3 161.9L1084.3 156.5Z" fill="#d3dbe7"/><path d="M942.8 185.7L939.2 181.7L936.9 183L940.5 186.4Z" fill="#7093f3"/><path d="M1036.2 194.4L1032.5 193.8L1030.5 196.1L1034.2 196.6Z" fill="#4a63d3"/><path d="M1045.5 195.8L1041.9 194.9L1039.9 196.2L1043.5 197.5Z" fill="#485fd1"/><path d="M1021.1 196L1017.5 195.6L1015.4 197.8L1019.1 198.1Z" fill="#455cce"/><path d="M996.7 196.8L993.1 195.9L991 197.9L994.6 199.7Z" fill="#4358cb"/><path d="M946.4 189.3L942.8 185.7L940.5 186.4L944.2 189.8Z" fill="#6485ec"/><path d="M1066.4 187.3L1062.6 189.5L1060.6 194.1L1064.4 191.6Z" fill="#5a78e4"/><path d="M950 192.9L946.4 189.3L944.2 189.8L947.8 192.7Z" fill="#5977e3"/><path d="M1054.9 196L1051.2 194.8L1049.2 196.5L1052.9 197.6Z" fill="#485fd1"/><path d="M1074.3 176.1L1070.4 179.1L1068.4 183L1072.2 181.2Z" fill="#82a6fb"/><path d="M1006.1 198.2L1002.4 196.2L1000.3 198L1004 198.9Z" fill="#4358cb"/><path d="M963 196L959.4 195.1L957.2 196.6L960.8 197.8Z" fill="#485fd1"/><path d="M981.7 198.2L978.1 196.7L975.9 198.8L979.5 200.6Z" fill="#4055c8"/><path d="M1030.5 196.1L1026.8 195.2L1024.8 197.1L1028.4 198.2Z" fill="#485fd1"/><path d="M1084.3 156.5L1080.3 161.9L1078.3 166.4L1082.2 163Z" fill="#c4d5f3"/><path d="M1015.4 197.8L1011.8 196.8L1009.7 198.7L1013.3 199.6Z" fill="#4358cb"/><path d="M972.3 196.6L968.7 194.8L966.5 197.1L970.1 198.7Z" fill="#485fd1"/><path d="M953.6 195.5L950 192.9L947.8 192.7L951.4 196.4Z" fill="#4f69d9"/><path d="M991 197.9L987.4 196.8L985.3 199.3L988.9 200.4Z" fill="#4257c9"/><path d="M1039.9 196.2L1036.2 194.4L1034.2 196.6L1037.8 198.2Z" fill="#4a63d3"/><path d="M1049.2 196.5L1045.5 195.8L1043.5 197.5L1047.2 198.9Z" fill="#485fd1"/><path d="M1000.3 198L996.7 196.8L994.6 199.7L998.2 199.8Z" fill="#4358cb"/><path d="M1082.2 163L1078.3 166.4L1076.3 171.3L1080.1 168.2Z" fill="#b3cdfb"/><path d="M1024.8 197.1L1021.1 196L1019.1 198.1L1022.7 199.3Z" fill="#465ecf"/><path d="M957.2 196.6L953.6 195.5L951.4 196.4L955 198.8Z" fill="#4961d2"/><path d="M1009.7 198.7L1006.1 198.2L1004 198.9L1007.6 201.1Z" fill="#4257c9"/><path d="M1072.2 181.2L1068.4 183L1066.4 187.3L1070.2 185.4Z" fill="#7699f6"/><path d="M1064.4 191.6L1060.6 194.1L1058.6 196.9L1062.4 195.2Z" fill="#516ddb"/><path d="M985.3 199.3L981.7 198.2L979.5 200.6L983.1 201.6Z" fill="#3f53c6"/><path d="M975.9 198.8L972.3 196.6L970.1 198.7L973.7 200.7Z" fill="#445acc"/><path d="M1058.6 196.9L1054.9 196L1052.9 197.6L1056.6 198.6Z" fill="#485fd1"/><path d="M966.5 197.1L963 196L960.8 197.8L964.3 198.6Z" fill="#485fd1"/><path d="M1034.2 196.6L1030.5 196.1L1028.4 198.2L1032.1 198.8Z" fill="#4961d2"/><path d="M994.6 199.7L991 197.9L988.9 200.4L992.5 201.6Z" fill="#4055c8"/><path d="M936.9 183L933.3 179.9L931 180.2L934.6 184Z" fill="#81a4fb"/><path d="M1019.1 198.1L1015.4 197.8L1013.3 199.6L1017 200.5Z" fill="#445acc"/><path d="M1043.5 197.5L1039.9 196.2L1037.8 198.2L1041.5 200.2Z" fill="#485fd1"/><path d="M1080.1 168.2L1076.3 171.3L1074.3 176.1L1078.1 174Z" fill="#a3c2fe"/><path d="M940.5 186.4L936.9 183L934.6 184L938.2 186.9Z" fill="#7597f6"/><path d="M960.8 197.8L957.2 196.6L955 198.8L958.5 199.9Z" fill="#485fd1"/><path d="M1052.9 197.6L1049.2 196.5L1047.2 198.9L1050.9 199.1Z" fill="#4961d2"/><path d="M979.5 200.6L975.9 198.8L973.7 200.7L977.3 201.8Z" fill="#4055c8"/><path d="M1004 198.9L1000.3 198L998.2 199.8L1001.9 201.3Z" fill="#445acc"/><path d="M1028.4 198.2L1024.8 197.1L1022.7 199.3L1026.4 199.9Z" fill="#465ecf"/><path d="M1070.2 185.4L1066.4 187.3L1064.4 191.6L1068.2 189.5Z" fill="#6a8bef"/><path d="M944.2 189.8L940.5 186.4L938.2 186.9L941.9 190Z" fill="#6b8df0"/><path d="M1013.3 199.6L1009.7 198.7L1007.6 201.1L1011.3 201.6Z" fill="#4257c9"/><path d="M970.1 198.7L966.5 197.1L964.3 198.6L967.9 200.6Z" fill="#465ecf"/><path d="M988.9 200.4L985.3 199.3L983.1 201.6L986.7 202Z" fill="#4055c8"/><path d="M1078.1 174L1074.3 176.1L1072.2 181.2L1076.1 179Z" fill="#93b5fe"/><path d="M1037.8 198.2L1034.2 196.6L1032.1 198.8L1035.8 200.2Z" fill="#4961d2"/><path d="M947.8 192.7L944.2 189.8L941.9 190L945.5 192.9Z" fill="#6180e9"/><path d="M1047.2 198.9L1043.5 197.5L1041.5 200.2L1045.2 200.9Z" fill="#465ecf"/><path d="M998.2 199.8L994.6 199.7L992.5 201.6L996.1 202.2Z" fill="#4257c9"/><path d="M1062.4 195.2L1058.6 196.9L1056.6 198.6L1060.4 197.5Z" fill="#4e68d8"/><path d="M1022.7 199.3L1019.1 198.1L1017 200.5L1020.7 200.8Z" fill="#465ecf"/><path d="M1090.3 145.1L1086.3 151.8L1084.3 156.5L1088.2 152.2Z" fill="#e9d5cb" stroke="#e9d5cb" stroke-width="0.45" stroke-opacity="1"/><path d="M951.4 196.4L947.8 192.7L945.5 192.9L949.1 196Z" fill="#5875e1"/><path d="M1007.6 201.1L1004 198.9L1001.9 201.3L1005.5 202.3Z" fill="#4358cb"/><path d="M983.1 201.6L979.5 200.6L977.3 201.8L980.9 202.8Z" fill="#4055c8"/><path d="M973.7 200.7L970.1 198.7L967.9 200.6L971.5 201.9Z" fill="#445acc"/><path d="M964.3 198.6L960.8 197.8L958.5 199.9L962.1 200.7Z" fill="#485fd1"/><path d="M1092.7 129.8L1088.3 146.5L1086.3 151.8L1090.3 145.1Z" fill="#f5c0a7" stroke="#f5c0a7" stroke-width="0.45" stroke-opacity="1"/><path d="M1088.2 152.2L1084.3 156.5L1082.2 163L1086.1 158.9Z" fill="#d9dce1"/><path d="M955 198.8L951.4 196.4L949.1 196L952.7 200.3Z" fill="#4c66d6"/><path d="M1056.6 198.6L1052.9 197.6L1050.9 199.1L1054.7 199.6Z" fill="#4a63d3"/><path d="M1076.1 179L1072.2 181.2L1070.2 185.4L1074 183.6Z" fill="#85a8fc"/><path d="M1032.1 198.8L1028.4 198.2L1026.4 199.9L1030.1 201Z" fill="#485fd1"/><path d="M1068.2 189.5L1064.4 191.6L1062.4 195.2L1066.2 193.5Z" fill="#5f7fe8"/><path d="M1041.5 200.2L1037.8 198.2L1035.8 200.2L1039.5 202.2Z" fill="#465ecf"/><path d="M992.5 201.6L988.9 200.4L986.7 202L990.3 203.1Z" fill="#4055c8"/><path d="M1017 200.5L1013.3 199.6L1011.3 201.6L1014.9 201.3Z" fill="#445acc"/><path d="M1086.1 158.9L1082.2 163L1080.1 168.2L1084 165.1Z" fill="#c9d7f0"/><path d="M1094.9 121.7L1090.3 141.2L1088.3 146.5L1092.7 129.8Z" fill="#f5a081" stroke="#f5a081" stroke-width="0.45" stroke-opacity="1"/><path d="M1050.9 199.1L1047.2 198.9L1045.2 200.9L1048.9 201.3Z" fill="#485fd1"/><path d="M958.5 199.9L955 198.8L952.7 200.3L956.3 201.7Z" fill="#485fd1"/><path d="M1001.9 201.3L998.2 199.8L996.1 202.2L999.7 203.1Z" fill="#4358cb"/><path d="M1026.4 199.9L1022.7 199.3L1020.7 200.8L1024.3 201.9Z" fill="#485fd1"/><path d="M1084 165.1L1080.1 168.2L1078.1 174L1082 171.6Z" fill="#b6cefa"/><path d="M977.3 201.8L973.7 200.7L971.5 201.9L975.1 203.4Z" fill="#4358cb"/><path d="M934.6 184L931 180.2L928.6 179.7L932.3 183.4Z" fill="#89acfd"/><path d="M1011.3 201.6L1007.6 201.1L1005.5 202.3L1009.2 202.7Z" fill="#4358cb"/><path d="M967.9 200.6L964.3 198.6L962.1 200.7L965.7 201.6Z" fill="#485fd1"/><path d="M986.7 202L983.1 201.6L980.9 202.8L984.6 204Z" fill="#4055c8"/><path d="M1074 183.6L1070.2 185.4L1068.2 189.5L1072 187.2Z" fill="#7a9df8"/><path d="M938.2 186.9L934.6 184L932.3 183.4L935.9 186.4Z" fill="#7ea1fa"/><path d="M1045.2 200.9L1041.5 200.2L1039.5 202.2L1043.2 203.4Z" fill="#445acc"/><path d="M1035.8 200.2L1032.1 198.8L1030.1 201L1033.8 202Z" fill="#485fd1"/><path d="M996.1 202.2L992.5 201.6L990.3 203.1L994 203.7Z" fill="#4257c9"/><path d="M1082 171.6L1078.1 174L1076.1 179L1079.9 176.6Z" fill="#a3c2fe"/><path d="M1066.2 193.5L1062.4 195.2L1060.4 197.5L1064.2 196.7Z" fill="#5977e3"/><path d="M1060.4 197.5L1056.6 198.6L1054.7 199.6L1058.4 199Z" fill="#4f69d9"/><path d="M941.9 190L938.2 186.9L935.9 186.4L939.5 189.6Z" fill="#7597f6"/><path d="M1020.7 200.8L1017 200.5L1014.9 201.3L1018.6 201.9Z" fill="#485fd1"/><path d="M962.1 200.7L958.5 199.9L956.3 201.7L959.9 203.3Z" fill="#485fd1"/><path d="M1005.5 202.3L1001.9 201.3L999.7 203.1L1003.4 203.3Z" fill="#445acc"/><path d="M980.9 202.8L977.3 201.8L975.1 203.4L978.8 204.9Z" fill="#4257c9"/><path d="M945.5 192.9L941.9 190L939.5 189.6L943.1 192.7Z" fill="#6b8df0"/><path d="M971.5 201.9L967.9 200.6L965.7 201.6L969.3 203.2Z" fill="#465ecf"/><path d="M1054.7 199.6L1050.9 199.1L1048.9 201.3L1052.7 201.7Z" fill="#4b64d5"/><path d="M1030.1 201L1026.4 199.9L1024.3 201.9L1028 201.8Z" fill="#4961d2"/><path d="M1039.5 202.2L1035.8 200.2L1033.8 202L1037.5 204.1Z" fill="#465ecf"/><path d="M990.3 203.1L986.7 202L984.6 204L988.2 205.2Z" fill="#4257c9"/><path d="M1079.9 176.6L1076.1 179L1074 183.6L1077.9 181.2Z" fill="#96b7ff"/><path d="M1072 187.2L1068.2 189.5L1066.2 193.5L1070 191.2Z" fill="#6f92f3"/><path d="M949.1 196L945.5 192.9L943.1 192.7L946.8 196.2Z" fill="#6180e9"/><path d="M1014.9 201.3L1011.3 201.6L1009.2 202.7L1012.8 203.1Z" fill="#465ecf"/><path d="M952.7 200.3L949.1 196L946.8 196.2L950.4 200.3Z" fill="#5470de"/><path d="M1048.9 201.3L1045.2 200.9L1043.2 203.4L1046.9 202.9Z" fill="#485fd1"/><path d="M999.7 203.1L996.1 202.2L994 203.7L997.6 205.2Z" fill="#4358cb"/><path d="M1092.1 148.8L1088.2 152.2L1086.1 158.9L1090 155.8Z" fill="#ead4c8" stroke="#ead4c8" stroke-width="0.45" stroke-opacity="1"/><path d="M1094.3 140.2L1090.3 145.1L1088.2 152.2L1092.1 148.8Z" fill="#f5c2aa" stroke="#f5c2aa" stroke-width="0.45" stroke-opacity="1"/><path d="M1024.3 201.9L1020.7 200.8L1018.6 201.9L1022.3 203.3Z" fill="#4961d2"/><path d="M956.3 201.7L952.7 200.3L950.4 200.3L954.1 203Z" fill="#4b64d5"/><path d="M965.7 201.6L962.1 200.7L959.9 203.3L963.5 203.9Z" fill="#485fd1"/><path d="M1090 155.8L1086.1 158.9L1084 165.1L1087.9 163.1Z" fill="#d9dce1"/><path d="M984.6 204L980.9 202.8L978.8 204.9L982.4 206Z" fill="#4257c9"/><path d="M975.1 203.4L971.5 201.9L969.3 203.2L972.9 204.6Z" fill="#455cce"/><path d="M1043.2 203.4L1039.5 202.2L1037.5 204.1L1041.2 204.5Z" fill="#455cce"/><path d="M1087.9 163.1L1084 165.1L1082 171.6L1085.8 170Z" fill="#c5d6f2"/><path d="M1009.2 202.7L1005.5 202.3L1003.4 203.3L1007.1 203.8Z" fill="#465ecf"/><path d="M1033.8 202L1030.1 201L1028 201.8L1031.7 204Z" fill="#4961d2"/><path d="M1064.2 196.7L1060.4 197.5L1058.4 199L1062.2 198.9Z" fill="#5875e1"/><path d="M1077.9 181.2L1074 183.6L1072 187.2L1075.9 186.1Z" fill="#88abfd"/><path d="M994 203.7L990.3 203.1L988.2 205.2L991.8 205.9Z" fill="#4358cb"/><path d="M1058.4 199L1054.7 199.6L1052.7 201.7L1056.4 201Z" fill="#506bda"/><path d="M1085.8 170L1082 171.6L1079.9 176.6L1083.8 175.4Z" fill="#b2ccfb"/><path d="M1070 191.2L1066.2 193.5L1064.2 196.7L1068 194.3Z" fill="#6788ee"/><path d="M959.9 203.3L956.3 201.7L954.1 203L957.7 204.8Z" fill="#485fd1"/><path d="M1018.6 201.9L1014.9 201.3L1012.8 203.1L1016.5 203.7Z" fill="#4a63d3"/><path d="M1003.4 203.3L999.7 203.1L997.6 205.2L1001.3 205Z" fill="#455cce"/><path d="M978.8 204.9L975.1 203.4L972.9 204.6L976.6 206.6Z" fill="#4358cb"/><path d="M932.3 183.4L928.6 179.7L926.2 177.7L929.8 180.8Z" fill="#9abbff"/><path d="M1028 201.8L1024.3 201.9L1022.3 203.3L1026 205.1Z" fill="#4961d2"/><path d="M1052.7 201.7L1048.9 201.3L1046.9 202.9L1050.7 202.9Z" fill="#4c66d6"/><path d="M969.3 203.2L965.7 201.6L963.5 203.9L967.1 204.8Z" fill="#4961d2"/><path d="M935.9 186.4L932.3 183.4L929.8 180.8L933.6 186.6Z" fill="#8caffe"/><path d="M1037.5 204.1L1033.8 202L1031.7 204L1035.4 205.4Z" fill="#465ecf"/><path d="M988.2 205.2L984.6 204L982.4 206L986 206.5Z" fill="#4257c9"/><path d="M939.5 189.6L935.9 186.4L933.6 186.6L937.2 189.7Z" fill="#7ea1fa"/><path d="M1046.9 202.9L1043.2 203.4L1041.2 204.5L1044.9 205.6Z" fill="#485fd1"/><path d="M1083.8 175.4L1079.9 176.6L1077.9 181.2L1081.7 179.8Z" fill="#a3c2fe"/><path d="M1075.9 186.1L1072 187.2L1070 191.2L1073.8 190Z" fill="#7da0f9"/><path d="M1012.8 203.1L1009.2 202.7L1007.1 203.8L1010.7 204.5Z" fill="#4961d2"/><path d="M943.1 192.7L939.5 189.6L937.2 189.7L940.8 193.1Z" fill="#7597f6"/><path d="M997.6 205.2L994 203.7L991.8 205.9L995.5 206.4Z" fill="#445acc"/><path d="M950.4 200.3L946.8 196.2L944.5 198.6L948.2 202.7Z" fill="#5875e1"/><path d="M946.8 196.2L943.1 192.7L940.8 193.1L944.5 198.6Z" fill="#6687ed"/><path d="M963.5 203.9L959.9 203.3L957.7 204.8L961.3 206.1Z" fill="#465ecf"/><path d="M1022.3 203.3L1018.6 201.9L1016.5 203.7L1020.2 206Z" fill="#4a63d3"/><path d="M982.4 206L978.8 204.9L976.6 206.6L980.2 207.6Z" fill="#4257c9"/><path d="M954.1 203L950.4 200.3L948.2 202.7L951.8 205Z" fill="#4e68d8"/><path d="M1097.1 116.3L1092.7 129.8L1090.3 145.1L1094.3 140.2Z" fill="#ee8468" stroke="#ee8468" stroke-width="0.45" stroke-opacity="1"/><path d="M1031.7 204L1028 201.8L1026 205.1L1029.7 205.9Z" fill="#4961d2"/><path d="M972.9 204.6L969.3 203.2L967.1 204.8L970.7 206.2Z" fill="#485fd1"/><path d="M1041.2 204.5L1037.5 204.1L1035.4 205.4L1039.1 205.8Z" fill="#465ecf"/><path d="M1062.2 198.9L1058.4 199L1056.4 201L1060.2 200.7Z" fill="#5875e1"/><path d="M1068 194.3L1064.2 196.7L1062.2 198.9L1066 196.8Z" fill="#6384eb"/><path d="M1007.1 203.8L1003.4 203.3L1001.3 205L1004.9 205.7Z" fill="#4961d2"/><path d="M991.8 205.9L988.2 205.2L986 206.5L989.7 207.8Z" fill="#4358cb"/><path d="M1081.7 179.8L1077.9 181.2L1075.9 186.1L1079.7 184.4Z" fill="#96b7ff"/><path d="M1056.4 201L1052.7 201.7L1050.7 202.9L1054.4 203.3Z" fill="#516ddb"/><path d="M957.7 204.8L954.1 203L951.8 205L955.4 206.5Z" fill="#4961d2"/><path d="M1026 205.1L1022.3 203.3L1020.2 206L1023.9 207.2Z" fill="#485fd1"/><path d="M1073.8 190L1070 191.2L1068 194.3L1071.8 193.6Z" fill="#7597f6"/><path d="M1016.5 203.7L1012.8 203.1L1010.7 204.5L1014.4 205.7Z" fill="#4b64d5"/><path d="M1050.7 202.9L1046.9 202.9L1044.9 205.6L1048.6 206.1Z" fill="#4b64d5"/><path d="M1001.3 205L997.6 205.2L995.5 206.4L999.1 206.7Z" fill="#465ecf"/><path d="M967.1 204.8L963.5 203.9L961.3 206.1L964.9 206.2Z" fill="#4961d2"/><path d="M976.6 206.6L972.9 204.6L970.7 206.2L974.4 208Z" fill="#455cce"/><path d="M986 206.5L982.4 206L980.2 207.6L983.8 208.8Z" fill="#4358cb"/><path d="M1035.4 205.4L1031.7 204L1029.7 205.9L1033.4 206.1Z" fill="#4961d2"/><path d="M1079.7 184.4L1075.9 186.1L1073.8 190L1077.7 189.1Z" fill="#89acfd"/><path d="M1044.9 205.6L1041.2 204.5L1039.1 205.8L1042.9 207.4Z" fill="#485fd1"/><path d="M995.5 206.4L991.8 205.9L989.7 207.8L993.3 208.3Z" fill="#445acc"/><path d="M1010.7 204.5L1007.1 203.8L1004.9 205.7L1008.6 206.1Z" fill="#4b64d5"/><path d="M1020.2 206L1016.5 203.7L1014.4 205.7L1018.1 207.8Z" fill="#4961d2"/><path d="M961.3 206.1L957.7 204.8L955.4 206.5L959 207.7Z" fill="#485fd1"/><path d="M1029.7 205.9L1026 205.1L1023.9 207.2L1027.6 208.2Z" fill="#465ecf"/><path d="M948.2 202.7L944.5 198.6L942.2 197.8L945.9 202.1Z" fill="#5d7ce6"/><path d="M980.2 207.6L976.6 206.6L974.4 208L978 209.3Z" fill="#4358cb"/><path d="M937.2 189.7L933.6 186.6L931.1 184.6L934.8 189.6Z" fill="#8badfd"/><path d="M944.5 198.6L940.8 193.1L938.5 194.5L942.2 197.8Z" fill="#6b8df0"/><path d="M940.8 193.1L937.2 189.7L934.8 189.6L938.5 194.5Z" fill="#7b9ff9"/><path d="M1066 196.8L1062.2 198.9L1060.2 200.7L1064 199.8Z" fill="#6180e9"/><path d="M1060.2 200.7L1056.4 201L1054.4 203.3L1058.2 202.8Z" fill="#5875e1"/><path d="M970.7 206.2L967.1 204.8L964.9 206.2L968.5 208.2Z" fill="#4961d2"/><path d="M951.8 205L948.2 202.7L945.9 202.1L949.5 205.4Z" fill="#516ddb"/><path d="M989.7 207.8L986 206.5L983.8 208.8L987.5 210Z" fill="#4358cb"/><path d="M1004.9 205.7L1001.3 205L999.1 206.7L1002.8 207.6Z" fill="#4a63d3"/><path d="M1054.4 203.3L1050.7 202.9L1048.6 206.1L1052.4 206Z" fill="#4f69d9"/><path d="M1071.8 193.6L1068 194.3L1066 196.8L1069.8 196.2Z" fill="#6f92f3"/><path d="M933.6 186.6L929.8 180.8L927.3 176.9L931.1 184.6Z" fill="#9fbfff"/><path d="M1039.1 205.8L1035.4 205.4L1033.4 206.1L1037.1 207.3Z" fill="#4a63d3"/><path d="M1077.7 189.1L1073.8 190L1071.8 193.6L1075.7 192.8Z" fill="#7ea1fa"/><path d="M1023.9 207.2L1020.2 206L1018.1 207.8L1021.8 209.4Z" fill="#465ecf"/><path d="M1048.6 206.1L1044.9 205.6L1042.9 207.4L1046.6 208Z" fill="#4961d2"/><path d="M929.8 180.8L926.2 177.7L923.6 172.3L927.3 176.9Z" fill="#b5cdfa"/><path d="M1014.4 205.7L1010.7 204.5L1008.6 206.1L1012.3 207.4Z" fill="#4c66d6"/><path d="M999.1 206.7L995.5 206.4L993.3 208.3L997 209.3Z" fill="#465ecf"/><path d="M964.9 206.2L961.3 206.1L959 207.7L962.7 209.3Z" fill="#485fd1"/><path d="M955.4 206.5L951.8 205L949.5 205.4L953.2 207.3Z" fill="#4c66d6"/><path d="M974.4 208L970.7 206.2L968.5 208.2L972.2 209.9Z" fill="#465ecf"/><path d="M983.8 208.8L980.2 207.6L978 209.3L981.7 210.4Z" fill="#4358cb"/><path d="M1099.6 98.1L1094.9 121.7L1092.7 129.8L1097.1 116.3Z" fill="#b40426" stroke="#b40426" stroke-width="0.45" stroke-opacity="1"/><path d="M1033.4 206.1L1029.7 205.9L1027.6 208.2L1031.3 207.8Z" fill="#4a63d3"/><path d="M993.3 208.3L989.7 207.8L987.5 210L991.2 210.6Z" fill="#445acc"/><path d="M1008.6 206.1L1004.9 205.7L1002.8 207.6L1006.5 208.2Z" fill="#4b64d5"/><path d="M1042.9 207.4L1039.1 205.8L1037.1 207.3L1040.8 208.2Z" fill="#4b64d5"/><path d="M1027.6 208.2L1023.9 207.2L1021.8 209.4L1025.5 210.4Z" fill="#465ecf"/><path d="M1018.1 207.8L1014.4 205.7L1012.3 207.4L1016 209.6Z" fill="#4a63d3"/><path d="M1064 199.8L1060.2 200.7L1058.2 202.8L1062 203.1Z" fill="#5e7de7"/><path d="M1058.2 202.8L1054.4 203.3L1052.4 206L1056.2 205.9Z" fill="#5572df"/><path d="M1069.8 196.2L1066 196.8L1064 199.8L1067.8 199.8Z" fill="#6b8df0"/><path d="M959 207.7L955.4 206.5L953.2 207.3L956.8 209Z" fill="#4a63d3"/><path d="M968.5 208.2L964.9 206.2L962.7 209.3L966.3 210.9Z" fill="#485fd1"/><path d="M978 209.3L974.4 208L972.2 209.9L975.8 211.1Z" fill="#445acc"/><path d="M1075.7 192.8L1071.8 193.6L1069.8 196.2L1073.7 195.7Z" fill="#799cf8"/><path d="M1052.4 206L1048.6 206.1L1046.6 208L1050.4 207.5Z" fill="#4e68d8"/><path d="M1002.8 207.6L999.1 206.7L997 209.3L1000.7 209.6Z" fill="#4961d2"/><path d="M987.5 210L983.8 208.8L981.7 210.4L985.3 211.8Z" fill="#4358cb"/><path d="M938.5 194.5L934.8 189.6L932.5 190.9L936.2 194.8Z" fill="#81a4fb"/><path d="M942.2 197.8L938.5 194.5L936.2 194.8L939.9 198.7Z" fill="#7396f5"/><path d="M1021.8 209.4L1018.1 207.8L1016 209.6L1019.7 211.3Z" fill="#465ecf"/><path d="M1037.1 207.3L1033.4 206.1L1031.3 207.8L1035 209.1Z" fill="#4c66d6"/><path d="M945.9 202.1L942.2 197.8L939.9 198.7L943.5 202Z" fill="#6687ed"/><path d="M1046.6 208L1042.9 207.4L1040.8 208.2L1044.6 209.8Z" fill="#4b64d5"/><path d="M1012.3 207.4L1008.6 206.1L1006.5 208.2L1010.2 209.8Z" fill="#4c66d6"/><path d="M934.8 189.6L931.1 184.6L928.7 183.9L932.5 190.9Z" fill="#96b7ff"/><path d="M997 209.3L993.3 208.3L991.2 210.6L994.8 210.9Z" fill="#465ecf"/><path d="M962.7 209.3L959 207.7L956.8 209L960.4 210.8Z" fill="#4961d2"/><path d="M949.5 205.4L945.9 202.1L943.5 202L947.2 205.6Z" fill="#5a78e4"/><path d="M972.2 209.9L968.5 208.2L966.3 210.9L969.9 211.7Z" fill="#455cce"/><path d="M1031.3 207.8L1027.6 208.2L1025.5 210.4L1029.2 210.7Z" fill="#4961d2"/><path d="M981.7 210.4L978 209.3L975.8 211.1L979.5 212.5Z" fill="#445acc"/><path d="M953.2 207.3L949.5 205.4L947.2 205.6L950.9 209.1Z" fill="#516ddb"/><path d="M1067.8 199.8L1064 199.8L1062 203.1L1065.8 203.6Z" fill="#6384eb"/><path d="M1062 203.1L1058.2 202.8L1056.2 205.9L1060 206.3Z" fill="#5a78e4"/><path d="M991.2 210.6L987.5 210L985.3 211.8L989 212.6Z" fill="#445acc"/><path d="M1006.5 208.2L1002.8 207.6L1000.7 209.6L1004.4 210.9Z" fill="#4b64d5"/><path d="M1073.7 195.7L1069.8 196.2L1067.8 199.8L1071.7 199.3Z" fill="#7295f4"/><path d="M1025.5 210.4L1021.8 209.4L1019.7 211.3L1023.4 212.3Z" fill="#455cce"/><path d="M1016 209.6L1012.3 207.4L1010.2 209.8L1013.9 211.7Z" fill="#4a63d3"/><path d="M1056.2 205.9L1052.4 206L1050.4 207.5L1054.2 207.6Z" fill="#536edd"/><path d="M1040.8 208.2L1037.1 207.3L1035 209.1L1038.8 209.2Z" fill="#4e68d8"/><path d="M931.1 184.6L927.3 176.9L924.9 175.2L928.7 183.9Z" fill="#b3cdfb"/><path d="M966.3 210.9L962.7 209.3L960.4 210.8L964.1 212.5Z" fill="#465ecf"/><path d="M956.8 209L953.2 207.3L950.9 209.1L954.5 211.4Z" fill="#4c66d6"/><path d="M975.8 211.1L972.2 209.9L969.9 211.7L973.6 212.9Z" fill="#455cce"/><path d="M1050.4 207.5L1046.6 208L1044.6 209.8L1048.3 210.2Z" fill="#4e68d8"/><path d="M1000.7 209.6L997 209.3L994.8 210.9L998.5 211.8Z" fill="#4961d2"/><path d="M985.3 211.8L981.7 210.4L979.5 212.5L983.1 213.8Z" fill="#4358cb"/><path d="M1035 209.1L1031.3 207.8L1029.2 210.7L1033 211.6Z" fill="#4b64d5"/><path d="M1010.2 209.8L1006.5 208.2L1004.4 210.9L1008.1 212.6Z" fill="#4a63d3"/><path d="M1019.7 211.3L1016 209.6L1013.9 211.7L1017.6 213.1Z" fill="#465ecf"/><path d="M927.3 176.9L923.6 172.3L921.1 170.3L924.9 175.2Z" fill="#cbd8ee"/><path d="M994.8 210.9L991.2 210.6L989 212.6L992.7 213Z" fill="#465ecf"/><path d="M1065.8 203.6L1062 203.1L1060 206.3L1063.8 206.3Z" fill="#5e7de7"/><path d="M1029.2 210.7L1025.5 210.4L1023.4 212.3L1027.1 213.6Z" fill="#465ecf"/><path d="M1071.7 199.3L1067.8 199.8L1065.8 203.6L1069.6 203.7Z" fill="#688aef"/><path d="M969.9 211.7L966.3 210.9L964.1 212.5L967.7 213.8Z" fill="#455cce"/><path d="M960.4 210.8L956.8 209L954.5 211.4L958.2 213.1Z" fill="#4961d2"/><path d="M1044.6 209.8L1040.8 208.2L1038.8 209.2L1042.5 211.1Z" fill="#4e68d8"/><path d="M936.2 194.8L932.5 190.9L930.1 189.9L933.8 195.6Z" fill="#89acfd"/><path d="M939.9 198.7L936.2 194.8L933.8 195.6L937.5 198.8Z" fill="#7a9df8"/><path d="M1060 206.3L1056.2 205.9L1054.2 207.6L1057.9 209.7Z" fill="#5572df"/><path d="M979.5 212.5L975.8 211.1L973.6 212.9L977.3 213.5Z" fill="#455cce"/><path d="M943.5 202L939.9 198.7L937.5 198.8L941.2 202.1Z" fill="#6e90f2"/><path d="M1004.4 210.9L1000.7 209.6L998.5 211.8L1002.2 212.7Z" fill="#4a63d3"/><path d="M989 212.6L985.3 211.8L983.1 213.8L986.8 214.3Z" fill="#445acc"/><path d="M1013.9 211.7L1010.2 209.8L1008.1 212.6L1011.8 213.9Z" fill="#485fd1"/><path d="M1023.4 212.3L1019.7 211.3L1017.6 213.1L1021.3 215.3Z" fill="#455cce"/><path d="M932.5 190.9L928.7 183.9L926.3 183L930.1 189.9Z" fill="#a1c0ff"/><path d="M1054.2 207.6L1050.4 207.5L1048.3 210.2L1052.1 210.9Z" fill="#516ddb"/><path d="M947.2 205.6L943.5 202L941.2 202.1L944.9 205.6Z" fill="#6384eb"/><path d="M1038.8 209.2L1035 209.1L1033 211.6L1036.7 212.3Z" fill="#4e68d8"/><path d="M964.1 212.5L960.4 210.8L958.2 213.1L961.8 214.8Z" fill="#465ecf"/><path d="M950.9 209.1L947.2 205.6L944.9 205.6L948.6 208.9Z" fill="#5977e3"/><path d="M1048.3 210.2L1044.6 209.8L1042.5 211.1L1046.3 212.8Z" fill="#4c66d6"/><path d="M973.6 212.9L969.9 211.7L967.7 213.8L971.4 214.8Z" fill="#455cce"/><path d="M1033 211.6L1029.2 210.7L1027.1 213.6L1030.9 214.9Z" fill="#485fd1"/><path d="M998.5 211.8L994.8 210.9L992.7 213L996.4 213.8Z" fill="#4961d2"/><path d="M954.5 211.4L950.9 209.1L948.6 208.9L952.3 213.4Z" fill="#4e68d8"/><path d="M1069.6 203.7L1065.8 203.6L1063.8 206.3L1067.6 206.6Z" fill="#6282ea"/><path d="M983.1 213.8L979.5 212.5L977.3 213.5L980.9 215.2Z" fill="#455cce"/><path d="M1008.1 212.6L1004.4 210.9L1002.2 212.7L1005.9 214.7Z" fill="#485fd1"/><path d="M1063.8 206.3L1060 206.3L1057.9 209.7L1061.7 209.3Z" fill="#5977e3"/><path d="M1017.6 213.1L1013.9 211.7L1011.8 213.9L1015.5 216Z" fill="#455cce"/><path d="M1027.1 213.6L1023.4 212.3L1021.3 215.3L1025 217Z" fill="#4358cb"/><path d="M992.7 213L989 212.6L986.8 214.3L990.5 215Z" fill="#465ecf"/><path d="M1057.9 209.7L1054.2 207.6L1052.1 210.9L1055.9 211.9Z" fill="#536edd"/><path d="M958.2 213.1L954.5 211.4L952.3 213.4L955.9 214.8Z" fill="#4961d2"/><path d="M928.7 183.9L924.9 175.2L922.4 174.6L926.3 183Z" fill="#c0d4f5"/><path d="M967.7 213.8L964.1 212.5L961.8 214.8L965.5 215.9Z" fill="#455cce"/><path d="M1042.5 211.1L1038.8 209.2L1036.7 212.3L1040.5 214.2Z" fill="#4e68d8"/><path d="M977.3 213.5L973.6 212.9L971.4 214.8L975 216Z" fill="#465ecf"/><path d="M1002.2 212.7L998.5 211.8L996.4 213.8L1000.1 215.5Z" fill="#4961d2"/><path d="M1036.7 212.3L1033 211.6L1030.9 214.9L1034.6 215.7Z" fill="#4961d2"/><path d="M1052.1 210.9L1048.3 210.2L1046.3 212.8L1050.1 212.7Z" fill="#4f69d9"/><path d="M1011.8 213.9L1008.1 212.6L1005.9 214.7L1009.6 216.4Z" fill="#465ecf"/><path d="M1021.3 215.3L1017.6 213.1L1015.5 216L1019.2 217.6Z" fill="#4358cb"/><path d="M986.8 214.3L983.1 213.8L980.9 215.2L984.6 216.6Z" fill="#445acc"/><path d="M937.5 198.8L933.8 195.6L931.4 195.1L935.2 199.4Z" fill="#82a6fb"/><path d="M1030.9 214.9L1027.1 213.6L1025 217L1028.8 217.8Z" fill="#4358cb"/><path d="M933.8 195.6L930.1 189.9L927.7 189.3L931.4 195.1Z" fill="#94b6ff"/><path d="M941.2 202.1L937.5 198.8L935.2 199.4L938.9 203.6Z" fill="#7597f6"/><path d="M924.9 175.2L921.1 170.3L918.6 168.7L922.4 174.6Z" fill="#d8dce2"/><path d="M961.8 214.8L958.2 213.1L955.9 214.8L959.6 216.2Z" fill="#465ecf"/><path d="M1046.3 212.8L1042.5 211.1L1040.5 214.2L1044.3 214.4Z" fill="#4c66d6"/><path d="M1067.6 206.6L1063.8 206.3L1061.7 209.3L1065.6 209.7Z" fill="#5d7ce6"/><path d="M971.4 214.8L967.7 213.8L965.5 215.9L969.2 217.2Z" fill="#455cce"/><path d="M944.9 205.6L941.2 202.1L938.9 203.6L942.5 206.1Z" fill="#6a8bef"/><path d="M996.4 213.8L992.7 213L990.5 215L994.2 215.3Z" fill="#4961d2"/><path d="M1061.7 209.3L1057.9 209.7L1055.9 211.9L1059.7 211.5Z" fill="#5572df"/><path d="M1015.5 216L1011.8 213.9L1009.6 216.4L1013.4 218.3Z" fill="#4358cb"/><path d="M1025 217L1021.3 215.3L1019.2 217.6L1022.9 219Z" fill="#4055c8"/><path d="M1005.9 214.7L1002.2 212.7L1000.1 215.5L1003.8 216.5Z" fill="#485fd1"/><path d="M980.9 215.2L977.3 213.5L975 216L978.7 217.1Z" fill="#465ecf"/><path d="M930.1 189.9L926.3 183L923.9 182.9L927.7 189.3Z" fill="#adc9fd"/><path d="M948.6 208.9L944.9 205.6L942.5 206.1L946.2 209.6Z" fill="#6180e9"/><path d="M1040.5 214.2L1036.7 212.3L1034.6 215.7L1038.4 216.2Z" fill="#4961d2"/><path d="M990.5 215L986.8 214.3L984.6 216.6L988.3 218.1Z" fill="#455cce"/><path d="M1055.9 211.9L1052.1 210.9L1050.1 212.7L1053.9 213.2Z" fill="#516ddb"/><path d="M952.3 213.4L948.6 208.9L946.2 209.6L949.9 212.8Z" fill="#5572df"/><path d="M1034.6 215.7L1030.9 214.9L1028.8 217.8L1032.5 218.8Z" fill="#4358cb"/><path d="M965.5 215.9L961.8 214.8L959.6 216.2L963.2 217.8Z" fill="#455cce"/><path d="M955.9 214.8L952.3 213.4L949.9 212.8L953.6 216.9Z" fill="#4b64d5"/><path d="M975 216L971.4 214.8L969.2 217.2L972.8 218Z" fill="#455cce"/><path d="M1019.2 217.6L1015.5 216L1013.4 218.3L1017.1 219.5Z" fill="#4055c8"/><path d="M1009.6 216.4L1005.9 214.7L1003.8 216.5L1007.5 218.8Z" fill="#455cce"/><path d="M1000.1 215.5L996.4 213.8L994.2 215.3L997.9 217Z" fill="#4961d2"/><path d="M1050.1 212.7L1046.3 212.8L1044.3 214.4L1048 214.9Z" fill="#4f69d9"/><path d="M1028.8 217.8L1025 217L1022.9 219L1026.7 220.2Z" fill="#3f53c6"/><path d="M984.6 216.6L980.9 215.2L978.7 217.1L982.4 218.5Z" fill="#455cce"/><path d="M1065.6 209.7L1061.7 209.3L1059.7 211.5L1063.6 211.7Z" fill="#5a78e4"/><path d="M1044.3 214.4L1040.5 214.2L1038.4 216.2L1042.2 216.3Z" fill="#4b64d5"/><path d="M959.6 216.2L955.9 214.8L953.6 216.9L957.3 218.2Z" fill="#485fd1"/><path d="M926.3 183L922.4 174.6L919.9 172L923.9 182.9Z" fill="#cdd9ec"/><path d="M994.2 215.3L990.5 215L988.3 218.1L992 218.4Z" fill="#465ecf"/><path d="M969.2 217.2L965.5 215.9L963.2 217.8L966.9 218.9Z" fill="#455cce"/><path d="M1013.4 218.3L1009.6 216.4L1007.5 218.8L1011.2 220.6Z" fill="#4257c9"/><path d="M1059.7 211.5L1055.9 211.9L1053.9 213.2L1057.7 213.4Z" fill="#5572df"/><path d="M938.9 203.6L935.2 199.4L932.8 200.5L936.5 204.1Z" fill="#7a9df8"/><path d="M1038.4 216.2L1034.6 215.7L1032.5 218.8L1036.3 218.8Z" fill="#455cce"/><path d="M935.2 199.4L931.4 195.1L929 194.3L932.8 200.5Z" fill="#8caffe"/><path d="M1003.8 216.5L1000.1 215.5L997.9 217L1001.6 218.7Z" fill="#485fd1"/><path d="M1022.9 219L1019.2 217.6L1017.1 219.5L1020.8 220.1Z" fill="#4055c8"/><path d="M978.7 217.1L975 216L972.8 218L976.5 218.6Z" fill="#465ecf"/><path d="M942.5 206.1L938.9 203.6L936.5 204.1L940.2 207.4Z" fill="#6f92f3"/><path d="M988.3 218.1L984.6 216.6L982.4 218.5L986.1 220.2Z" fill="#445acc"/><path d="M1032.5 218.8L1028.8 217.8L1026.7 220.2L1030.5 220.8Z" fill="#4055c8"/><path d="M931.4 195.1L927.7 189.3L925.2 187.6L929 194.3Z" fill="#a2c1ff"/><path d="M1053.9 213.2L1050.1 212.7L1048 214.9L1051.9 214.3Z" fill="#5470de"/><path d="M946.2 209.6L942.5 206.1L940.2 207.4L943.9 210.5Z" fill="#6687ed"/><path d="M963.2 217.8L959.6 216.2L957.3 218.2L961 219.2Z" fill="#465ecf"/><path d="M1017.1 219.5L1013.4 218.3L1011.2 220.6L1015 221.3Z" fill="#4055c8"/><path d="M972.8 218L969.2 217.2L966.9 218.9L970.6 219.2Z" fill="#465ecf"/><path d="M949.9 212.8L946.2 209.6L943.9 210.5L947.6 213.8Z" fill="#5b7ae5"/><path d="M1007.5 218.8L1003.8 216.5L1001.6 218.7L1005.3 219.9Z" fill="#455cce"/><path d="M997.9 217L994.2 215.3L992 218.4L995.7 218.5Z" fill="#4961d2"/><path d="M922.4 174.6L918.6 168.7L916 164.4L919.9 172Z" fill="#e7d7ce" stroke="#e7d7ce" stroke-width="0.45" stroke-opacity="1"/><path d="M1026.7 220.2L1022.9 219L1020.8 220.1L1024.6 221.8Z" fill="#4055c8"/><path d="M1048 214.9L1044.3 214.4L1042.2 216.3L1046 214.9Z" fill="#516ddb"/><path d="M953.6 216.9L949.9 212.8L947.6 213.8L951.3 217.4Z" fill="#516ddb"/><path d="M982.4 218.5L978.7 217.1L976.5 218.6L980.2 219.9Z" fill="#465ecf"/><path d="M927.7 189.3L923.9 182.9L921.3 179.4L925.2 187.6Z" fill="#bed2f6"/><path d="M992 218.4L988.3 218.1L986.1 220.2L989.8 220.4Z" fill="#445acc"/><path d="M1063.6 211.7L1059.7 211.5L1057.7 213.4L1061.6 213.2Z" fill="#5a78e4"/><path d="M1042.2 216.3L1038.4 216.2L1036.3 218.8L1040.1 218.7Z" fill="#4a63d3"/><path d="M957.3 218.2L953.6 216.9L951.3 217.4L955 220Z" fill="#4961d2"/><path d="M1036.3 218.8L1032.5 218.8L1030.5 220.8L1034.2 220.7Z" fill="#445acc"/><path d="M966.9 218.9L963.2 217.8L961 219.2L964.6 220.8Z" fill="#465ecf"/><path d="M1011.2 220.6L1007.5 218.8L1005.3 219.9L1009.1 221.6Z" fill="#4358cb"/><path d="M1057.7 213.4L1053.9 213.2L1051.9 214.3L1055.7 214.3Z" fill="#5977e3"/><path d="M1020.8 220.1L1017.1 219.5L1015 221.3L1018.7 222.7Z" fill="#4257c9"/><path d="M1001.6 218.7L997.9 217L995.7 218.5L999.4 220.1Z" fill="#4961d2"/><path d="M936.5 204.1L932.8 200.5L930.4 201.8L934.2 205.9Z" fill="#7ea1fa"/><path d="M976.5 218.6L972.8 218L970.6 219.2L974.3 220.1Z" fill="#485fd1"/><path d="M986.1 220.2L982.4 218.5L980.2 219.9L983.9 221.7Z" fill="#455cce"/><path d="M940.2 207.4L936.5 204.1L934.2 205.9L937.9 209.5Z" fill="#7295f4"/><path d="M1030.5 220.8L1026.7 220.2L1024.6 221.8L1028.4 221.7Z" fill="#4257c9"/><path d="M932.8 200.5L929 194.3L926.6 194L930.4 201.8Z" fill="#94b6ff"/><path d="M943.9 210.5L940.2 207.4L937.9 209.5L941.6 212.2Z" fill="#688aef"/><path d="M961 219.2L957.3 218.2L955 220L958.7 221.1Z" fill="#485fd1"/><path d="M1051.9 214.3L1048 214.9L1046 214.9L1049.8 215.5Z" fill="#5875e1"/><path d="M995.7 218.5L992 218.4L989.8 220.4L993.5 221.5Z" fill="#485fd1"/><path d="M1015 221.3L1011.2 220.6L1009.1 221.6L1012.8 222.9Z" fill="#4257c9"/><path d="M970.6 219.2L966.9 218.9L964.6 220.8L968.3 221.6Z" fill="#465ecf"/><path d="M1005.3 219.9L1001.6 218.7L999.4 220.1L1003.2 222.2Z" fill="#465ecf"/><path d="M947.6 213.8L943.9 210.5L941.6 212.2L945.3 215.4Z" fill="#5f7fe8"/><path d="M1046 214.9L1042.2 216.3L1040.1 218.7L1044 217.5Z" fill="#536edd"/><path d="M1024.6 221.8L1020.8 220.1L1018.7 222.7L1022.5 222.7Z" fill="#4358cb"/><path d="M1040.1 218.7L1036.3 218.8L1034.2 220.7L1038 220.4Z" fill="#4a63d3"/><path d="M989.8 220.4L986.1 220.2L983.9 221.7L987.6 223Z" fill="#445acc"/><path d="M980.2 219.9L976.5 218.6L974.3 220.1L978 221.7Z" fill="#4961d2"/><path d="M929 194.3L925.2 187.6L922.8 187.3L926.6 194Z" fill="#afcafc"/><path d="M951.3 217.4L947.6 213.8L945.3 215.4L949 218.8Z" fill="#5572df"/><path d="M1061.6 213.2L1057.7 213.4L1055.7 214.3L1059.5 215.4Z" fill="#5d7ce6"/><path d="M964.6 220.8L961 219.2L958.7 221.1L962.4 221.8Z" fill="#485fd1"/><path d="M1034.2 220.7L1030.5 220.8L1028.4 221.7L1032.2 222Z" fill="#465ecf"/><path d="M955 220L951.3 217.4L949 218.8L952.7 221.7Z" fill="#4c66d6"/><path d="M1009.1 221.6L1005.3 219.9L1003.2 222.2L1006.9 223.9Z" fill="#445acc"/><path d="M999.4 220.1L995.7 218.5L993.5 221.5L997.3 222.2Z" fill="#4961d2"/><path d="M1018.7 222.7L1015 221.3L1012.8 222.9L1016.6 224.1Z" fill="#4257c9"/><path d="M974.3 220.1L970.6 219.2L968.3 221.6L972 222.6Z" fill="#4961d2"/><path d="M923.9 182.9L919.9 172L916.8 155.6L921.3 179.4Z" fill="#e8d6cc" stroke="#e8d6cc" stroke-width="0.45" stroke-opacity="1"/><path d="M1055.7 214.3L1051.9 214.3L1049.8 215.5L1053.7 216.1Z" fill="#5b7ae5"/><path d="M983.9 221.7L980.2 219.9L978 221.7L981.7 224.2Z" fill="#455cce"/><path d="M1028.4 221.7L1024.6 221.8L1022.5 222.7L1026.3 223.8Z" fill="#455cce"/><path d="M993.5 221.5L989.8 220.4L987.6 223L991.3 223.7Z" fill="#455cce"/><path d="M958.7 221.1L955 220L952.7 221.7L956.4 222.6Z" fill="#4961d2"/><path d="M925.2 187.6L921.3 179.4L918.7 175.8L922.8 187.3Z" fill="#cfdaea"/><path d="M1003.2 222.2L999.4 220.1L997.3 222.2L1001 224.2Z" fill="#485fd1"/><path d="M1012.8 222.9L1009.1 221.6L1006.9 223.9L1010.7 224.7Z" fill="#445acc"/><path d="M968.3 221.6L964.6 220.8L962.4 221.8L966.1 222.9Z" fill="#4961d2"/><path d="M1049.8 215.5L1046 214.9L1044 217.5L1047.8 216.4Z" fill="#5b7ae5"/><path d="M1044 217.5L1040.1 218.7L1038 220.4L1041.9 219.3Z" fill="#516ddb"/><path d="M987.6 223L983.9 221.7L981.7 224.2L985.4 225.6Z" fill="#4358cb"/><path d="M1022.5 222.7L1018.7 222.7L1016.6 224.1L1020.4 224.9Z" fill="#445acc"/><path d="M978 221.7L974.3 220.1L972 222.6L975.7 223.9Z" fill="#4961d2"/><path d="M1038 220.4L1034.2 220.7L1032.2 222L1036 221.2Z" fill="#4c66d6"/><path d="M1059.5 215.4L1055.7 214.3L1053.7 216.1L1057.5 216.7Z" fill="#5e7de7"/><path d="M997.3 222.2L993.5 221.5L991.3 223.7L995.1 225.1Z" fill="#465ecf"/><path d="M1006.9 223.9L1003.2 222.2L1001 224.2L1004.8 224.9Z" fill="#455cce"/><path d="M962.4 221.8L958.7 221.1L956.4 222.6L960.1 223.3Z" fill="#4a63d3"/><path d="M972 222.6L968.3 221.6L966.1 222.9L969.8 225.3Z" fill="#485fd1"/><path d="M1032.2 222L1028.4 221.7L1026.3 223.8L1030.1 222.6Z" fill="#4a63d3"/><path d="M1016.6 224.1L1012.8 222.9L1010.7 224.7L1014.4 225.7Z" fill="#445acc"/><path d="M981.7 224.2L978 221.7L975.7 223.9L979.4 224.8Z" fill="#465ecf"/><path d="M991.3 223.7L987.6 223L985.4 225.6L989.1 226.5Z" fill="#445acc"/><path d="M1053.7 216.1L1049.8 215.5L1047.8 216.4L1051.6 217.1Z" fill="#5f7fe8"/><path d="M1026.3 223.8L1022.5 222.7L1020.4 224.9L1024.1 225.7Z" fill="#465ecf"/><path d="M1001 224.2L997.3 222.2L995.1 225.1L998.8 226.9Z" fill="#455cce"/><path d="M1010.7 224.7L1006.9 223.9L1004.8 224.9L1008.5 226.3Z" fill="#455cce"/><path d="M1047.8 216.4L1044 217.5L1041.9 219.3L1045.7 217.8Z" fill="#5d7ce6"/><path d="M975.7 223.9L972 222.6L969.8 225.3L973.5 226.3Z" fill="#465ecf"/><path d="M966.1 222.9L962.4 221.8L960.1 223.3L963.8 225.3Z" fill="#4a63d3"/><path d="M919.9 172L916 164.4L912.9 147.1L916.8 155.6Z" fill="#f7aa8c" stroke="#f7aa8c" stroke-width="0.45" stroke-opacity="1"/><path d="M985.4 225.6L981.7 224.2L979.4 224.8L983.2 226.6Z" fill="#455cce"/><path d="M1041.9 219.3L1038 220.4L1036 221.2L1039.8 219.7Z" fill="#5572df"/><path d="M1020.4 224.9L1016.6 224.1L1014.4 225.7L1018.2 226.1Z" fill="#455cce"/><path d="M995.1 225.1L991.3 223.7L989.1 226.5L992.9 228Z" fill="#445acc"/><path d="M1057.5 216.7L1053.7 216.1L1051.6 217.1L1055.5 218.2Z" fill="#6282ea"/><path d="M1004.8 224.9L1001 224.2L998.8 226.9L1002.6 227.7Z" fill="#455cce"/><path d="M1036 221.2L1032.2 222L1030.1 222.6L1033.9 220.4Z" fill="#536edd"/><path d="M969.8 225.3L966.1 222.9L963.8 225.3L967.5 227.2Z" fill="#485fd1"/><path d="M1030.1 222.6L1026.3 223.8L1024.1 225.7L1028 224.1Z" fill="#4c66d6"/><path d="M989.1 226.5L985.4 225.6L983.2 226.6L986.9 228.1Z" fill="#445acc"/><path d="M1014.4 225.7L1010.7 224.7L1008.5 226.3L1012.3 226.7Z" fill="#465ecf"/><path d="M979.4 224.8L975.7 223.9L973.5 226.3L977.2 225.9Z" fill="#4961d2"/><path d="M998.8 226.9L995.1 225.1L992.9 228L996.6 229Z" fill="#4358cb"/><path d="M1024.1 225.7L1020.4 224.9L1018.2 226.1L1022 226.7Z" fill="#485fd1"/><path d="M1051.6 217.1L1047.8 216.4L1045.7 217.8L1049.6 217.7Z" fill="#6485ec"/><path d="M973.5 226.3L969.8 225.3L967.5 227.2L971.2 227.7Z" fill="#465ecf"/><path d="M1008.5 226.3L1004.8 224.9L1002.6 227.7L1006.3 227.8Z" fill="#465ecf"/><path d="M992.9 228L989.1 226.5L986.9 228.1L990.7 228.9Z" fill="#445acc"/><path d="M1045.7 217.8L1041.9 219.3L1039.8 219.7L1043.7 218Z" fill="#6282ea"/><path d="M921.3 179.4L916.8 155.6L914 148.2L918.7 175.8Z" fill="#f7b497" stroke="#f7b497" stroke-width="0.45" stroke-opacity="1"/><path d="M1018.2 226.1L1014.4 225.7L1012.3 226.7L1016.1 227.9Z" fill="#4961d2"/><path d="M983.2 226.6L979.4 224.8L977.2 225.9L980.9 226.6Z" fill="#4b64d5"/><path d="M1002.6 227.7L998.8 226.9L996.6 229L1000.4 229.5Z" fill="#445acc"/><path d="M1039.8 219.7L1036 221.2L1033.9 220.4L1037.8 219Z" fill="#5f7fe8"/><path d="M1055.5 218.2L1051.6 217.1L1049.6 217.7L1053.5 217.9Z" fill="#6788ee"/><path d="M1033.9 220.4L1030.1 222.6L1028 224.1L1031.8 220.9Z" fill="#5a78e4"/><path d="M1028 224.1L1024.1 225.7L1022 226.7L1025.8 224.1Z" fill="#506bda"/><path d="M1012.3 226.7L1008.5 226.3L1006.3 227.8L1010.1 227.7Z" fill="#4a63d3"/><path d="M977.2 225.9L973.5 226.3L971.2 227.7L974.9 226.8Z" fill="#4b64d5"/><path d="M996.6 229L992.9 228L990.7 228.9L994.4 230Z" fill="#445acc"/><path d="M986.9 228.1L983.2 226.6L980.9 226.6L984.7 228Z" fill="#4a63d3"/><path d="M1022 226.7L1018.2 226.1L1016.1 227.9L1019.9 227.6Z" fill="#4b64d5"/><path d="M1006.3 227.8L1002.6 227.7L1000.4 229.5L1004.2 229.7Z" fill="#465ecf"/><path d="M1049.6 217.7L1045.7 217.8L1043.7 218L1047.6 217Z" fill="#6c8ff1"/><path d="M990.7 228.9L986.9 228.1L984.7 228L988.4 229.7Z" fill="#4961d2"/><path d="M1016.1 227.9L1012.3 226.7L1010.1 227.7L1013.9 228.7Z" fill="#4c66d6"/><path d="M1000.4 229.5L996.6 229L994.4 230L998.2 229.8Z" fill="#465ecf"/><path d="M1043.7 218L1039.8 219.7L1037.8 219L1041.6 217.6Z" fill="#6c8ff1"/><path d="M980.9 226.6L977.2 225.9L974.9 226.8L978.6 227Z" fill="#516ddb"/><path d="M1010.1 227.7L1006.3 227.8L1004.2 229.7L1007.9 228.8Z" fill="#4c66d6"/><path d="M1037.8 219L1033.9 220.4L1031.8 220.9L1035.7 219.1Z" fill="#6a8bef"/><path d="M994.4 230L990.7 228.9L988.4 229.7L992.2 230.8Z" fill="#4961d2"/><path d="M1053.5 217.9L1049.6 217.7L1047.6 217L1051.4 217.1Z" fill="#7396f5"/><path d="M1025.8 224.1L1022 226.7L1019.9 227.6L1023.7 224.2Z" fill="#5673e0"/><path d="M1031.8 220.9L1028 224.1L1025.8 224.1L1029.7 220.6Z" fill="#6282ea"/><path d="M1019.9 227.6L1016.1 227.9L1013.9 228.7L1017.7 227.9Z" fill="#506bda"/><path d="M1004.2 229.7L1000.4 229.5L998.2 229.8L1002 230.5Z" fill="#4b64d5"/><path d="M984.7 228L980.9 226.6L978.6 227L982.4 228Z" fill="#536edd"/><path d="M1047.6 217L1043.7 218L1041.6 217.6L1045.5 216.7Z" fill="#779af7"/><path d="M1013.9 228.7L1010.1 227.7L1007.9 228.8L1011.7 228.8Z" fill="#536edd"/><path d="M998.2 229.8L994.4 230L992.2 230.8L996 230.7Z" fill="#4c66d6"/><path d="M988.4 229.7L984.7 228L982.4 228L986.2 229.7Z" fill="#516ddb"/><path d="M916.8 155.6L912.9 147.1L909.7 132.3L914 148.2Z" fill="#cf453c" stroke="#cf453c" stroke-width="0.45" stroke-opacity="1"/><path d="M1041.6 217.6L1037.8 219L1035.7 219.1L1039.6 216.4Z" fill="#799cf8"/><path d="M1007.9 228.8L1004.2 229.7L1002 230.5L1005.8 228.3Z" fill="#536edd"/><path d="M992.2 230.8L988.4 229.7L986.2 229.7L989.9 230.3Z" fill="#516ddb"/><path d="M1035.7 219.1L1031.8 220.9L1029.7 220.6L1033.6 218.1Z" fill="#7597f6"/><path d="M1023.7 224.2L1019.9 227.6L1017.7 227.9L1021.6 224.1Z" fill="#5f7fe8"/><path d="M1029.7 220.6L1025.8 224.1L1023.7 224.2L1027.6 219.3Z" fill="#6e90f2"/><path d="M1002 230.5L998.2 229.8L996 230.7L999.7 229.5Z" fill="#536edd"/><path d="M1051.4 217.1L1047.6 217L1045.5 216.7L1049.5 214.8Z" fill="#82a6fb"/><path d="M1017.7 227.9L1013.9 228.7L1011.7 228.8L1015.6 226.2Z" fill="#5a78e4"/><path d="M996 230.7L992.2 230.8L989.9 230.3L993.7 230.4Z" fill="#5572df"/><path d="M1011.7 228.8L1007.9 228.8L1005.8 228.3L1009.6 227.3Z" fill="#5d7ce6"/><path d="M1045.5 216.7L1041.6 217.6L1039.6 216.4L1043.5 215.1Z" fill="#86a9fc"/><path d="M1005.8 228.3L1002 230.5L999.7 229.5L1003.5 228.6Z" fill="#5b7ae5"/><path d="M1039.6 216.4L1035.7 219.1L1033.6 218.1L1037.5 215.8Z" fill="#85a8fc"/><path d="M1021.6 224.1L1017.7 227.9L1015.6 226.2L1019.4 223.7Z" fill="#6b8df0"/><path d="M999.7 229.5L996 230.7L993.7 230.4L997.5 230.5Z" fill="#5b7ae5"/><path d="M1027.6 219.3L1023.7 224.2L1021.6 224.1L1025.5 219.3Z" fill="#799cf8"/><path d="M1033.6 218.1L1029.7 220.6L1027.6 219.3L1031.5 215.9Z" fill="#85a8fc"/><path d="M1015.6 226.2L1011.7 228.8L1009.6 227.3L1013.4 225.8Z" fill="#6788ee"/><path d="M1049.5 214.8L1045.5 216.7L1043.5 215.1L1047.4 212.8Z" fill="#93b5fe"/><path d="M1009.6 227.3L1005.8 228.3L1003.5 228.6L1007.4 227.6Z" fill="#6788ee"/><path d="M1043.5 215.1L1039.6 216.4L1037.5 215.8L1041.4 212.7Z" fill="#97b8ff"/><path d="M1003.5 228.6L999.7 229.5L997.5 230.5L1001.3 229.5Z" fill="#6485ec"/><path d="M1037.5 215.8L1033.6 218.1L1031.5 215.9L1035.4 213.2Z" fill="#97b8ff"/><path d="M1019.4 223.7L1015.6 226.2L1013.4 225.8L1017.3 222.5Z" fill="#7a9df8"/><path d="M1025.5 219.3L1021.6 224.1L1019.4 223.7L1023.3 217.9Z" fill="#85a8fc"/><path d="M1031.5 215.9L1027.6 219.3L1025.5 219.3L1029.4 215.1Z" fill="#94b6ff"/><path d="M1013.4 225.8L1009.6 227.3L1007.4 227.6L1011.2 225.9Z" fill="#7396f5"/><path d="M1007.4 227.6L1003.5 228.6L1001.3 229.5L1005.2 229.7Z" fill="#6e90f2"/><path d="M1047.4 212.8L1043.5 215.1L1041.4 212.7L1045.4 211.2Z" fill="#a6c4fe"/><path d="M1041.4 212.7L1037.5 215.8L1035.4 213.2L1039.4 210.4Z" fill="#aac7fd"/><path d="M1011.2 225.9L1007.4 227.6L1005.2 229.7L1009 227Z" fill="#799cf8"/><path d="M1017.3 222.5L1013.4 225.8L1011.2 225.9L1015.1 222.5Z" fill="#85a8fc"/><path d="M1023.3 217.9L1019.4 223.7L1017.3 222.5L1021.2 217.9Z" fill="#93b5fe"/><path d="M1035.4 213.2L1031.5 215.9L1029.4 215.1L1033.3 211.1Z" fill="#aac7fd"/><path d="M1029.4 215.1L1025.5 219.3L1023.3 217.9L1027.3 213.4Z" fill="#a2c1ff"/><path d="M1045.4 211.2L1041.4 212.7L1039.4 210.4L1043.4 207.7Z" fill="#bbd1f8"/><path d="M1015.1 222.5L1011.2 225.9L1009 227L1012.9 222.6Z" fill="#8fb1fe"/><path d="M1039.4 210.4L1035.4 213.2L1033.3 211.1L1037.3 207.4Z" fill="#bfd3f6"/><path d="M1021.2 217.9L1017.3 222.5L1015.1 222.5L1019 216.5Z" fill="#a1c0ff"/><path d="M1033.3 211.1L1029.4 215.1L1027.3 213.4L1031.2 208.9Z" fill="#bcd2f7"/><path d="M1027.3 213.4L1023.3 217.9L1021.2 217.9L1025.1 212Z" fill="#b2ccfb"/><path d="M1043.4 207.7L1039.4 210.4L1037.3 207.4L1041.3 204.7Z" fill="#d1dae9"/><path d="M1019 216.5L1015.1 222.5L1012.9 222.6L1016.8 216.6Z" fill="#abc8fd"/><path d="M1037.3 207.4L1033.3 211.1L1031.2 208.9L1035.2 205.1Z" fill="#d2dbe8"/><path d="M1025.1 212L1021.2 217.9L1019 216.5L1022.9 210.6Z" fill="#bfd3f6"/><path d="M1031.2 208.9L1027.3 213.4L1025.1 212L1029.1 206.3Z" fill="#cdd9ec"/><path d="M1041.3 204.7L1037.3 207.4L1035.2 205.1L1039.2 203Z" fill="#e1dad6" stroke="#e1dad6" stroke-width="0.45" stroke-opacity="1"/><path d="M1022.9 210.6L1019 216.5L1016.8 216.6L1020.8 211Z" fill="#cbd8ee"/><path d="M1035.2 205.1L1031.2 208.9L1029.1 206.3L1033.1 202.5Z" fill="#e1dad6" stroke="#e1dad6" stroke-width="0.45" stroke-opacity="1"/><path d="M1029.1 206.3L1025.1 212L1022.9 210.6L1026.9 205.2Z" fill="#dbdcde"/><path d="M1039.2 203L1035.2 205.1L1033.1 202.5L1037.1 200.6Z" fill="#edd1c2" stroke="#edd1c2" stroke-width="0.45" stroke-opacity="1"/><path d="M1026.9 205.2L1022.9 210.6L1020.8 211L1024.7 205.3Z" fill="#e3d9d3" stroke="#e3d9d3" stroke-width="0.45" stroke-opacity="1"/><path d="M1033.1 202.5L1029.1 206.3L1026.9 205.2L1031 198.9Z" fill="#efcfbf" stroke="#efcfbf" stroke-width="0.45" stroke-opacity="1"/><path d="M1037.1 200.6L1033.1 202.5L1031 198.9L1034.9 199.2Z" fill="#f5c1a9" stroke="#f5c1a9" stroke-width="0.45" stroke-opacity="1"/><path d="M1031 198.9L1026.9 205.2L1024.7 205.3L1028.8 199.1Z" fill="#f4c5ad" stroke="#f4c5ad" stroke-width="0.45" stroke-opacity="1"/><path d="M1034.9 199.2L1031 198.9L1028.8 199.1L1032.8 197.1Z" fill="#f7b194" stroke="#f7b194" stroke-width="0.45" stroke-opacity="1"/></g><path d="M899.5 219.4L1036.2 263.7M1036.2 263.7L1108.7 189.7M1108.7 189.7L1113.3 89.9M1028.4 259.4L1024.5 263.3M1102.2 193.4L1108.7 195.3M997.6 249.4L993.6 253.2M1087.3 208.6L1093.9 210.5M967.5 239.7L963.4 243.4M1071.7 224.4L1078.4 226.4M938 230.2L933.9 233.8M1055.6 240.8L1062.4 242.9M909.3 220.8L905.1 224.4M1038.8 257.8L1045.7 260M1107.6 190.4L1110.8 187.2M1108.4 173.3L1111.6 170.1M1109.2 155.9L1112.4 152.8M1110 138.2L1113.3 135.1M1110.8 120.3L1114.1 117.2M1111.7 102.1L1115 99.1" fill="none" stroke="#000" stroke-width="1.15"/><text x="902.5" y="242.6" text-anchor="middle" textLength="7.3" lengthAdjust="spacingAndGlyphs">4</text><text x="931" y="251.8" text-anchor="middle" textLength="7.3" lengthAdjust="spacingAndGlyphs">2</text><text x="960" y="261.6" text-anchor="middle" textLength="7.3" lengthAdjust="spacingAndGlyphs">0</text><text x="991.4" y="272.2" text-anchor="middle" textLength="16.8" lengthAdjust="spacingAndGlyphs">−2</text><text x="1022.6" y="282.4" text-anchor="middle" textLength="16.8" lengthAdjust="spacingAndGlyphs">−4</text><text x="1051.1" y="277.9" text-anchor="middle" textLength="7.3" lengthAdjust="spacingAndGlyphs">4</text><text x="1067.7" y="260.5" text-anchor="middle" textLength="7.3" lengthAdjust="spacingAndGlyphs">2</text><text x="1084" y="244.1" text-anchor="middle" textLength="7.3" lengthAdjust="spacingAndGlyphs">0</text><text x="1099" y="226.8" text-anchor="middle" textLength="16.8" lengthAdjust="spacingAndGlyphs">−2</text><text x="1113.8" y="212.6" text-anchor="middle" textLength="16.8" lengthAdjust="spacingAndGlyphs">−4</text><text x="1108.1" y="196.4" textLength="25.4" lengthAdjust="spacingAndGlyphs">0.02</text><text x="1108.9" y="179.3" textLength="25.4" lengthAdjust="spacingAndGlyphs">0.04</text><text x="1109.7" y="161.9" textLength="25.4" lengthAdjust="spacingAndGlyphs">0.06</text><text x="1110.6" y="144.3" textLength="25.4" lengthAdjust="spacingAndGlyphs">0.08</text><text x="1111.4" y="126.3" textLength="25.4" lengthAdjust="spacingAndGlyphs">0.10</text><text x="1112.2" y="108.1" textLength="25.4" lengthAdjust="spacingAndGlyphs">0.12</text></svg>
<div class="ln" style="top:276.9px"><span style="left:5.3px;letter-spacing:0.72px">Figure</span> <span style="left:86.6px;letter-spacing:-0.10px">4:</span> <span style="left:128.5px;letter-spacing:0.34px">2D</span> <span style="left:172.8px;letter-spacing:0.84px">contour</span> <span style="left:266.4px;letter-spacing:0.71px">plots</span> <span style="left:331.0px;letter-spacing:-0.43px">of</span> <span style="left:364.4px;letter-spacing:0.90px">training</span> <span style="left:460.6px;letter-spacing:0.74px">error</span> <span style="left:525.3px;letter-spacing:0.76px">(%)</span></div>
<div class="ln" style="top:304.8px"><span style="left:5.3px;letter-spacing:0.66px">around</span> <span style="left:89.5px;letter-spacing:0.66px">the</span> <span style="left:133.5px;letter-spacing:0.49px">average</span> <span style="left:223.5px;letter-spacing:0.46px">variable</span> <span style="left:316.0px;letter-spacing:0.60px">(<i class="mx">x</i><i class="sb">A</i>).</span> <span style="left:390.6px;letter-spacing:0.62px">For</span> <span style="left:436.5px;letter-spacing:0.01px">SimpleAVG,</span></div>
<div class="ln" style="top:333.5px"><span style="left:5.3px;letter-spacing:1.22px">the</span> <span style="left:48.4px;letter-spacing:0.74px">error</span> <span style="left:108.8px;letter-spacing:0.35px">quickly</span> <span style="left:193.4px;letter-spacing:0.23px">rises</span> <span style="left:248.6px;letter-spacing:1.22px">to</span> <span style="left:281.0px;letter-spacing:0.01px">100%.</span> <span style="left:359.6px;letter-spacing:0.89px">In</span> <span style="left:390.8px;letter-spacing:1.02px">contrast,</span> <span style="left:493.8px;letter-spacing:1.22px">the</span> <span style="left:535.6px;letter-spacing:0.37px">er-</span></div>
<div class="ln" style="top:362.0px"><span style="left:5.3px;letter-spacing:0.83px">ror</span> <span style="left:42.7px;letter-spacing:0.67px">remains</span> <span style="left:130.3px;letter-spacing:0.80px">stable</span> <span style="left:198.0px;letter-spacing:1.89px">at</span> <span style="left:226.0px;letter-spacing:0.81px">approximately</span> <span style="left:382.0px;letter-spacing:0.01px">0.03%</span> <span style="left:451.0px;letter-spacing:1.00px">around</span> <span style="left:530.5px;letter-spacing:1.22px">the</span></div>
<div class="ln" style="top:390.7px"><span style="left:5.3px;letter-spacing:0.61px">minima</span> <span style="left:90.9px;letter-spacing:0.24px">found</span> <span style="left:158.8px;letter-spacing:0.30px">by</span> <span style="left:191.6px;letter-spacing:1.57px">DPPF.</span></div>
<div class="ln" style="top:338.5px"><span style="left:692.5px;letter-spacing:0.72px">Figure</span> <span style="left:768.2px;letter-spacing:-0.43px">5:</span> <span style="left:797.2px;letter-spacing:0.23px">3D</span> <span style="left:835.5px;letter-spacing:0.80px">train</span> <span style="left:892.7px;letter-spacing:0.69px">error</span> <span style="left:952.5px;letter-spacing:0.34px">(%)</span> <span style="left:997.6px;letter-spacing:0.54px">plots.</span></div>
<div class="ln" style="top:239.7px"><span style="left:67.2px;letter-spacing:0.62px">(a)</span> <span style="left:102.6px;letter-spacing:-0.59px">SimpleAvg</span></div>
<div class="ln" style="top:301.2px"><span style="left:659.3px;letter-spacing:0.62px">(a)</span> <span style="left:693.6px;letter-spacing:-0.57px">SimpleAvg</span></div>
<div class="ln" style="top:239.7px"><span style="left:330.5px;letter-spacing:0.51px">(b)</span> <span style="left:365.2px;letter-spacing:0.51px">DPPF<span class="sub" style="left:61.5px;letter-spacing:0.70px">SimpleAvg</span></span></div>
<div class="ln" style="top:301.1px"><span style="left:921.5px;letter-spacing:0.51px">(b)</span> <span style="left:957.6px;letter-spacing:0.51px">DPPF<span class="sub" style="left:61.2px;letter-spacing:0.73px">SimpleAvg</span></span></div>
</body></html>
